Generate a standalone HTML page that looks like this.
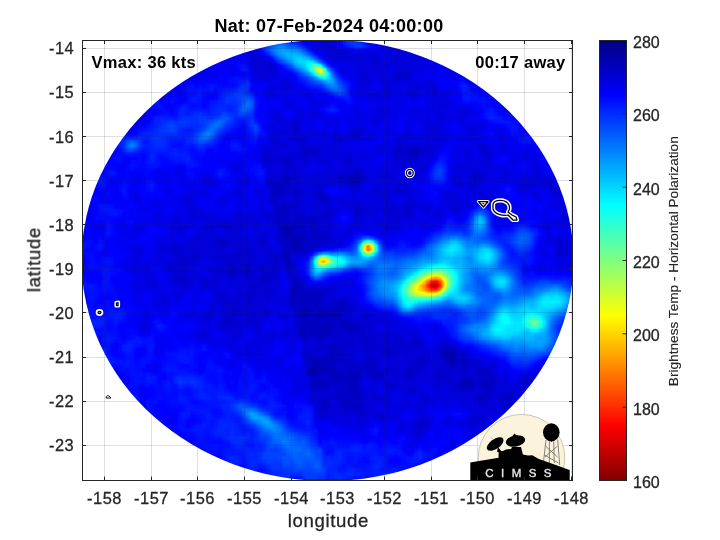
<!DOCTYPE html><html><head><meta charset="utf-8"><style>html,body{margin:0;padding:0;background:#fff;width:720px;height:540px;overflow:hidden}svg{display:block;will-change:transform}</style></head><body>
<svg width="720" height="540" viewBox="0 0 720 540">
<defs>
<filter id="jet" x="0" y="0" width="720" height="540" filterUnits="userSpaceOnUse" color-interpolation-filters="sRGB"><feGaussianBlur stdDeviation="1.2"/><feComponentTransfer><feFuncR type="table" tableValues="0 0 0 0 0.5 1 1 1 0.5"/><feFuncG type="table" tableValues="0 0 0.5 1 1 1 0.5 0 0"/><feFuncB type="table" tableValues="0.5 1 1 1 0.5 0 0 0 0"/><feFuncA type="identity"/></feComponentTransfer></filter>
<clipPath id="disk"><ellipse cx="327.5" cy="260.3" rx="246" ry="220.7"/></clipPath>
<clipPath id="ax"><rect x="82" y="40" width="490" height="440"/></clipPath>
<linearGradient id="cb" x1="0" y1="0" x2="0" y2="1"><stop offset="0.000" stop-color="#000080"/><stop offset="0.125" stop-color="#0000ff"/><stop offset="0.250" stop-color="#0080ff"/><stop offset="0.375" stop-color="#00ffff"/><stop offset="0.500" stop-color="#80ff80"/><stop offset="0.625" stop-color="#ffff00"/><stop offset="0.750" stop-color="#ff8000"/><stop offset="0.875" stop-color="#ff0000"/><stop offset="1.000" stop-color="#800000"/></linearGradient>
</defs>
<rect x="82" y="40" width="490" height="440" fill="#fff"/>
<g clip-path="url(#ax)"><g clip-path="url(#disk)"><g filter="url(#jet)" shape-rendering="crispEdges">
<rect x="0" y="0" width="720" height="540" fill="#1e1e1e"/>
<path fill="#0a0a0a" d="M450 356h4v4h-4z"/>
<path fill="#0b0b0b" d="M446 356h4v4h-4zM450 360h4v4h-4zM314 368h4v4h-4z"/>
<path fill="#0c0c0c" d="M354 176h4v4h-4zM286 228h4v4h-4zM286 232h4v4h-4zM282 256h4v4h-4zM450 352h4v4h-4zM314 364h4v4h-4zM310 368h4v4h-4z"/>
<path fill="#0d0d0d" d="M350 176h4v4h-4zM350 180h4v4h-4zM290 236h4v4h-4zM294 244h4v4h-4zM286 260h4v4h-4zM290 292h4v4h-4zM290 296h4v4h-4zM302 308h8v4h-8zM346 324h4v4h-4zM298 328h4v4h-4zM322 328h4v4h-4zM446 352h4v4h-4zM314 360h4v4h-4zM306 368h4v4h-4zM318 368h4v4h-4zM306 372h4v4h-4zM466 380h4v4h-4z"/>
<path fill="#0e0e0e" d="M354 180h4v4h-4zM282 228h4v4h-4zM286 236h4v4h-4zM290 240h12v4h-12zM298 244h4v4h-4zM282 252h4v4h-4zM286 264h4v4h-4zM290 288h4v4h-4zM294 292h4v4h-4zM310 292h4v4h-4zM294 296h4v4h-4zM302 304h4v4h-4zM302 312h4v4h-4zM318 312h8v4h-8zM334 312h4v4h-4zM322 324h8v4h-8zM298 332h4v4h-4zM322 332h4v4h-4zM442 352h4v4h-4zM318 360h4v4h-4zM446 360h4v4h-4zM318 364h4v4h-4zM322 368h8v4h-8zM310 372h8v4h-8zM330 372h4v4h-4zM346 380h4v4h-4zM462 380h4v4h-4zM470 380h4v4h-4z"/>
<path fill="#0f0f0f" d="M410 152h4v4h-4zM358 176h4v4h-4zM322 196h4v4h-4zM298 216h4v4h-4zM290 228h4v4h-4zM282 232h4v4h-4zM290 232h4v4h-4zM314 232h4v4h-4zM294 236h8v4h-8zM294 248h8v4h-8zM286 252h4v4h-4zM290 284h4v4h-4zM294 288h4v4h-4zM306 292h4v4h-4zM314 292h4v4h-4zM290 300h4v4h-4zM290 304h4v4h-4zM334 308h4v4h-4zM326 312h4v4h-4zM302 316h4v4h-4zM298 324h8v4h-8zM350 324h4v4h-4zM302 328h4v4h-4zM346 328h4v4h-4zM302 332h4v4h-4zM302 336h4v4h-4zM330 348h4v4h-4zM450 348h4v4h-4zM330 352h4v4h-4zM330 356h4v4h-4zM454 356h4v4h-4zM310 360h4v4h-4zM322 360h4v4h-4zM310 364h4v4h-4zM330 368h4v4h-4zM350 372h4v4h-4zM334 376h4v4h-4zM350 376h8v4h-8zM318 380h8v4h-8zM462 384h4v4h-4zM486 384h4v4h-4zM506 396h4v4h-4zM322 400h4v4h-4z"/>
<path fill="#101010" d="M410 148h8v4h-8zM286 176h4v4h-4zM274 188h8v4h-8zM274 192h4v4h-4zM282 212h4v4h-4zM274 216h4v4h-4zM274 220h4v4h-4zM298 220h4v4h-4zM286 224h4v4h-4zM278 228h4v4h-4zM218 240h8v4h-8zM286 240h4v4h-4zM290 244h4v4h-4zM282 248h4v4h-4zM286 256h4v4h-4zM230 272h4v4h-4zM290 280h4v4h-4zM294 284h8v4h-8zM298 288h4v4h-4zM318 292h4v4h-4zM306 296h8v4h-8zM342 300h4v4h-4zM306 304h4v4h-4zM338 304h4v4h-4zM318 308h8v4h-8zM330 308h4v4h-4zM338 308h4v4h-4zM298 312h4v4h-4zM306 312h4v4h-4zM330 312h4v4h-4zM338 312h4v4h-4zM298 316h4v4h-4zM318 316h4v4h-4zM334 316h8v4h-8zM310 320h8v4h-8zM306 324h8v4h-8zM318 324h4v4h-4zM342 324h4v4h-4zM318 328h4v4h-4zM326 328h4v4h-4zM350 328h4v4h-4zM314 332h8v4h-8zM318 336h4v4h-4zM334 348h4v4h-4zM334 352h4v4h-4zM454 352h4v4h-4zM326 356h4v4h-4zM330 360h4v4h-4zM454 360h4v4h-4zM322 364h4v4h-4zM334 372h4v4h-4zM354 372h4v4h-4zM378 372h4v4h-4zM314 376h4v4h-4zM330 376h4v4h-4zM338 376h12v4h-12zM314 380h4v4h-4zM342 380h4v4h-4zM350 380h8v4h-8zM486 380h4v4h-4zM310 384h4v4h-4zM322 384h4v4h-4zM346 384h12v4h-12zM466 384h4v4h-4zM482 384h4v4h-4zM354 388h4v4h-4zM346 396h4v4h-4zM478 396h4v4h-4zM506 408h4v4h-4zM506 412h4v4h-4z"/>
<path fill="#111111" d="M306 148h8v4h-8zM406 148h4v4h-4zM306 152h4v4h-4zM414 152h4v4h-4zM262 156h4v4h-4zM354 172h4v4h-4zM338 176h12v4h-12zM346 180h4v4h-4zM270 184h4v4h-4zM278 184h4v4h-4zM270 188h4v4h-4zM270 192h4v4h-4zM278 192h4v4h-4zM270 196h4v4h-4zM270 200h4v4h-4zM274 204h4v4h-4zM282 204h4v4h-4zM274 208h12v4h-12zM278 212h4v4h-4zM310 220h4v4h-4zM278 224h8v4h-8zM290 224h4v4h-4zM298 224h4v4h-4zM278 232h4v4h-4zM298 232h8v4h-8zM310 232h4v4h-4zM318 232h4v4h-4zM302 236h4v4h-4zM258 240h4v4h-4zM218 244h4v4h-4zM282 244h8v4h-8zM286 248h8v4h-8zM290 264h4v4h-4zM230 268h4v4h-4zM286 268h4v4h-4zM262 276h4v4h-4zM298 296h8v4h-8zM314 296h4v4h-4zM298 300h8v4h-8zM338 300h4v4h-4zM298 304h4v4h-4zM314 304h4v4h-4zM334 304h4v4h-4zM342 304h4v4h-4zM298 308h4v4h-4zM310 308h4v4h-4zM326 308h4v4h-4zM310 312h8v4h-8zM306 316h4v4h-4zM314 316h4v4h-4zM322 316h12v4h-12zM226 320h4v4h-4zM302 320h8v4h-8zM318 320h12v4h-12zM338 320h8v4h-8zM314 324h4v4h-4zM330 324h4v4h-4zM354 324h4v4h-4zM354 328h4v4h-4zM310 332h4v4h-4zM326 332h4v4h-4zM330 344h4v4h-4zM446 348h4v4h-4zM454 348h4v4h-4zM302 352h4v4h-4zM338 352h4v4h-4zM438 352h4v4h-4zM310 356h8v4h-8zM334 356h8v4h-8zM418 356h4v4h-4zM442 356h4v4h-4zM306 360h4v4h-4zM326 360h4v4h-4zM366 360h8v4h-8zM462 360h4v4h-4zM306 364h4v4h-4zM326 364h8v4h-8zM418 364h4v4h-4zM450 364h4v4h-4zM462 364h4v4h-4zM346 368h8v4h-8zM326 372h4v4h-4zM346 372h4v4h-4zM370 372h8v4h-8zM406 372h4v4h-4zM486 372h4v4h-4zM406 376h4v4h-4zM462 376h4v4h-4zM490 376h4v4h-4zM310 380h4v4h-4zM326 380h12v4h-12zM482 380h4v4h-4zM490 380h4v4h-4zM318 384h4v4h-4zM350 388h4v4h-4zM486 388h4v4h-4zM338 392h4v4h-4zM350 392h8v4h-8zM350 396h4v4h-4zM482 396h4v4h-4zM502 396h4v4h-4zM342 400h8v4h-8zM322 404h4v4h-4zM418 424h4v4h-4z"/>
<path fill="#121212" d="M354 132h4v4h-4zM314 148h4v4h-4zM398 148h4v4h-4zM418 148h4v4h-4zM262 152h4v4h-4zM302 152h4v4h-4zM398 152h4v4h-4zM406 152h4v4h-4zM410 156h8v4h-8zM286 160h4v4h-4zM350 172h4v4h-4zM358 172h4v4h-4zM474 172h4v4h-4zM282 176h4v4h-4zM474 176h4v4h-4zM358 180h4v4h-4zM474 180h4v4h-4zM274 184h4v4h-4zM282 184h4v4h-4zM350 184h4v4h-4zM282 188h4v4h-4zM294 188h4v4h-4zM294 192h4v4h-4zM318 192h4v4h-4zM274 196h4v4h-4zM318 196h4v4h-4zM286 204h4v4h-4zM354 208h4v4h-4zM274 212h4v4h-4zM326 212h4v4h-4zM278 216h8v4h-8zM302 216h4v4h-4zM310 216h4v4h-4zM278 220h4v4h-4zM290 220h8v4h-8zM314 220h4v4h-4zM222 224h4v4h-4zM278 236h8v4h-8zM314 236h16v4h-16zM282 240h4v4h-4zM302 240h4v4h-4zM310 240h8v4h-8zM302 244h4v4h-4zM310 244h8v4h-8zM302 248h4v4h-4zM270 252h4v4h-4zM270 256h8v4h-8zM290 260h4v4h-4zM226 268h4v4h-4zM266 272h4v4h-4zM178 276h4v4h-4zM266 276h4v4h-4zM290 276h4v4h-4zM294 280h4v4h-4zM302 288h4v4h-4zM314 288h8v4h-8zM250 292h4v4h-4zM298 292h8v4h-8zM318 296h4v4h-4zM294 300h4v4h-4zM314 300h4v4h-4zM310 304h4v4h-4zM294 308h4v4h-4zM314 308h4v4h-4zM342 308h4v4h-4zM294 312h4v4h-4zM310 316h4v4h-4zM222 320h4v4h-4zM298 320h4v4h-4zM330 320h4v4h-4zM346 320h4v4h-4zM358 324h4v4h-4zM306 328h12v4h-12zM330 328h8v4h-8zM358 328h4v4h-4zM306 332h4v4h-4zM334 332h4v4h-4zM314 336h4v4h-4zM322 336h4v4h-4zM362 336h4v4h-4zM414 340h4v4h-4zM326 344h4v4h-4zM334 344h4v4h-4zM390 348h4v4h-4zM442 348h4v4h-4zM326 352h4v4h-4zM390 352h4v4h-4zM302 356h8v4h-8zM318 356h8v4h-8zM342 356h4v4h-4zM422 356h4v4h-4zM334 360h4v4h-4zM458 360h4v4h-4zM334 364h4v4h-4zM350 364h20v4h-20zM466 364h4v4h-4zM334 368h4v4h-4zM354 368h8v4h-8zM410 368h8v4h-8zM478 368h4v4h-4zM318 372h4v4h-4zM338 372h8v4h-8zM358 372h4v4h-4zM482 372h4v4h-4zM310 376h4v4h-4zM318 376h4v4h-4zM358 376h4v4h-4zM374 376h8v4h-8zM466 376h4v4h-4zM486 376h4v4h-4zM314 384h4v4h-4zM326 384h4v4h-4zM390 384h4v4h-4zM458 384h4v4h-4zM470 384h4v4h-4zM490 384h4v4h-4zM310 388h4v4h-4zM346 388h4v4h-4zM410 388h4v4h-4zM458 388h4v4h-4zM334 392h4v4h-4zM346 392h4v4h-4zM358 392h4v4h-4zM482 392h4v4h-4zM506 392h4v4h-4zM322 396h4v4h-4zM334 396h12v4h-12zM358 396h4v4h-4zM474 396h4v4h-4zM510 396h4v4h-4zM478 400h4v4h-4zM346 404h12v4h-12zM510 404h8v4h-8zM318 408h8v4h-8zM502 408h4v4h-4zM510 408h4v4h-4z"/>
<path fill="#131313" d="M334 52h4v4h-4zM398 72h4v4h-4zM398 144h4v4h-4zM394 148h4v4h-4zM310 152h4v4h-4zM394 152h4v4h-4zM402 152h4v4h-4zM282 156h8v4h-8zM394 156h4v4h-4zM262 160h4v4h-4zM282 160h4v4h-4zM282 172h4v4h-4zM342 172h4v4h-4zM478 172h4v4h-4zM290 176h8v4h-8zM334 176h4v4h-4zM478 176h4v4h-4zM270 180h4v4h-4zM282 180h8v4h-8zM338 180h4v4h-4zM266 184h4v4h-4zM286 184h4v4h-4zM290 188h4v4h-4zM562 188h4v4h-4zM282 192h4v4h-4zM326 196h4v4h-4zM274 200h4v4h-4zM278 204h4v4h-4zM290 204h8v4h-8zM406 204h4v4h-4zM286 208h4v4h-4zM358 208h4v4h-4zM406 208h4v4h-4zM286 212h4v4h-4zM298 212h4v4h-4zM322 212h4v4h-4zM354 212h4v4h-4zM406 212h4v4h-4zM294 216h4v4h-4zM314 216h4v4h-4zM394 216h4v4h-4zM282 220h8v4h-8zM302 220h4v4h-4zM226 224h4v4h-4zM294 224h4v4h-4zM302 224h4v4h-4zM310 224h4v4h-4zM298 228h8v4h-8zM314 228h4v4h-4zM294 232h4v4h-4zM306 232h4v4h-4zM322 232h4v4h-4zM258 236h4v4h-4zM306 236h8v4h-8zM226 240h4v4h-4zM262 240h4v4h-4zM278 240h4v4h-4zM322 240h8v4h-8zM258 244h4v4h-4zM174 248h4v4h-4zM234 252h4v4h-4zM290 252h4v4h-4zM558 252h4v4h-4zM194 256h4v4h-4zM226 256h4v4h-4zM182 260h4v4h-4zM226 260h4v4h-4zM274 260h4v4h-4zM226 264h8v4h-8zM242 264h8v4h-8zM246 268h4v4h-4zM226 272h4v4h-4zM234 272h4v4h-4zM246 272h4v4h-4zM262 272h4v4h-4zM286 272h8v4h-8zM182 276h4v4h-4zM230 276h4v4h-4zM286 276h4v4h-4zM294 276h4v4h-4zM262 280h4v4h-4zM254 284h4v4h-4zM302 284h4v4h-4zM250 288h4v4h-4zM310 288h4v4h-4zM322 288h8v4h-8zM226 300h8v4h-8zM306 300h8v4h-8zM294 304h4v4h-4zM318 304h4v4h-4zM330 304h4v4h-4zM234 308h4v4h-4zM346 308h4v4h-4zM226 316h4v4h-4zM294 316h4v4h-4zM230 320h4v4h-4zM250 320h4v4h-4zM334 320h4v4h-4zM350 320h4v4h-4zM222 324h4v4h-4zM334 324h8v4h-8zM362 324h4v4h-4zM342 328h4v4h-4zM362 328h4v4h-4zM330 332h4v4h-4zM362 332h4v4h-4zM306 336h4v4h-4zM334 336h4v4h-4zM394 336h4v4h-4zM334 340h4v4h-4zM346 340h4v4h-4zM370 340h4v4h-4zM394 340h8v4h-8zM322 344h4v4h-4zM398 344h4v4h-4zM442 344h12v4h-12zM310 348h4v4h-4zM326 348h4v4h-4zM338 348h4v4h-4zM386 348h4v4h-4zM438 348h4v4h-4zM306 352h4v4h-4zM342 352h4v4h-4zM386 352h4v4h-4zM462 352h4v4h-4zM346 356h4v4h-4zM366 356h4v4h-4zM458 356h8v4h-8zM338 360h16v4h-16zM362 360h4v4h-4zM374 360h4v4h-4zM418 360h4v4h-4zM466 360h4v4h-4zM474 360h4v4h-4zM346 364h4v4h-4zM370 364h4v4h-4zM414 364h4v4h-4zM446 364h4v4h-4zM454 364h4v4h-4zM474 364h4v4h-4zM366 368h12v4h-12zM386 368h8v4h-8zM406 368h4v4h-4zM418 368h4v4h-4zM474 368h4v4h-4zM482 368h8v4h-8zM538 368h8v4h-8zM410 372h4v4h-4zM438 372h8v4h-8zM478 372h4v4h-4zM490 372h4v4h-4zM538 372h4v4h-4zM326 376h4v4h-4zM370 376h4v4h-4zM434 376h12v4h-12zM338 380h4v4h-4zM458 380h4v4h-4zM474 380h4v4h-4zM526 380h4v4h-4zM342 384h4v4h-4zM386 384h4v4h-4zM450 384h4v4h-4zM314 388h4v4h-4zM334 388h4v4h-4zM358 388h4v4h-4zM482 388h4v4h-4zM490 388h4v4h-4zM342 392h4v4h-4zM478 392h4v4h-4zM486 392h4v4h-4zM502 392h4v4h-4zM354 396h4v4h-4zM374 396h4v4h-4zM318 400h4v4h-4zM326 400h4v4h-4zM350 400h12v4h-12zM482 400h4v4h-4zM506 400h4v4h-4zM326 404h4v4h-4zM342 404h4v4h-4zM358 404h4v4h-4zM506 404h4v4h-4zM354 408h4v4h-4zM358 412h4v4h-4zM422 420h4v4h-4zM470 420h4v4h-4zM422 424h4v4h-4z"/>
<path fill="#141414" d="M250 56h4v4h-4zM394 56h4v4h-4zM250 60h8v4h-8zM394 60h4v4h-4zM270 64h4v4h-4zM362 72h4v4h-4zM394 72h4v4h-4zM402 72h8v4h-8zM394 76h4v4h-4zM410 92h4v4h-4zM294 120h4v4h-4zM294 124h4v4h-4zM294 128h4v4h-4zM358 132h4v4h-4zM334 136h8v4h-8zM334 140h4v4h-4zM406 144h4v4h-4zM414 144h4v4h-4zM302 148h4v4h-4zM318 148h4v4h-4zM402 148h4v4h-4zM422 148h4v4h-4zM482 148h4v4h-4zM314 152h4v4h-4zM486 152h4v4h-4zM266 156h4v4h-4zM278 156h4v4h-4zM302 156h4v4h-4zM346 156h4v4h-4zM398 156h4v4h-4zM406 156h4v4h-4zM290 160h4v4h-4zM346 160h4v4h-4zM286 164h8v4h-8zM354 168h4v4h-4zM286 172h4v4h-4zM346 172h4v4h-4zM470 172h4v4h-4zM362 176h4v4h-4zM470 176h4v4h-4zM266 180h4v4h-4zM274 180h8v4h-8zM342 180h4v4h-4zM290 184h4v4h-4zM474 184h4v4h-4zM286 188h4v4h-4zM374 188h4v4h-4zM394 188h8v4h-8zM558 188h4v4h-4zM298 192h4v4h-4zM314 192h4v4h-4zM322 192h4v4h-4zM294 200h4v4h-4zM322 200h4v4h-4zM354 204h8v4h-8zM290 208h8v4h-8zM326 208h4v4h-4zM362 208h4v4h-4zM394 208h4v4h-4zM290 212h8v4h-8zM286 216h8v4h-8zM306 216h4v4h-4zM318 216h12v4h-12zM566 216h4v4h-4zM210 224h4v4h-4zM314 224h4v4h-4zM294 228h4v4h-4zM310 228h4v4h-4zM326 232h4v4h-4zM218 236h4v4h-4zM214 240h4v4h-4zM230 240h8v4h-8zM306 240h4v4h-4zM318 240h4v4h-4zM558 240h4v4h-4zM170 244h8v4h-8zM222 244h4v4h-4zM558 244h4v4h-4zM170 248h4v4h-4zM246 248h4v4h-4zM558 248h4v4h-4zM174 252h4v4h-4zM194 252h4v4h-4zM238 252h12v4h-12zM274 252h4v4h-4zM294 252h4v4h-4zM190 256h4v4h-4zM218 256h8v4h-8zM230 256h12v4h-12zM278 256h4v4h-4zM178 260h4v4h-4zM242 260h8v4h-8zM270 260h4v4h-4zM258 264h4v4h-4zM214 268h12v4h-12zM234 268h4v4h-4zM242 268h4v4h-4zM266 268h4v4h-4zM290 268h4v4h-4zM178 272h8v4h-8zM214 272h4v4h-4zM250 272h4v4h-4zM270 272h8v4h-8zM174 276h4v4h-4zM178 280h8v4h-8zM202 280h8v4h-8zM258 280h4v4h-4zM266 280h4v4h-4zM298 280h4v4h-4zM250 284h4v4h-4zM254 288h4v4h-4zM266 288h4v4h-4zM306 288h4v4h-4zM330 288h4v4h-4zM246 292h4v4h-4zM322 292h4v4h-4zM246 296h8v4h-8zM222 300h4v4h-4zM318 300h4v4h-4zM334 300h4v4h-4zM222 304h12v4h-12zM246 304h8v4h-8zM346 304h4v4h-4zM230 308h4v4h-4zM234 312h4v4h-4zM254 312h4v4h-4zM342 312h4v4h-4zM230 316h4v4h-4zM250 316h4v4h-4zM342 316h4v4h-4zM362 316h4v4h-4zM234 320h4v4h-4zM254 320h4v4h-4zM294 320h4v4h-4zM354 320h4v4h-4zM362 320h12v4h-12zM226 324h4v4h-4zM234 324h4v4h-4zM366 324h4v4h-4zM338 328h4v4h-4zM346 332h8v4h-8zM358 332h4v4h-4zM310 336h4v4h-4zM366 336h8v4h-8zM382 336h8v4h-8zM398 336h4v4h-4zM302 340h4v4h-4zM338 340h8v4h-8zM362 340h8v4h-8zM382 340h8v4h-8zM410 340h4v4h-4zM418 340h4v4h-4zM338 344h12v4h-12zM370 344h8v4h-8zM394 344h4v4h-4zM402 344h4v4h-4zM414 344h8v4h-8zM302 348h4v4h-4zM314 348h4v4h-4zM342 348h4v4h-4zM382 348h4v4h-4zM394 348h4v4h-4zM402 348h8v4h-8zM310 352h4v4h-4zM346 352h8v4h-8zM394 352h4v4h-4zM406 352h4v4h-4zM418 352h4v4h-4zM458 352h4v4h-4zM350 356h4v4h-4zM370 356h4v4h-4zM414 356h4v4h-4zM426 356h4v4h-4zM354 360h4v4h-4zM414 360h4v4h-4zM426 360h4v4h-4zM470 360h4v4h-4zM338 364h4v4h-4zM374 364h4v4h-4zM390 364h4v4h-4zM406 364h4v4h-4zM434 364h8v4h-8zM458 364h4v4h-4zM338 368h8v4h-8zM362 368h4v4h-4zM378 368h4v4h-4zM394 368h4v4h-4zM438 368h4v4h-4zM462 368h4v4h-4zM490 368h4v4h-4zM322 372h4v4h-4zM366 372h4v4h-4zM382 372h4v4h-4zM434 372h4v4h-4zM462 372h4v4h-4zM474 372h4v4h-4zM402 376h4v4h-4zM410 376h4v4h-4zM470 376h16v4h-16zM526 376h4v4h-4zM538 376h4v4h-4zM390 380h4v4h-4zM434 380h4v4h-4zM446 380h8v4h-8zM522 380h4v4h-4zM530 380h4v4h-4zM330 384h8v4h-8zM434 384h4v4h-4zM454 384h4v4h-4zM318 388h8v4h-8zM338 388h8v4h-8zM406 388h4v4h-4zM414 388h4v4h-4zM454 388h4v4h-4zM462 388h4v4h-4zM310 392h4v4h-4zM510 392h4v4h-4zM310 396h4v4h-4zM318 396h4v4h-4zM486 396h4v4h-4zM498 396h4v4h-4zM338 400h4v4h-4zM418 400h8v4h-8zM474 400h4v4h-4zM486 400h4v4h-4zM510 400h4v4h-4zM318 404h4v4h-4zM326 408h4v4h-4zM346 408h8v4h-8zM358 408h4v4h-4zM318 412h8v4h-8zM354 412h4v4h-4zM362 412h4v4h-4zM502 412h4v4h-4zM418 420h4v4h-4zM478 420h8v4h-8zM414 424h4v4h-4zM418 428h4v4h-4z"/>
<path fill="#151515" d="M330 48h8v4h-8zM330 52h4v4h-4zM338 52h12v4h-12zM394 52h4v4h-4zM418 52h4v4h-4zM254 56h8v4h-8zM334 56h4v4h-4zM358 56h4v4h-4zM374 56h4v4h-4zM406 56h4v4h-4zM418 56h4v4h-4zM258 60h4v4h-4zM374 60h4v4h-4zM266 64h4v4h-4zM374 64h4v4h-4zM398 64h4v4h-4zM270 68h4v4h-4zM378 68h4v4h-4zM406 68h4v4h-4zM362 76h4v4h-4zM398 76h8v4h-8zM470 76h4v4h-4zM282 84h4v4h-4zM430 84h4v4h-4zM386 88h4v4h-4zM410 88h4v4h-4zM434 128h4v4h-4zM334 132h4v4h-4zM350 132h4v4h-4zM298 136h4v4h-4zM354 136h4v4h-4zM270 140h8v4h-8zM298 140h8v4h-8zM338 140h4v4h-4zM398 140h4v4h-4zM302 144h8v4h-8zM318 144h4v4h-4zM334 144h4v4h-4zM402 144h4v4h-4zM410 144h4v4h-4zM418 144h4v4h-4zM426 144h8v4h-8zM482 144h4v4h-4zM426 148h4v4h-4zM486 148h4v4h-4zM266 152h4v4h-4zM418 152h4v4h-4zM482 152h4v4h-4zM290 156h4v4h-4zM306 156h4v4h-4zM402 156h4v4h-4zM486 156h4v4h-4zM266 160h4v4h-4zM278 160h4v4h-4zM342 160h4v4h-4zM394 160h4v4h-4zM282 164h4v4h-4zM422 164h4v4h-4zM282 168h4v4h-4zM294 168h4v4h-4zM358 168h4v4h-4zM418 168h8v4h-8zM338 172h4v4h-4zM266 176h8v4h-8zM278 176h4v4h-4zM298 176h4v4h-4zM310 176h4v4h-4zM290 180h4v4h-4zM314 180h4v4h-4zM334 180h4v4h-4zM458 180h4v4h-4zM542 180h8v4h-8zM318 184h4v4h-4zM354 184h4v4h-4zM374 184h4v4h-4zM398 184h8v4h-8zM458 184h4v4h-4zM522 184h4v4h-4zM546 184h4v4h-4zM318 188h4v4h-4zM402 188h4v4h-4zM554 188h4v4h-4zM290 192h4v4h-4zM382 192h8v4h-8zM562 192h4v4h-4zM294 196h4v4h-4zM314 196h4v4h-4zM282 200h4v4h-4zM290 200h4v4h-4zM326 200h4v4h-4zM386 200h4v4h-4zM450 200h4v4h-4zM314 204h4v4h-4zM390 204h8v4h-8zM410 204h4v4h-4zM454 204h4v4h-4zM322 208h4v4h-4zM366 208h4v4h-4zM386 208h8v4h-8zM262 212h8v4h-8zM302 212h4v4h-4zM318 212h4v4h-4zM330 212h4v4h-4zM358 212h4v4h-4zM386 212h12v4h-12zM438 212h4v4h-4zM566 212h4v4h-4zM234 216h8v4h-8zM266 216h4v4h-4zM354 216h4v4h-4zM390 216h4v4h-4zM406 216h4v4h-4zM562 216h4v4h-4zM222 220h4v4h-4zM306 220h4v4h-4zM390 220h4v4h-4zM178 224h4v4h-4zM326 224h4v4h-4zM178 228h4v4h-4zM202 228h4v4h-4zM226 228h4v4h-4zM318 228h4v4h-4zM194 236h8v4h-8zM214 236h4v4h-4zM222 236h4v4h-4zM262 236h4v4h-4zM194 240h4v4h-4zM238 240h4v4h-4zM330 240h4v4h-4zM186 244h4v4h-4zM214 244h4v4h-4zM238 244h4v4h-4zM262 244h4v4h-4zM306 244h4v4h-4zM318 244h8v4h-8zM218 248h4v4h-4zM266 248h8v4h-8zM306 248h4v4h-4zM570 248h4v4h-4zM190 252h4v4h-4zM198 252h4v4h-4zM210 252h12v4h-12zM230 252h4v4h-4zM298 252h4v4h-4zM178 256h12v4h-12zM210 256h8v4h-8zM242 256h4v4h-4zM174 260h4v4h-4zM186 260h8v4h-8zM222 260h4v4h-4zM230 260h4v4h-4zM250 260h4v4h-4zM170 264h8v4h-8zM182 264h4v4h-4zM262 264h4v4h-4zM270 264h8v4h-8zM182 268h4v4h-4zM262 268h4v4h-4zM270 268h8v4h-8zM174 272h4v4h-4zM218 272h8v4h-8zM242 272h4v4h-4zM294 272h4v4h-4zM234 276h4v4h-4zM246 276h8v4h-8zM258 276h4v4h-4zM270 276h4v4h-4zM298 276h4v4h-4zM174 280h4v4h-4zM186 280h4v4h-4zM210 280h4v4h-4zM254 280h4v4h-4zM270 280h4v4h-4zM182 284h8v4h-8zM202 284h4v4h-4zM258 284h4v4h-4zM266 284h4v4h-4zM258 288h8v4h-8zM214 292h12v4h-12zM238 292h4v4h-4zM254 292h4v4h-4zM262 292h12v4h-12zM326 292h8v4h-8zM162 296h4v4h-4zM222 296h4v4h-4zM266 296h4v4h-4zM322 296h4v4h-4zM342 296h4v4h-4zM234 300h4v4h-4zM246 300h8v4h-8zM330 300h4v4h-4zM234 304h4v4h-4zM258 304h4v4h-4zM322 304h8v4h-8zM350 304h4v4h-4zM210 308h4v4h-4zM238 308h4v4h-4zM258 308h12v4h-12zM350 308h4v4h-4zM206 312h4v4h-4zM226 312h8v4h-8zM250 312h4v4h-4zM266 312h4v4h-4zM366 312h4v4h-4zM222 316h4v4h-4zM254 316h4v4h-4zM282 316h4v4h-4zM366 316h4v4h-4zM246 320h4v4h-4zM358 320h4v4h-4zM374 320h4v4h-4zM230 324h4v4h-4zM238 324h4v4h-4zM254 324h4v4h-4zM370 324h4v4h-4zM366 328h4v4h-4zM198 332h8v4h-8zM234 332h4v4h-4zM270 332h4v4h-4zM338 332h8v4h-8zM354 332h4v4h-4zM366 332h4v4h-4zM386 332h12v4h-12zM330 336h4v4h-4zM338 336h12v4h-12zM358 336h4v4h-4zM374 336h8v4h-8zM318 340h8v4h-8zM350 340h4v4h-4zM358 340h4v4h-4zM374 340h4v4h-4zM310 344h4v4h-4zM350 344h8v4h-8zM362 344h8v4h-8zM378 344h16v4h-16zM406 344h8v4h-8zM454 344h4v4h-4zM322 348h4v4h-4zM350 348h4v4h-4zM366 348h16v4h-16zM398 348h4v4h-4zM410 348h4v4h-4zM418 348h4v4h-4zM314 352h12v4h-12zM382 352h4v4h-4zM410 352h4v4h-4zM422 352h4v4h-4zM434 352h4v4h-4zM466 352h4v4h-4zM374 356h4v4h-4zM386 356h12v4h-12zM406 356h8v4h-8zM438 356h4v4h-4zM358 360h4v4h-4zM410 360h4v4h-4zM422 360h4v4h-4zM430 360h8v4h-8zM342 364h4v4h-4zM394 364h4v4h-4zM410 364h4v4h-4zM422 364h4v4h-4zM470 364h4v4h-4zM478 364h4v4h-4zM434 368h4v4h-4zM442 368h12v4h-12zM458 368h4v4h-4zM466 368h4v4h-4zM390 372h8v4h-8zM402 372h4v4h-4zM414 372h8v4h-8zM446 372h4v4h-4zM458 372h4v4h-4zM322 376h4v4h-4zM394 376h4v4h-4zM422 376h4v4h-4zM446 376h4v4h-4zM458 376h4v4h-4zM494 376h4v4h-4zM522 376h4v4h-4zM358 380h4v4h-4zM394 380h4v4h-4zM438 380h4v4h-4zM478 380h4v4h-4zM494 380h4v4h-4zM518 380h4v4h-4zM394 384h4v4h-4zM410 384h4v4h-4zM438 384h4v4h-4zM474 384h8v4h-8zM326 388h4v4h-4zM514 388h4v4h-4zM314 392h4v4h-4zM370 392h4v4h-4zM458 392h4v4h-4zM474 392h4v4h-4zM498 392h4v4h-4zM326 396h4v4h-4zM362 396h4v4h-4zM370 396h4v4h-4zM378 396h12v4h-12zM422 396h8v4h-8zM470 396h4v4h-4zM310 400h4v4h-4zM362 400h4v4h-4zM502 400h4v4h-4zM338 404h4v4h-4zM362 404h4v4h-4zM478 404h12v4h-12zM502 404h4v4h-4zM314 408h4v4h-4zM342 408h4v4h-4zM490 408h4v4h-4zM346 412h8v4h-8zM374 412h8v4h-8zM378 416h4v4h-4zM470 416h12v4h-12zM426 420h4v4h-4zM466 420h4v4h-4zM474 420h4v4h-4zM414 428h4v4h-4z"/>
<path fill="#161616" d="M322 40h8v4h-8zM326 44h4v4h-4zM390 44h4v4h-4zM394 48h4v4h-4zM358 52h4v4h-4zM398 52h4v4h-4zM406 52h4v4h-4zM422 52h4v4h-4zM354 56h4v4h-4zM370 56h4v4h-4zM390 56h4v4h-4zM410 56h8v4h-8zM266 60h4v4h-4zM358 60h4v4h-4zM378 60h4v4h-4zM390 60h4v4h-4zM250 64h12v4h-12zM370 64h4v4h-4zM378 64h4v4h-4zM402 64h4v4h-4zM362 68h4v4h-4zM398 68h8v4h-8zM258 72h8v4h-8zM366 72h4v4h-4zM378 72h4v4h-4zM262 76h4v4h-4zM366 76h4v4h-4zM390 76h4v4h-4zM406 76h4v4h-4zM282 80h4v4h-4zM430 80h4v4h-4zM278 84h4v4h-4zM426 84h4v4h-4zM406 92h4v4h-4zM414 92h4v4h-4zM430 124h8v4h-8zM274 128h4v4h-4zM290 128h4v4h-4zM298 128h4v4h-4zM354 128h8v4h-8zM430 128h4v4h-4zM294 132h8v4h-8zM430 132h8v4h-8zM270 136h4v4h-4zM294 136h4v4h-4zM302 136h4v4h-4zM346 136h8v4h-8zM358 136h4v4h-4zM278 140h4v4h-4zM430 140h4v4h-4zM274 144h8v4h-8zM310 144h8v4h-8zM330 144h4v4h-4zM394 144h4v4h-4zM422 144h4v4h-4zM262 148h4v4h-4zM286 152h4v4h-4zM298 152h4v4h-4zM334 152h4v4h-4zM346 152h4v4h-4zM426 152h8v4h-8zM270 156h8v4h-8zM326 156h4v4h-4zM342 156h4v4h-4zM418 156h4v4h-4zM274 160h4v4h-4zM302 160h4v4h-4zM318 160h4v4h-4zM398 160h20v4h-20zM426 160h4v4h-4zM294 164h4v4h-4zM354 164h4v4h-4zM402 164h4v4h-4zM486 164h4v4h-4zM286 168h8v4h-8zM406 168h4v4h-4zM454 168h4v4h-4zM474 168h4v4h-4zM290 172h8v4h-8zM362 172h4v4h-4zM406 172h4v4h-4zM202 176h4v4h-4zM314 176h4v4h-4zM330 176h4v4h-4zM378 176h4v4h-4zM530 176h4v4h-4zM206 180h4v4h-4zM310 180h4v4h-4zM318 180h8v4h-8zM362 180h4v4h-4zM454 180h4v4h-4zM470 180h4v4h-4zM478 180h4v4h-4zM526 180h8v4h-8zM294 184h4v4h-4zM314 184h4v4h-4zM394 184h4v4h-4zM470 184h4v4h-4zM526 184h4v4h-4zM550 184h4v4h-4zM298 188h4v4h-4zM314 188h4v4h-4zM386 188h4v4h-4zM406 188h4v4h-4zM550 188h4v4h-4zM286 192h4v4h-4zM310 192h4v4h-4zM374 192h8v4h-8zM554 192h8v4h-8zM278 196h4v4h-4zM290 196h4v4h-4zM298 196h4v4h-4zM382 196h8v4h-8zM478 196h4v4h-4zM186 200h4v4h-4zM286 200h4v4h-4zM298 200h4v4h-4zM314 200h8v4h-8zM454 200h4v4h-4zM298 204h4v4h-4zM322 204h8v4h-8zM346 204h4v4h-4zM386 204h4v4h-4zM402 204h4v4h-4zM422 204h4v4h-4zM450 204h4v4h-4zM314 208h8v4h-8zM330 208h4v4h-4zM370 208h4v4h-4zM382 208h4v4h-4zM402 208h4v4h-4zM410 208h4v4h-4zM422 208h4v4h-4zM454 208h4v4h-4zM190 212h4v4h-4zM234 212h8v4h-8zM310 212h8v4h-8zM362 212h8v4h-8zM402 212h4v4h-4zM410 212h4v4h-4zM562 212h4v4h-4zM250 216h4v4h-4zM238 220h4v4h-4zM250 220h4v4h-4zM326 220h4v4h-4zM354 220h4v4h-4zM386 220h4v4h-4zM394 220h4v4h-4zM202 224h8v4h-8zM238 224h4v4h-4zM306 224h4v4h-4zM206 228h8v4h-8zM230 228h12v4h-12zM306 228h4v4h-4zM322 228h8v4h-8zM346 228h4v4h-4zM198 232h4v4h-4zM230 232h8v4h-8zM330 232h4v4h-4zM346 232h4v4h-4zM210 236h4v4h-4zM226 236h4v4h-4zM330 236h4v4h-4zM558 236h4v4h-4zM170 240h4v4h-4zM186 240h8v4h-8zM198 240h4v4h-4zM210 240h4v4h-4zM246 240h4v4h-4zM254 240h4v4h-4zM334 240h4v4h-4zM554 240h4v4h-4zM562 240h4v4h-4zM158 244h4v4h-4zM182 244h4v4h-4zM190 244h8v4h-8zM226 244h12v4h-12zM246 244h4v4h-4zM254 244h4v4h-4zM562 244h4v4h-4zM570 244h4v4h-4zM166 248h4v4h-4zM186 248h12v4h-12zM214 248h4v4h-4zM238 248h8v4h-8zM310 248h4v4h-4zM562 248h4v4h-4zM178 252h4v4h-4zM222 252h8v4h-8zM250 252h4v4h-4zM266 252h4v4h-4zM302 252h4v4h-4zM562 252h4v4h-4zM174 256h4v4h-4zM198 256h4v4h-4zM246 256h8v4h-8zM290 256h4v4h-4zM558 256h4v4h-4zM170 260h4v4h-4zM194 260h4v4h-4zM238 260h4v4h-4zM262 260h8v4h-8zM278 260h4v4h-4zM166 264h4v4h-4zM178 264h4v4h-4zM186 264h4v4h-4zM222 264h4v4h-4zM234 264h8v4h-8zM250 264h8v4h-8zM266 264h4v4h-4zM570 264h4v4h-4zM170 268h8v4h-8zM210 268h4v4h-4zM238 268h4v4h-4zM250 268h4v4h-4zM258 268h4v4h-4zM186 272h4v4h-4zM254 272h4v4h-4zM186 276h4v4h-4zM194 276h8v4h-8zM210 276h8v4h-8zM226 276h4v4h-4zM254 276h4v4h-4zM274 276h4v4h-4zM146 280h4v4h-4zM214 280h4v4h-4zM246 280h8v4h-8zM178 284h4v4h-4zM206 284h8v4h-8zM262 284h4v4h-4zM270 284h4v4h-4zM238 288h4v4h-4zM270 288h4v4h-4zM334 288h4v4h-4zM234 292h4v4h-4zM242 292h4v4h-4zM258 292h4v4h-4zM226 296h4v4h-4zM242 296h4v4h-4zM262 296h4v4h-4zM270 296h4v4h-4zM278 300h8v4h-8zM322 300h8v4h-8zM346 300h4v4h-4zM210 304h4v4h-4zM242 304h4v4h-4zM262 304h4v4h-4zM222 308h8v4h-8zM250 308h8v4h-8zM210 312h4v4h-4zM238 312h4v4h-4zM262 312h4v4h-4zM282 312h4v4h-4zM346 312h4v4h-4zM362 312h4v4h-4zM202 316h4v4h-4zM234 316h4v4h-4zM246 316h4v4h-4zM346 316h8v4h-8zM374 316h4v4h-4zM218 324h4v4h-4zM250 324h4v4h-4zM234 328h4v4h-4zM286 328h4v4h-4zM386 328h4v4h-4zM230 332h4v4h-4zM370 332h16v4h-16zM410 332h4v4h-4zM198 336h4v4h-4zM326 336h4v4h-4zM350 336h4v4h-4zM390 336h4v4h-4zM410 336h8v4h-8zM306 340h4v4h-4zM330 340h4v4h-4zM354 340h4v4h-4zM378 340h4v4h-4zM390 340h4v4h-4zM402 340h4v4h-4zM442 340h4v4h-4zM314 344h8v4h-8zM358 344h4v4h-4zM438 344h4v4h-4zM306 348h4v4h-4zM318 348h4v4h-4zM346 348h4v4h-4zM354 348h12v4h-12zM366 352h4v4h-4zM378 352h4v4h-4zM398 352h8v4h-8zM426 352h4v4h-4zM362 356h4v4h-4zM378 356h4v4h-4zM398 356h4v4h-4zM466 356h4v4h-4zM390 360h4v4h-4zM406 360h4v4h-4zM442 360h4v4h-4zM386 364h4v4h-4zM442 364h4v4h-4zM490 364h4v4h-4zM382 368h4v4h-4zM454 368h4v4h-4zM470 368h4v4h-4zM362 372h4v4h-4zM386 372h4v4h-4zM422 372h4v4h-4zM450 372h4v4h-4zM466 372h8v4h-8zM382 376h4v4h-4zM398 376h4v4h-4zM498 376h4v4h-4zM530 376h4v4h-4zM386 380h4v4h-4zM406 380h4v4h-4zM442 380h4v4h-4zM454 380h4v4h-4zM338 384h4v4h-4zM358 384h4v4h-4zM398 384h4v4h-4zM406 384h4v4h-4zM414 384h4v4h-4zM446 384h4v4h-4zM494 384h4v4h-4zM514 384h8v4h-8zM530 384h4v4h-4zM330 388h4v4h-4zM370 388h4v4h-4zM386 388h4v4h-4zM402 388h4v4h-4zM418 388h4v4h-4zM438 388h4v4h-4zM450 388h4v4h-4zM466 388h8v4h-8zM478 388h4v4h-4zM494 388h4v4h-4zM502 388h4v4h-4zM510 388h4v4h-4zM326 392h8v4h-8zM374 392h4v4h-4zM386 392h4v4h-4zM410 392h4v4h-4zM462 392h4v4h-4zM490 392h4v4h-4zM526 392h4v4h-4zM314 396h4v4h-4zM330 396h4v4h-4zM466 396h4v4h-4zM314 400h4v4h-4zM386 400h4v4h-4zM426 400h4v4h-4zM490 400h4v4h-4zM514 400h4v4h-4zM490 404h4v4h-4zM334 408h8v4h-8zM362 408h8v4h-8zM494 408h8v4h-8zM326 412h12v4h-12zM366 412h4v4h-4zM358 416h8v4h-8zM382 416h4v4h-4zM422 416h4v4h-4zM426 424h4v4h-4zM470 424h4v4h-4zM482 424h4v4h-4zM414 432h8v4h-8z"/>
<path fill="#171717" d="M318 40h4v4h-4zM322 44h4v4h-4zM330 44h4v4h-4zM326 48h4v4h-4zM338 48h4v4h-4zM390 48h4v4h-4zM398 48h4v4h-4zM326 52h4v4h-4zM350 52h4v4h-4zM362 52h12v4h-12zM390 52h4v4h-4zM402 52h4v4h-4zM414 52h4v4h-4zM330 56h4v4h-4zM338 56h16v4h-16zM362 56h4v4h-4zM398 56h4v4h-4zM422 56h4v4h-4zM262 60h4v4h-4zM354 60h4v4h-4zM362 60h4v4h-4zM370 60h4v4h-4zM398 60h4v4h-4zM262 64h4v4h-4zM382 64h4v4h-4zM394 64h4v4h-4zM406 64h4v4h-4zM254 68h16v4h-16zM366 68h4v4h-4zM374 68h4v4h-4zM394 68h4v4h-4zM254 72h4v4h-4zM266 72h8v4h-8zM358 72h4v4h-4zM374 72h4v4h-4zM462 72h4v4h-4zM258 76h4v4h-4zM266 76h4v4h-4zM378 76h4v4h-4zM286 80h4v4h-4zM362 80h8v4h-8zM382 80h4v4h-4zM390 80h4v4h-4zM410 80h4v4h-4zM286 84h4v4h-4zM362 84h4v4h-4zM386 84h4v4h-4zM410 84h4v4h-4zM418 84h4v4h-4zM406 88h4v4h-4zM430 88h4v4h-4zM374 92h4v4h-4zM386 92h4v4h-4zM430 92h8v4h-8zM434 96h4v4h-4zM378 108h4v4h-4zM462 108h4v4h-4zM274 112h4v4h-4zM314 112h4v4h-4zM378 112h4v4h-4zM274 116h8v4h-8zM294 116h8v4h-8zM378 116h4v4h-4zM278 120h4v4h-4zM290 120h4v4h-4zM374 120h4v4h-4zM430 120h4v4h-4zM286 124h8v4h-8zM298 124h4v4h-4zM470 124h4v4h-4zM270 128h4v4h-4zM278 128h12v4h-12zM350 128h4v4h-4zM290 132h4v4h-4zM322 132h4v4h-4zM338 132h4v4h-4zM346 132h4v4h-4zM422 132h8v4h-8zM274 136h4v4h-4zM398 136h8v4h-8zM430 136h8v4h-8zM330 140h4v4h-4zM394 140h4v4h-4zM402 140h4v4h-4zM434 140h4v4h-4zM258 144h4v4h-4zM270 144h4v4h-4zM282 144h4v4h-4zM298 144h4v4h-4zM326 144h4v4h-4zM434 144h4v4h-4zM478 144h4v4h-4zM486 144h4v4h-4zM266 148h8v4h-8zM298 148h4v4h-4zM326 148h12v4h-12zM374 148h8v4h-8zM390 148h4v4h-4zM430 148h4v4h-4zM478 148h4v4h-4zM270 152h4v4h-4zM282 152h4v4h-4zM290 152h4v4h-4zM318 152h4v4h-4zM326 152h8v4h-8zM342 152h4v4h-4zM422 152h4v4h-4zM466 152h4v4h-4zM298 156h4v4h-4zM322 156h4v4h-4zM482 156h4v4h-4zM530 156h4v4h-4zM270 160h4v4h-4zM314 160h4v4h-4zM350 160h4v4h-4zM422 160h4v4h-4zM482 160h8v4h-8zM266 164h4v4h-4zM278 164h4v4h-4zM342 164h4v4h-4zM350 164h4v4h-4zM382 164h4v4h-4zM394 164h4v4h-4zM406 164h4v4h-4zM418 164h4v4h-4zM454 164h4v4h-4zM266 168h4v4h-4zM278 168h4v4h-4zM298 168h4v4h-4zM346 168h8v4h-8zM362 168h4v4h-4zM394 168h4v4h-4zM402 168h4v4h-4zM458 168h4v4h-4zM470 168h4v4h-4zM266 172h8v4h-8zM278 172h4v4h-4zM310 172h4v4h-4zM322 172h4v4h-4zM378 172h4v4h-4zM390 172h4v4h-4zM410 172h12v4h-12zM482 172h4v4h-4zM502 172h8v4h-8zM206 176h4v4h-4zM274 176h4v4h-4zM306 176h4v4h-4zM322 176h8v4h-8zM382 176h4v4h-4zM390 176h4v4h-4zM450 176h8v4h-8zM482 176h4v4h-4zM502 176h4v4h-4zM534 176h4v4h-4zM202 180h4v4h-4zM294 180h8v4h-8zM306 180h4v4h-4zM326 180h8v4h-8zM522 180h4v4h-4zM346 184h4v4h-4zM378 184h4v4h-4zM390 184h4v4h-4zM406 184h4v4h-4zM454 184h4v4h-4zM518 184h4v4h-4zM542 184h4v4h-4zM234 188h4v4h-4zM258 188h4v4h-4zM302 188h4v4h-4zM370 188h4v4h-4zM378 188h4v4h-4zM390 188h4v4h-4zM410 188h4v4h-4zM466 188h4v4h-4zM234 192h8v4h-8zM302 192h4v4h-4zM370 192h4v4h-4zM394 192h4v4h-4zM406 192h4v4h-4zM442 192h8v4h-8zM478 192h4v4h-4zM550 192h4v4h-4zM182 196h8v4h-8zM282 196h4v4h-4zM310 196h4v4h-4zM446 196h8v4h-8zM482 196h8v4h-8zM182 200h4v4h-4zM218 200h8v4h-8zM278 200h4v4h-4zM342 200h20v4h-20zM406 200h8v4h-8zM458 200h4v4h-4zM306 204h8v4h-8zM318 204h4v4h-4zM350 204h4v4h-4zM362 204h4v4h-4zM370 204h8v4h-8zM382 204h4v4h-4zM458 204h4v4h-4zM298 208h4v4h-4zM334 208h4v4h-4zM350 208h4v4h-4zM426 208h4v4h-4zM194 212h8v4h-8zM206 212h4v4h-4zM370 212h4v4h-4zM382 212h4v4h-4zM434 212h4v4h-4zM154 216h4v4h-4zM174 216h4v4h-4zM190 216h4v4h-4zM202 216h4v4h-4zM246 216h4v4h-4zM270 216h4v4h-4zM330 216h4v4h-4zM386 216h4v4h-4zM398 216h4v4h-4zM410 216h4v4h-4zM174 220h4v4h-4zM210 220h4v4h-4zM226 220h4v4h-4zM234 220h4v4h-4zM254 220h4v4h-4zM266 220h4v4h-4zM318 220h8v4h-8zM374 220h4v4h-4zM558 220h8v4h-8zM182 224h4v4h-4zM214 224h8v4h-8zM230 224h8v4h-8zM254 224h4v4h-4zM318 224h8v4h-8zM170 228h8v4h-8zM182 228h4v4h-4zM222 228h4v4h-4zM254 228h4v4h-4zM262 228h4v4h-4zM330 228h4v4h-4zM382 228h4v4h-4zM226 232h4v4h-4zM258 232h8v4h-8zM342 232h4v4h-4zM230 236h8v4h-8zM562 236h4v4h-4zM202 240h8v4h-8zM242 240h4v4h-4zM338 240h4v4h-4zM166 244h4v4h-4zM198 244h12v4h-12zM242 244h4v4h-4zM266 244h4v4h-4zM326 244h8v4h-8zM554 244h4v4h-4zM566 244h4v4h-4zM138 248h4v4h-4zM158 248h8v4h-8zM178 248h4v4h-4zM198 248h12v4h-12zM250 248h16v4h-16zM566 248h4v4h-4zM138 252h4v4h-4zM170 252h4v4h-4zM186 252h4v4h-4zM202 252h8v4h-8zM254 252h4v4h-4zM554 252h4v4h-4zM158 256h4v4h-4zM162 260h4v4h-4zM218 260h4v4h-4zM234 260h4v4h-4zM254 260h8v4h-8zM570 260h4v4h-4zM278 264h4v4h-4zM142 268h4v4h-4zM178 268h4v4h-4zM186 268h4v4h-4zM254 268h4v4h-4zM294 268h4v4h-4zM170 272h4v4h-4zM190 272h8v4h-8zM210 272h4v4h-4zM238 272h4v4h-4zM258 272h4v4h-4zM170 276h4v4h-4zM190 276h4v4h-4zM242 276h4v4h-4zM170 280h4v4h-4zM190 280h4v4h-4zM230 280h4v4h-4zM242 280h4v4h-4zM302 280h4v4h-4zM174 284h4v4h-4zM214 284h4v4h-4zM234 284h8v4h-8zM246 284h4v4h-4zM314 284h24v4h-24zM214 288h4v4h-4zM222 288h4v4h-4zM234 288h4v4h-4zM246 288h4v4h-4zM174 292h4v4h-4zM274 292h4v4h-4zM334 292h4v4h-4zM218 296h4v4h-4zM230 296h12v4h-12zM254 296h8v4h-8zM274 296h8v4h-8zM326 296h4v4h-4zM338 296h4v4h-4zM218 300h4v4h-4zM258 300h8v4h-8zM238 304h4v4h-4zM254 304h4v4h-4zM354 304h4v4h-4zM206 308h4v4h-4zM242 308h8v4h-8zM362 308h4v4h-4zM222 312h4v4h-4zM246 312h4v4h-4zM258 312h4v4h-4zM278 312h4v4h-4zM370 312h4v4h-4zM198 316h4v4h-4zM206 316h4v4h-4zM258 316h8v4h-8zM278 316h4v4h-4zM370 316h4v4h-4zM378 316h4v4h-4zM390 316h4v4h-4zM218 320h4v4h-4zM238 320h8v4h-8zM258 320h4v4h-4zM390 320h8v4h-8zM258 324h4v4h-4zM202 328h4v4h-4zM230 328h4v4h-4zM238 328h4v4h-4zM254 328h4v4h-4zM290 328h8v4h-8zM370 328h4v4h-4zM238 332h4v4h-4zM266 332h4v4h-4zM274 332h4v4h-4zM282 332h8v4h-8zM398 332h4v4h-4zM414 332h4v4h-4zM266 336h8v4h-8zM354 336h4v4h-4zM418 336h4v4h-4zM314 340h4v4h-4zM406 340h4v4h-4zM302 344h8v4h-8zM414 348h4v4h-4zM434 348h4v4h-4zM246 352h8v4h-8zM354 352h4v4h-4zM362 352h4v4h-4zM370 352h8v4h-8zM414 352h4v4h-4zM430 356h8v4h-8zM378 360h4v4h-4zM394 360h8v4h-8zM438 360h4v4h-4zM478 360h4v4h-4zM398 364h8v4h-8zM430 364h4v4h-4zM402 368h4v4h-4zM422 368h4v4h-4zM430 368h4v4h-4zM430 372h4v4h-4zM366 376h4v4h-4zM390 376h4v4h-4zM414 376h4v4h-4zM426 376h8v4h-8zM450 376h4v4h-4zM518 376h4v4h-4zM534 376h4v4h-4zM410 380h4v4h-4zM430 380h4v4h-4zM402 384h4v4h-4zM502 384h12v4h-12zM390 388h4v4h-4zM398 388h4v4h-4zM434 388h4v4h-4zM474 388h4v4h-4zM498 388h4v4h-4zM506 388h4v4h-4zM518 388h4v4h-4zM318 392h8v4h-8zM362 392h4v4h-4zM382 392h4v4h-4zM406 392h4v4h-4zM414 392h4v4h-4zM450 392h8v4h-8zM470 392h4v4h-4zM494 392h4v4h-4zM514 392h4v4h-4zM438 396h4v4h-4zM450 396h4v4h-4zM458 396h8v4h-8zM490 396h8v4h-8zM334 400h4v4h-4zM366 400h12v4h-12zM402 400h8v4h-8zM430 400h4v4h-4zM470 400h4v4h-4zM518 400h4v4h-4zM314 404h4v4h-4zM366 404h4v4h-4zM386 404h8v4h-8zM402 404h4v4h-4zM462 404h4v4h-4zM474 404h4v4h-4zM330 408h4v4h-4zM370 408h4v4h-4zM478 408h12v4h-12zM314 412h4v4h-4zM338 412h8v4h-8zM370 412h4v4h-4zM478 412h4v4h-4zM330 416h8v4h-8zM426 416h4v4h-4zM502 416h4v4h-4zM414 420h4v4h-4zM446 420h4v4h-4zM462 420h4v4h-4zM398 424h4v4h-4zM478 436h4v4h-4z"/>
<path fill="#181818" d="M330 40h4v4h-4zM394 44h4v4h-4zM246 48h12v4h-12zM402 48h8v4h-8zM246 52h8v4h-8zM354 52h4v4h-4zM374 52h4v4h-4zM410 52h4v4h-4zM262 56h4v4h-4zM366 56h4v4h-4zM378 56h4v4h-4zM402 56h4v4h-4zM334 60h4v4h-4zM350 60h4v4h-4zM382 60h8v4h-8zM410 60h4v4h-4zM362 64h8v4h-8zM386 64h4v4h-4zM410 64h8v4h-8zM422 64h4v4h-4zM274 68h4v4h-4zM342 68h4v4h-4zM382 68h4v4h-4zM410 68h12v4h-12zM390 72h4v4h-4zM410 72h4v4h-4zM254 76h4v4h-4zM270 76h4v4h-4zM358 76h4v4h-4zM374 76h4v4h-4zM382 76h4v4h-4zM410 76h4v4h-4zM466 76h4v4h-4zM358 80h4v4h-4zM386 80h4v4h-4zM394 80h4v4h-4zM426 80h4v4h-4zM474 80h4v4h-4zM270 84h4v4h-4zM290 84h4v4h-4zM358 84h4v4h-4zM366 84h4v4h-4zM382 84h4v4h-4zM390 84h4v4h-4zM414 84h4v4h-4zM422 84h4v4h-4zM434 84h4v4h-4zM270 88h4v4h-4zM382 88h4v4h-4zM390 88h4v4h-4zM414 88h4v4h-4zM434 88h4v4h-4zM366 92h8v4h-8zM306 96h4v4h-4zM366 96h4v4h-4zM374 96h8v4h-8zM410 96h4v4h-4zM442 96h4v4h-4zM286 100h4v4h-4zM434 100h4v4h-4zM442 100h8v4h-8zM286 104h4v4h-4zM438 104h12v4h-12zM314 108h4v4h-4zM374 108h4v4h-4zM382 108h4v4h-4zM430 108h4v4h-4zM438 108h4v4h-4zM458 108h4v4h-4zM466 108h4v4h-4zM270 112h4v4h-4zM278 112h4v4h-4zM298 112h4v4h-4zM310 112h4v4h-4zM382 112h4v4h-4zM438 112h8v4h-8zM458 112h16v4h-16zM306 116h4v4h-4zM322 116h4v4h-4zM374 116h4v4h-4zM418 116h4v4h-4zM438 116h8v4h-8zM450 116h4v4h-4zM458 116h4v4h-4zM274 120h4v4h-4zM286 120h4v4h-4zM298 120h4v4h-4zM370 120h4v4h-4zM434 120h8v4h-8zM426 124h4v4h-4zM466 124h4v4h-4zM474 124h8v4h-8zM322 128h4v4h-4zM362 128h4v4h-4zM422 128h8v4h-8zM438 128h4v4h-4zM466 128h8v4h-8zM498 128h4v4h-4zM274 132h8v4h-8zM286 132h4v4h-4zM302 132h4v4h-4zM362 132h4v4h-4zM402 132h8v4h-8zM438 132h4v4h-4zM466 132h12v4h-12zM286 136h8v4h-8zM342 136h4v4h-4zM370 136h4v4h-4zM406 136h4v4h-4zM426 136h4v4h-4zM438 136h8v4h-8zM470 136h4v4h-4zM282 140h4v4h-4zM294 140h4v4h-4zM306 140h4v4h-4zM406 140h4v4h-4zM414 140h4v4h-4zM438 140h4v4h-4zM286 144h4v4h-4zM322 144h4v4h-4zM378 144h8v4h-8zM274 148h4v4h-4zM286 148h4v4h-4zM294 148h4v4h-4zM322 148h4v4h-4zM466 148h4v4h-4zM498 148h4v4h-4zM278 152h4v4h-4zM294 152h4v4h-4zM338 152h4v4h-4zM362 152h4v4h-4zM374 152h4v4h-4zM390 152h4v4h-4zM490 152h4v4h-4zM294 156h4v4h-4zM314 156h8v4h-8zM334 156h8v4h-8zM350 156h4v4h-4zM362 156h4v4h-4zM390 156h4v4h-4zM426 156h8v4h-8zM466 156h4v4h-4zM294 160h4v4h-4zM306 160h4v4h-4zM322 160h8v4h-8zM338 160h4v4h-4zM354 160h4v4h-4zM390 160h4v4h-4zM418 160h4v4h-4zM462 160h8v4h-8zM474 160h8v4h-8zM530 160h8v4h-8zM262 164h4v4h-4zM298 164h8v4h-8zM326 164h8v4h-8zM346 164h4v4h-4zM398 164h4v4h-4zM426 164h4v4h-4zM458 164h20v4h-20zM482 164h4v4h-4zM534 164h4v4h-4zM270 168h4v4h-4zM322 168h12v4h-12zM342 168h4v4h-4zM366 168h4v4h-4zM378 168h4v4h-4zM390 168h4v4h-4zM398 168h4v4h-4zM410 168h8v4h-8zM462 168h4v4h-4zM478 168h4v4h-4zM298 172h4v4h-4zM306 172h4v4h-4zM314 172h8v4h-8zM326 172h12v4h-12zM382 172h8v4h-8zM394 172h4v4h-4zM450 172h8v4h-8zM466 172h4v4h-4zM534 172h4v4h-4zM318 176h4v4h-4zM386 176h4v4h-4zM418 176h4v4h-4zM458 176h4v4h-4zM466 176h4v4h-4zM494 176h8v4h-8zM506 176h4v4h-4zM522 176h8v4h-8zM538 176h4v4h-4zM210 180h4v4h-4zM242 180h4v4h-4zM302 180h4v4h-4zM390 180h12v4h-12zM462 180h4v4h-4zM538 180h4v4h-4zM550 180h4v4h-4zM238 184h4v4h-4zM298 184h16v4h-16zM322 184h4v4h-4zM358 184h4v4h-4zM466 184h4v4h-4zM538 184h4v4h-4zM558 184h4v4h-4zM238 188h4v4h-4zM306 188h8v4h-8zM350 188h4v4h-4zM358 188h4v4h-4zM382 188h4v4h-4zM458 188h4v4h-4zM470 188h8v4h-8zM526 188h4v4h-4zM202 192h4v4h-4zM258 192h4v4h-4zM306 192h4v4h-4zM350 192h4v4h-4zM390 192h4v4h-4zM398 192h8v4h-8zM410 192h4v4h-4zM450 192h4v4h-4zM466 192h4v4h-4zM482 192h8v4h-8zM534 192h4v4h-4zM134 196h4v4h-4zM222 196h4v4h-4zM286 196h4v4h-4zM338 196h4v4h-4zM350 196h4v4h-4zM366 196h4v4h-4zM374 196h8v4h-8zM406 196h8v4h-8zM534 196h4v4h-4zM558 196h8v4h-8zM262 200h4v4h-4zM302 200h4v4h-4zM310 200h4v4h-4zM330 200h4v4h-4zM338 200h4v4h-4zM362 200h12v4h-12zM382 200h4v4h-4zM390 200h4v4h-4zM414 200h8v4h-8zM446 200h4v4h-4zM462 200h8v4h-8zM486 200h8v4h-8zM186 204h4v4h-4zM302 204h4v4h-4zM342 204h4v4h-4zM366 204h4v4h-4zM398 204h4v4h-4zM414 204h8v4h-8zM426 204h4v4h-4zM446 204h4v4h-4zM466 204h4v4h-4zM562 204h8v4h-8zM190 208h12v4h-12zM302 208h4v4h-4zM310 208h4v4h-4zM374 208h4v4h-4zM398 208h4v4h-4zM430 208h4v4h-4zM438 208h4v4h-4zM450 208h4v4h-4zM458 208h4v4h-4zM562 208h8v4h-8zM186 212h4v4h-4zM202 212h4v4h-4zM250 212h4v4h-4zM270 212h4v4h-4zM306 212h4v4h-4zM170 216h4v4h-4zM198 216h4v4h-4zM206 216h8v4h-8zM230 216h4v4h-4zM242 216h4v4h-4zM262 216h4v4h-4zM358 216h4v4h-4zM374 216h4v4h-4zM438 216h4v4h-4zM570 216h4v4h-4zM170 220h4v4h-4zM178 220h4v4h-4zM190 220h4v4h-4zM214 220h8v4h-8zM230 220h4v4h-4zM242 220h8v4h-8zM270 220h4v4h-4zM330 220h4v4h-4zM358 220h4v4h-4zM382 220h4v4h-4zM554 220h4v4h-4zM566 220h4v4h-4zM170 224h8v4h-8zM186 224h4v4h-4zM242 224h4v4h-4zM250 224h4v4h-4zM330 224h4v4h-4zM382 224h12v4h-12zM198 228h4v4h-4zM258 228h4v4h-4zM270 228h4v4h-4zM334 228h4v4h-4zM350 228h4v4h-4zM390 228h8v4h-8zM170 232h4v4h-4zM178 232h4v4h-4zM194 232h4v4h-4zM202 232h12v4h-12zM238 232h4v4h-4zM266 232h8v4h-8zM334 232h8v4h-8zM190 236h4v4h-4zM202 236h8v4h-8zM238 236h4v4h-4zM338 236h8v4h-8zM546 236h8v4h-8zM158 240h4v4h-4zM174 240h4v4h-4zM182 240h4v4h-4zM250 240h4v4h-4zM266 240h4v4h-4zM566 240h4v4h-4zM162 244h4v4h-4zM178 244h4v4h-4zM210 244h4v4h-4zM250 244h4v4h-4zM334 244h4v4h-4zM182 248h4v4h-4zM210 248h4v4h-4zM222 248h4v4h-4zM234 248h4v4h-4zM314 248h4v4h-4zM554 248h4v4h-4zM134 252h4v4h-4zM158 252h4v4h-4zM182 252h4v4h-4zM258 252h4v4h-4zM278 252h4v4h-4zM306 252h4v4h-4zM566 252h8v4h-8zM134 256h4v4h-4zM254 256h16v4h-16zM294 256h4v4h-4zM134 260h4v4h-4zM158 260h4v4h-4zM166 260h4v4h-4zM210 260h4v4h-4zM282 260h4v4h-4zM294 260h4v4h-4zM558 260h4v4h-4zM190 264h4v4h-4zM218 264h4v4h-4zM294 264h4v4h-4zM166 268h4v4h-4zM206 268h4v4h-4zM298 272h4v4h-4zM146 276h4v4h-4zM202 276h8v4h-8zM218 276h4v4h-4zM142 280h4v4h-4zM150 280h8v4h-8zM198 280h4v4h-4zM234 280h4v4h-4zM274 280h4v4h-4zM342 280h8v4h-8zM142 284h4v4h-4zM154 284h4v4h-4zM190 284h4v4h-4zM230 284h4v4h-4zM242 284h4v4h-4zM274 284h4v4h-4zM306 284h4v4h-4zM338 284h4v4h-4zM182 288h8v4h-8zM210 288h4v4h-4zM218 288h4v4h-4zM274 288h4v4h-4zM162 292h4v4h-4zM226 292h8v4h-8zM346 292h4v4h-4zM158 296h4v4h-4zM166 296h4v4h-4zM174 296h4v4h-4zM214 296h4v4h-4zM282 296h8v4h-8zM330 296h8v4h-8zM346 296h4v4h-4zM162 300h4v4h-4zM210 300h8v4h-8zM238 300h8v4h-8zM254 300h4v4h-4zM266 300h4v4h-4zM274 300h4v4h-4zM286 300h4v4h-4zM350 300h8v4h-8zM214 304h8v4h-8zM266 304h4v4h-4zM218 308h4v4h-4zM270 308h4v4h-4zM290 308h4v4h-4zM358 308h4v4h-4zM366 308h4v4h-4zM350 312h4v4h-4zM266 316h4v4h-4zM286 316h4v4h-4zM354 316h8v4h-8zM382 316h8v4h-8zM198 320h8v4h-8zM378 320h4v4h-4zM386 320h4v4h-4zM286 324h4v4h-4zM386 324h8v4h-8zM142 328h4v4h-4zM218 328h12v4h-12zM258 328h4v4h-4zM282 328h4v4h-4zM374 328h4v4h-4zM390 328h4v4h-4zM410 328h4v4h-4zM434 328h4v4h-4zM194 332h4v4h-4zM258 332h4v4h-4zM278 332h4v4h-4zM290 332h8v4h-8zM402 332h8v4h-8zM202 336h4v4h-4zM230 336h8v4h-8zM258 336h8v4h-8zM402 336h4v4h-4zM442 336h4v4h-4zM210 340h4v4h-4zM250 340h8v4h-8zM262 340h8v4h-8zM310 340h4v4h-4zM326 340h4v4h-4zM446 340h4v4h-4zM254 344h4v4h-4zM422 344h4v4h-4zM250 348h8v4h-8zM422 348h12v4h-12zM458 348h4v4h-4zM254 352h4v4h-4zM358 352h4v4h-4zM430 352h4v4h-4zM382 356h4v4h-4zM402 356h4v4h-4zM278 360h4v4h-4zM386 360h4v4h-4zM402 360h4v4h-4zM490 360h4v4h-4zM378 364h4v4h-4zM426 364h4v4h-4zM486 364h4v4h-4zM494 364h4v4h-4zM538 364h12v4h-12zM398 368h4v4h-4zM398 372h4v4h-4zM426 372h4v4h-4zM454 372h4v4h-4zM494 372h4v4h-4zM534 372h4v4h-4zM362 376h4v4h-4zM418 376h4v4h-4zM454 376h4v4h-4zM502 376h4v4h-4zM370 380h16v4h-16zM398 380h8v4h-8zM414 380h4v4h-4zM422 380h4v4h-4zM498 380h8v4h-8zM534 380h4v4h-4zM306 384h4v4h-4zM370 384h4v4h-4zM382 384h4v4h-4zM418 384h4v4h-4zM430 384h4v4h-4zM498 384h4v4h-4zM362 388h4v4h-4zM446 388h4v4h-4zM378 392h4v4h-4zM390 392h4v4h-4zM418 392h12v4h-12zM438 392h4v4h-4zM446 392h4v4h-4zM466 392h4v4h-4zM522 392h4v4h-4zM366 396h4v4h-4zM418 396h4v4h-4zM430 396h4v4h-4zM442 396h4v4h-4zM454 396h4v4h-4zM514 396h4v4h-4zM330 400h4v4h-4zM382 400h4v4h-4zM390 400h4v4h-4zM398 400h4v4h-4zM414 400h4v4h-4zM450 400h4v4h-4zM462 400h8v4h-8zM494 400h8v4h-8zM330 404h8v4h-8zM414 404h8v4h-8zM494 404h4v4h-4zM378 408h4v4h-4zM418 408h4v4h-4zM474 408h4v4h-4zM382 412h4v4h-4zM418 412h8v4h-8zM474 412h4v4h-4zM486 412h8v4h-8zM498 412h4v4h-4zM322 416h8v4h-8zM338 416h12v4h-12zM374 416h4v4h-4zM386 416h12v4h-12zM418 416h4v4h-4zM466 416h4v4h-4zM482 416h4v4h-4zM334 420h4v4h-4zM342 420h4v4h-4zM358 420h8v4h-8zM398 420h4v4h-4zM442 420h4v4h-4zM402 424h4v4h-4zM466 424h4v4h-4zM486 424h4v4h-4zM402 428h4v4h-4zM422 428h4v4h-4zM410 432h4v4h-4z"/>
<path fill="#191919" d="M254 44h4v4h-4zM314 44h8v4h-8zM322 48h4v4h-4zM342 48h8v4h-8zM254 52h8v4h-8zM378 52h4v4h-4zM270 60h4v4h-4zM338 60h12v4h-12zM366 60h4v4h-4zM406 60h4v4h-4zM414 60h4v4h-4zM422 60h4v4h-4zM274 64h4v4h-4zM342 64h4v4h-4zM358 64h4v4h-4zM390 64h4v4h-4zM418 64h4v4h-4zM426 64h4v4h-4zM250 68h4v4h-4zM358 68h4v4h-4zM370 68h4v4h-4zM430 68h4v4h-4zM250 72h4v4h-4zM274 72h4v4h-4zM370 72h4v4h-4zM382 72h4v4h-4zM414 72h4v4h-4zM286 76h4v4h-4zM354 76h4v4h-4zM370 76h4v4h-4zM386 76h4v4h-4zM278 80h4v4h-4zM406 80h4v4h-4zM414 80h12v4h-12zM434 80h4v4h-4zM470 80h4v4h-4zM274 84h4v4h-4zM406 84h4v4h-4zM266 88h4v4h-4zM366 88h4v4h-4zM394 88h4v4h-4zM418 88h4v4h-4zM426 88h4v4h-4zM158 92h4v4h-4zM266 92h8v4h-8zM306 92h4v4h-4zM378 92h4v4h-4zM418 92h4v4h-4zM426 92h4v4h-4zM442 92h4v4h-4zM490 92h4v4h-4zM362 96h4v4h-4zM370 96h4v4h-4zM386 96h4v4h-4zM402 96h4v4h-4zM414 96h4v4h-4zM430 96h4v4h-4zM494 96h4v4h-4zM290 100h4v4h-4zM430 100h4v4h-4zM438 100h4v4h-4zM290 104h4v4h-4zM314 104h4v4h-4zM378 104h4v4h-4zM386 104h4v4h-4zM298 108h4v4h-4zM354 108h4v4h-4zM386 108h8v4h-8zM410 108h8v4h-8zM434 108h4v4h-4zM442 108h4v4h-4zM302 112h8v4h-8zM410 112h4v4h-4zM446 112h12v4h-12zM514 112h4v4h-4zM314 116h8v4h-8zM326 116h4v4h-4zM358 116h4v4h-4zM382 116h4v4h-4zM422 116h4v4h-4zM446 116h4v4h-4zM454 116h4v4h-4zM462 116h4v4h-4zM282 120h4v4h-4zM350 120h4v4h-4zM378 120h4v4h-4zM426 120h4v4h-4zM462 120h4v4h-4zM266 124h12v4h-12zM282 124h4v4h-4zM334 124h4v4h-4zM350 124h4v4h-4zM358 124h4v4h-4zM422 124h4v4h-4zM438 124h4v4h-4zM462 124h4v4h-4zM482 124h4v4h-4zM310 128h4v4h-4zM334 128h4v4h-4zM390 128h4v4h-4zM474 128h8v4h-8zM270 132h4v4h-4zM282 132h4v4h-4zM306 132h16v4h-16zM370 132h4v4h-4zM386 132h4v4h-4zM398 132h4v4h-4zM410 132h4v4h-4zM442 132h4v4h-4zM278 136h4v4h-4zM306 136h4v4h-4zM362 136h4v4h-4zM410 136h4v4h-4zM422 136h4v4h-4zM466 136h4v4h-4zM474 136h4v4h-4zM286 140h8v4h-8zM318 140h8v4h-8zM342 140h12v4h-12zM410 140h4v4h-4zM418 140h4v4h-4zM426 140h4v4h-4zM470 140h12v4h-12zM502 140h4v4h-4zM294 144h4v4h-4zM338 144h4v4h-4zM390 144h4v4h-4zM438 144h4v4h-4zM490 144h4v4h-4zM498 144h8v4h-8zM290 148h4v4h-4zM346 148h4v4h-4zM382 148h4v4h-4zM434 148h4v4h-4zM462 148h4v4h-4zM490 148h4v4h-4zM502 148h4v4h-4zM274 152h4v4h-4zM322 152h4v4h-4zM350 152h4v4h-4zM358 152h4v4h-4zM366 152h4v4h-4zM454 152h4v4h-4zM478 152h4v4h-4zM526 152h8v4h-8zM310 156h4v4h-4zM330 156h4v4h-4zM366 156h4v4h-4zM422 156h4v4h-4zM454 156h4v4h-4zM526 156h4v4h-4zM534 156h4v4h-4zM298 160h4v4h-4zM382 160h8v4h-8zM454 160h8v4h-8zM470 160h4v4h-4zM230 164h12v4h-12zM270 164h8v4h-8zM338 164h4v4h-4zM358 164h4v4h-4zM378 164h4v4h-4zM386 164h4v4h-4zM410 164h8v4h-8zM478 164h4v4h-4zM490 164h4v4h-4zM530 164h4v4h-4zM178 168h4v4h-4zM302 168h4v4h-4zM334 168h8v4h-8zM382 168h8v4h-8zM466 168h4v4h-4zM482 168h8v4h-8zM498 168h8v4h-8zM534 168h8v4h-8zM274 172h4v4h-4zM422 172h4v4h-4zM458 172h8v4h-8zM486 172h4v4h-4zM518 172h4v4h-4zM538 172h4v4h-4zM302 176h4v4h-4zM366 176h4v4h-4zM374 176h4v4h-4zM394 176h4v4h-4zM406 176h4v4h-4zM414 176h4v4h-4zM422 176h4v4h-4zM462 176h4v4h-4zM486 176h4v4h-4zM518 176h4v4h-4zM542 176h12v4h-12zM238 180h4v4h-4zM374 180h16v4h-16zM402 180h4v4h-4zM450 180h4v4h-4zM466 180h4v4h-4zM494 180h4v4h-4zM518 180h4v4h-4zM534 180h4v4h-4zM206 184h4v4h-4zM242 184h4v4h-4zM326 184h4v4h-4zM338 184h4v4h-4zM370 184h4v4h-4zM386 184h4v4h-4zM462 184h4v4h-4zM478 184h4v4h-4zM530 184h4v4h-4zM554 184h4v4h-4zM190 188h8v4h-8zM202 188h4v4h-4zM254 188h4v4h-4zM354 188h4v4h-4zM414 188h4v4h-4zM442 188h4v4h-4zM454 188h4v4h-4zM486 188h4v4h-4zM530 188h12v4h-12zM190 192h12v4h-12zM454 192h4v4h-4zM190 196h4v4h-4zM238 196h4v4h-4zM262 196h4v4h-4zM302 196h4v4h-4zM330 196h8v4h-8zM370 196h4v4h-4zM390 196h4v4h-4zM442 196h4v4h-4zM454 196h4v4h-4zM466 196h4v4h-4zM490 196h4v4h-4zM554 196h4v4h-4zM190 200h4v4h-4zM238 200h4v4h-4zM306 200h4v4h-4zM334 200h4v4h-4zM374 200h4v4h-4zM394 200h4v4h-4zM402 200h4v4h-4zM554 200h16v4h-16zM182 204h4v4h-4zM190 204h4v4h-4zM330 204h8v4h-8zM378 204h4v4h-4zM462 204h4v4h-4zM490 204h4v4h-4zM502 204h4v4h-4zM558 204h4v4h-4zM186 208h4v4h-4zM234 208h4v4h-4zM254 208h12v4h-12zM306 208h4v4h-4zM378 208h4v4h-4zM418 208h4v4h-4zM434 208h4v4h-4zM442 208h4v4h-4zM178 212h4v4h-4zM210 212h4v4h-4zM218 212h4v4h-4zM254 212h8v4h-8zM334 212h4v4h-4zM350 212h4v4h-4zM398 212h4v4h-4zM430 212h4v4h-4zM442 212h4v4h-4zM458 212h4v4h-4zM570 212h4v4h-4zM178 216h4v4h-4zM186 216h4v4h-4zM194 216h4v4h-4zM218 216h8v4h-8zM254 216h4v4h-4zM402 216h4v4h-4zM434 216h4v4h-4zM558 216h4v4h-4zM154 220h4v4h-4zM186 220h4v4h-4zM202 220h4v4h-4zM350 220h4v4h-4zM378 220h4v4h-4zM398 220h4v4h-4zM542 220h8v4h-8zM190 224h4v4h-4zM266 224h4v4h-4zM354 224h8v4h-8zM394 224h4v4h-4zM542 224h8v4h-8zM134 228h8v4h-8zM242 228h4v4h-4zM250 228h4v4h-4zM266 228h4v4h-4zM274 228h4v4h-4zM378 228h4v4h-4zM386 228h4v4h-4zM174 232h4v4h-4zM214 232h4v4h-4zM222 232h4v4h-4zM158 236h4v4h-4zM170 236h4v4h-4zM242 236h16v4h-16zM266 236h4v4h-4zM334 236h4v4h-4zM346 236h4v4h-4zM554 236h4v4h-4zM342 240h4v4h-4zM546 240h8v4h-8zM270 244h4v4h-4zM134 248h4v4h-4zM226 248h8v4h-8zM274 248h4v4h-4zM154 252h4v4h-4zM162 252h4v4h-4zM262 252h4v4h-4zM542 252h4v4h-4zM138 256h4v4h-4zM154 256h4v4h-4zM162 256h4v4h-4zM170 256h4v4h-4zM202 256h8v4h-8zM554 256h4v4h-4zM562 256h4v4h-4zM154 260h4v4h-4zM198 260h4v4h-4zM214 260h4v4h-4zM130 264h8v4h-8zM142 264h8v4h-8zM162 264h4v4h-4zM206 264h4v4h-4zM282 264h4v4h-4zM538 264h4v4h-4zM558 264h12v4h-12zM130 268h4v4h-4zM190 268h4v4h-4zM278 268h4v4h-4zM142 272h8v4h-8zM198 272h4v4h-4zM278 272h4v4h-4zM222 276h4v4h-4zM238 276h4v4h-4zM302 276h4v4h-4zM218 280h4v4h-4zM238 280h4v4h-4zM338 280h4v4h-4zM134 284h8v4h-8zM146 284h8v4h-8zM198 284h4v4h-4zM218 284h4v4h-4zM226 284h4v4h-4zM310 284h4v4h-4zM342 284h8v4h-8zM174 288h8v4h-8zM198 288h8v4h-8zM226 288h4v4h-4zM242 288h4v4h-4zM178 292h4v4h-4zM210 292h4v4h-4zM350 292h4v4h-4zM178 296h4v4h-4zM154 300h4v4h-4zM166 300h4v4h-4zM174 300h4v4h-4zM162 304h4v4h-4zM270 304h4v4h-4zM278 304h4v4h-4zM286 304h4v4h-4zM358 304h4v4h-4zM214 308h4v4h-4zM354 308h4v4h-4zM190 312h4v4h-4zM202 312h4v4h-4zM242 312h4v4h-4zM286 312h4v4h-4zM374 312h4v4h-4zM146 316h4v4h-4zM190 316h8v4h-8zM210 316h4v4h-4zM218 316h4v4h-4zM142 320h4v4h-4zM206 320h4v4h-4zM138 324h8v4h-8zM202 324h8v4h-8zM242 324h8v4h-8zM290 324h8v4h-8zM394 324h4v4h-4zM146 328h4v4h-4zM206 328h4v4h-4zM270 328h4v4h-4zM378 328h8v4h-8zM394 328h16v4h-16zM414 328h4v4h-4zM226 332h4v4h-4zM254 332h4v4h-4zM262 332h4v4h-4zM226 336h4v4h-4zM286 336h16v4h-16zM406 336h4v4h-4zM214 340h4v4h-4zM258 340h4v4h-4zM422 340h4v4h-4zM438 340h4v4h-4zM226 344h12v4h-12zM246 344h8v4h-8zM258 344h4v4h-4zM266 344h8v4h-8zM290 344h4v4h-4zM426 344h4v4h-4zM246 348h4v4h-4zM290 348h4v4h-4zM462 348h8v4h-8zM234 352h12v4h-12zM258 356h12v4h-12zM354 356h8v4h-8zM470 356h12v4h-12zM494 360h4v4h-4zM274 364h4v4h-4zM482 364h4v4h-4zM534 368h4v4h-4zM498 372h8v4h-8zM294 376h4v4h-4zM294 380h4v4h-4zM418 380h4v4h-4zM426 380h4v4h-4zM298 384h8v4h-8zM366 384h4v4h-4zM422 384h4v4h-4zM442 384h4v4h-4zM522 384h8v4h-8zM298 388h4v4h-4zM366 388h4v4h-4zM374 388h4v4h-4zM394 388h4v4h-4zM422 388h4v4h-4zM442 388h4v4h-4zM526 388h4v4h-4zM366 392h4v4h-4zM402 392h4v4h-4zM434 392h4v4h-4zM442 392h4v4h-4zM518 392h4v4h-4zM410 396h4v4h-4zM434 396h4v4h-4zM446 396h4v4h-4zM522 396h4v4h-4zM378 400h4v4h-4zM394 400h4v4h-4zM410 400h4v4h-4zM434 400h16v4h-16zM454 400h8v4h-8zM370 404h8v4h-8zM382 404h4v4h-4zM398 404h4v4h-4zM406 404h8v4h-8zM430 404h4v4h-4zM466 404h4v4h-4zM498 404h4v4h-4zM374 408h4v4h-4zM386 408h8v4h-8zM398 408h4v4h-4zM414 408h4v4h-4zM470 408h4v4h-4zM386 412h12v4h-12zM414 412h4v4h-4zM470 412h4v4h-4zM482 412h4v4h-4zM494 412h4v4h-4zM314 416h8v4h-8zM350 416h8v4h-8zM414 416h4v4h-4zM446 416h4v4h-4zM366 420h4v4h-4zM382 420h4v4h-4zM450 420h4v4h-4zM458 420h4v4h-4zM346 424h16v4h-16zM458 424h8v4h-8zM478 424h4v4h-4zM490 424h8v4h-8zM398 428h4v4h-4zM410 428h4v4h-4zM470 428h4v4h-4zM482 428h4v4h-4zM474 432h8v4h-8zM414 436h4v4h-4z"/>
<path fill="#1a1a1a" d="M310 40h8v4h-8zM334 40h4v4h-4zM370 40h4v4h-4zM382 40h4v4h-4zM310 44h4v4h-4zM334 44h4v4h-4zM386 44h4v4h-4zM398 44h4v4h-4zM410 48h4v4h-4zM322 52h4v4h-4zM386 52h4v4h-4zM326 56h4v4h-4zM386 56h4v4h-4zM426 56h12v4h-12zM402 60h4v4h-4zM418 60h4v4h-4zM426 60h4v4h-4zM346 64h12v4h-12zM430 64h4v4h-4zM450 64h4v4h-4zM346 68h4v4h-4zM354 68h4v4h-4zM422 68h4v4h-4zM434 68h4v4h-4zM198 72h4v4h-4zM342 72h4v4h-4zM454 72h4v4h-4zM186 76h4v4h-4zM194 76h4v4h-4zM250 76h4v4h-4zM282 76h4v4h-4zM350 76h4v4h-4zM266 80h8v4h-8zM290 80h4v4h-4zM354 80h4v4h-4zM370 80h4v4h-4zM398 80h8v4h-8zM266 84h4v4h-4zM394 84h4v4h-4zM282 88h12v4h-12zM370 88h8v4h-8zM398 88h4v4h-4zM422 88h4v4h-4zM486 88h4v4h-4zM162 92h4v4h-4zM302 92h4v4h-4zM362 92h4v4h-4zM382 92h4v4h-4zM390 92h4v4h-4zM398 92h8v4h-8zM438 92h4v4h-4zM446 92h4v4h-4zM266 96h4v4h-4zM278 96h12v4h-12zM310 96h4v4h-4zM358 96h4v4h-4zM382 96h4v4h-4zM390 96h4v4h-4zM398 96h4v4h-4zM426 96h4v4h-4zM438 96h4v4h-4zM446 96h4v4h-4zM282 100h4v4h-4zM310 100h8v4h-8zM326 100h4v4h-4zM378 100h4v4h-4zM398 100h8v4h-8zM426 100h4v4h-4zM450 100h4v4h-4zM502 100h4v4h-4zM310 104h4v4h-4zM354 104h4v4h-4zM382 104h4v4h-4zM390 104h4v4h-4zM398 104h8v4h-8zM430 104h8v4h-8zM450 104h4v4h-4zM502 104h8v4h-8zM270 108h4v4h-4zM294 108h4v4h-4zM302 108h4v4h-4zM310 108h4v4h-4zM406 108h4v4h-4zM418 108h4v4h-4zM426 108h4v4h-4zM454 108h4v4h-4zM510 108h4v4h-4zM318 112h4v4h-4zM354 112h8v4h-8zM374 112h4v4h-4zM386 112h12v4h-12zM418 112h20v4h-20zM134 116h8v4h-8zM270 116h4v4h-4zM290 116h4v4h-4zM302 116h4v4h-4zM310 116h4v4h-4zM330 116h8v4h-8zM346 116h8v4h-8zM362 116h4v4h-4zM394 116h4v4h-4zM410 116h8v4h-8zM426 116h4v4h-4zM434 116h4v4h-4zM134 120h4v4h-4zM306 120h4v4h-4zM334 120h4v4h-4zM346 120h4v4h-4zM358 120h4v4h-4zM406 120h4v4h-4zM422 120h4v4h-4zM442 120h4v4h-4zM278 124h4v4h-4zM354 124h4v4h-4zM390 124h4v4h-4zM406 124h4v4h-4zM130 128h4v4h-4zM302 128h8v4h-8zM366 128h4v4h-4zM386 128h4v4h-4zM406 128h4v4h-4zM326 132h4v4h-4zM342 132h4v4h-4zM366 132h4v4h-4zM390 132h4v4h-4zM446 132h4v4h-4zM498 132h4v4h-4zM282 136h4v4h-4zM318 136h8v4h-8zM330 136h4v4h-4zM366 136h4v4h-4zM414 136h8v4h-8zM446 136h4v4h-4zM458 136h4v4h-4zM498 136h4v4h-4zM326 140h4v4h-4zM390 140h4v4h-4zM422 140h4v4h-4zM442 140h4v4h-4zM462 140h8v4h-8zM482 140h4v4h-4zM498 140h4v4h-4zM262 144h8v4h-8zM290 144h4v4h-4zM342 144h8v4h-8zM374 144h4v4h-4zM458 144h8v4h-8zM474 144h4v4h-4zM278 148h8v4h-8zM338 148h8v4h-8zM350 148h4v4h-4zM358 148h8v4h-8zM386 148h4v4h-4zM470 148h4v4h-4zM370 152h4v4h-4zM378 152h4v4h-4zM434 152h4v4h-4zM462 152h4v4h-4zM470 152h4v4h-4zM354 156h8v4h-8zM478 156h4v4h-4zM490 156h4v4h-4zM514 156h4v4h-4zM238 160h4v4h-4zM310 160h4v4h-4zM330 160h4v4h-4zM358 160h12v4h-12zM490 160h4v4h-4zM510 160h8v4h-8zM306 164h4v4h-4zM318 164h8v4h-8zM334 164h4v4h-4zM366 164h4v4h-4zM390 164h4v4h-4zM450 164h4v4h-4zM494 164h4v4h-4zM234 168h4v4h-4zM274 168h4v4h-4zM318 168h4v4h-4zM370 168h8v4h-8zM450 168h4v4h-4zM490 168h8v4h-8zM506 168h4v4h-4zM530 168h4v4h-4zM162 172h4v4h-4zM302 172h4v4h-4zM366 172h4v4h-4zM374 172h4v4h-4zM402 172h4v4h-4zM490 172h12v4h-12zM510 172h4v4h-4zM530 172h4v4h-4zM198 176h4v4h-4zM246 176h4v4h-4zM410 176h4v4h-4zM490 176h4v4h-4zM246 180h4v4h-4zM366 180h4v4h-4zM418 180h4v4h-4zM482 180h4v4h-4zM498 180h8v4h-8zM190 184h8v4h-8zM202 184h4v4h-4zM210 184h8v4h-8zM330 184h8v4h-8zM342 184h4v4h-4zM382 184h4v4h-4zM486 184h12v4h-12zM514 184h4v4h-4zM534 184h4v4h-4zM198 188h4v4h-4zM262 188h4v4h-4zM322 188h4v4h-4zM362 188h4v4h-4zM418 188h4v4h-4zM446 188h4v4h-4zM462 188h4v4h-4zM478 188h4v4h-4zM490 188h8v4h-8zM518 188h8v4h-8zM182 192h8v4h-8zM206 192h4v4h-4zM254 192h4v4h-4zM262 192h4v4h-4zM354 192h8v4h-8zM366 192h4v4h-4zM414 192h4v4h-4zM458 192h4v4h-4zM474 192h4v4h-4zM490 192h4v4h-4zM530 192h4v4h-4zM538 192h4v4h-4zM218 196h4v4h-4zM258 196h4v4h-4zM342 196h8v4h-8zM354 196h4v4h-4zM362 196h4v4h-4zM402 196h4v4h-4zM414 196h4v4h-4zM458 196h8v4h-8zM474 196h4v4h-4zM538 196h4v4h-4zM550 196h4v4h-4zM154 200h4v4h-4zM178 200h4v4h-4zM242 200h4v4h-4zM378 200h4v4h-4zM398 200h4v4h-4zM422 200h4v4h-4zM442 200h4v4h-4zM470 200h4v4h-4zM506 200h4v4h-4zM178 204h4v4h-4zM238 204h4v4h-4zM262 204h4v4h-4zM338 204h4v4h-4zM430 204h4v4h-4zM506 204h4v4h-4zM554 204h4v4h-4zM142 208h4v4h-4zM178 208h4v4h-4zM238 208h4v4h-4zM338 208h4v4h-4zM346 208h4v4h-4zM446 208h4v4h-4zM502 208h4v4h-4zM546 208h4v4h-4zM558 208h4v4h-4zM154 212h8v4h-8zM182 212h4v4h-4zM222 212h4v4h-4zM230 212h4v4h-4zM242 212h8v4h-8zM374 212h4v4h-4zM542 212h4v4h-4zM158 216h4v4h-4zM214 216h4v4h-4zM350 216h4v4h-4zM362 216h4v4h-4zM370 216h4v4h-4zM378 216h8v4h-8zM414 216h4v4h-4zM426 216h8v4h-8zM458 216h4v4h-4zM182 220h4v4h-4zM206 220h4v4h-4zM258 220h4v4h-4zM370 220h4v4h-4zM406 220h24v4h-24zM550 220h4v4h-4zM138 224h4v4h-4zM258 224h4v4h-4zM270 224h4v4h-4zM350 224h4v4h-4zM378 224h4v4h-4zM422 224h8v4h-8zM166 228h4v4h-4zM214 228h4v4h-4zM338 228h8v4h-8zM358 228h8v4h-8zM546 228h4v4h-4zM166 232h4v4h-4zM182 232h4v4h-4zM250 232h8v4h-8zM274 232h4v4h-4zM382 232h4v4h-4zM558 232h8v4h-8zM186 236h4v4h-4zM270 236h8v4h-8zM162 240h8v4h-8zM178 240h4v4h-4zM542 244h4v4h-4zM154 248h4v4h-4zM278 248h4v4h-4zM166 252h4v4h-4zM298 256h4v4h-4zM570 256h4v4h-4zM146 260h8v4h-8zM206 260h4v4h-4zM554 260h4v4h-4zM562 260h8v4h-8zM138 264h4v4h-4zM150 264h4v4h-4zM194 264h4v4h-4zM202 264h4v4h-4zM210 264h8v4h-8zM134 268h8v4h-8zM146 268h4v4h-4zM134 272h8v4h-8zM150 272h4v4h-4zM206 272h4v4h-4zM142 276h4v4h-4zM150 276h4v4h-4zM278 276h4v4h-4zM342 276h8v4h-8zM134 280h4v4h-4zM194 280h4v4h-4zM226 280h4v4h-4zM278 280h4v4h-4zM306 280h4v4h-4zM334 280h4v4h-4zM350 280h4v4h-4zM130 284h4v4h-4zM170 284h4v4h-4zM222 284h4v4h-4zM278 284h4v4h-4zM134 288h8v4h-8zM154 288h8v4h-8zM230 288h4v4h-4zM278 288h4v4h-4zM286 288h4v4h-4zM346 288h4v4h-4zM158 292h4v4h-4zM170 292h4v4h-4zM278 292h4v4h-4zM286 292h4v4h-4zM342 292h4v4h-4zM354 292h4v4h-4zM170 296h4v4h-4zM194 296h4v4h-4zM210 296h4v4h-4zM350 296h8v4h-8zM150 300h4v4h-4zM158 300h4v4h-4zM206 300h4v4h-4zM270 300h4v4h-4zM158 304h4v4h-4zM166 304h4v4h-4zM194 304h4v4h-4zM206 304h4v4h-4zM274 304h4v4h-4zM282 304h4v4h-4zM158 308h8v4h-8zM286 308h4v4h-4zM146 312h4v4h-4zM186 312h4v4h-4zM218 312h4v4h-4zM270 312h4v4h-4zM290 312h4v4h-4zM358 312h4v4h-4zM142 316h4v4h-4zM182 316h8v4h-8zM238 316h8v4h-8zM394 316h4v4h-4zM138 320h4v4h-4zM286 320h4v4h-4zM382 320h4v4h-4zM398 320h4v4h-4zM146 324h4v4h-4zM214 324h4v4h-4zM374 324h12v4h-12zM398 324h4v4h-4zM434 324h4v4h-4zM206 332h4v4h-4zM418 332h4v4h-4zM194 336h4v4h-4zM206 336h8v4h-8zM222 336h4v4h-4zM254 336h4v4h-4zM274 336h12v4h-12zM218 340h8v4h-8zM230 340h8v4h-8zM270 340h4v4h-4zM290 340h4v4h-4zM430 344h8v4h-8zM230 348h8v4h-8zM242 348h4v4h-4zM266 348h4v4h-4zM258 352h12v4h-12zM470 352h4v4h-4zM234 356h4v4h-4zM246 356h12v4h-12zM278 356h4v4h-4zM258 360h8v4h-8zM274 360h4v4h-4zM486 360h4v4h-4zM546 360h4v4h-4zM278 364h4v4h-4zM286 368h8v4h-8zM302 368h4v4h-4zM426 368h4v4h-4zM494 368h4v4h-4zM302 372h4v4h-4zM506 372h4v4h-4zM530 372h4v4h-4zM386 376h4v4h-4zM298 380h4v4h-4zM306 380h4v4h-4zM366 380h4v4h-4zM506 380h4v4h-4zM514 380h4v4h-4zM362 384h4v4h-4zM374 384h4v4h-4zM426 384h4v4h-4zM294 388h4v4h-4zM382 388h4v4h-4zM426 388h8v4h-8zM522 388h4v4h-4zM294 392h4v4h-4zM430 392h4v4h-4zM390 396h4v4h-4zM398 396h12v4h-12zM414 396h4v4h-4zM518 396h4v4h-4zM378 404h4v4h-4zM394 404h4v4h-4zM422 404h8v4h-8zM434 404h4v4h-4zM442 404h4v4h-4zM458 404h4v4h-4zM470 404h4v4h-4zM382 408h4v4h-4zM394 408h4v4h-4zM402 408h4v4h-4zM422 408h4v4h-4zM398 412h4v4h-4zM426 412h4v4h-4zM366 416h4v4h-4zM398 416h4v4h-4zM430 416h4v4h-4zM442 416h4v4h-4zM330 420h4v4h-4zM338 420h4v4h-4zM346 420h4v4h-4zM354 420h4v4h-4zM378 420h4v4h-4zM402 420h4v4h-4zM410 420h4v4h-4zM430 420h4v4h-4zM454 420h4v4h-4zM486 420h4v4h-4zM494 420h8v4h-8zM342 424h4v4h-4zM362 424h8v4h-8zM410 424h4v4h-4zM454 424h4v4h-4zM474 424h4v4h-4zM358 428h4v4h-4zM406 428h4v4h-4zM466 428h4v4h-4zM486 428h4v4h-4zM406 432h4v4h-4zM422 432h4v4h-4zM470 432h4v4h-4zM482 432h4v4h-4zM418 436h4v4h-4zM474 436h4v4h-4zM406 444h4v4h-4zM454 448h4v4h-4z"/>
<path fill="#1b1b1b" d="M306 40h4v4h-4zM374 40h4v4h-4zM382 44h4v4h-4zM314 48h8v4h-8zM378 48h12v4h-12zM226 56h8v4h-8zM382 56h4v4h-4zM226 60h4v4h-4zM330 60h4v4h-4zM430 60h4v4h-4zM226 64h4v4h-4zM338 64h4v4h-4zM434 64h4v4h-4zM278 68h4v4h-4zM386 68h8v4h-8zM426 68h4v4h-4zM450 68h4v4h-4zM194 72h4v4h-4zM206 72h4v4h-4zM346 72h4v4h-4zM354 72h4v4h-4zM386 72h4v4h-4zM418 72h4v4h-4zM430 72h4v4h-4zM446 72h8v4h-8zM458 72h4v4h-4zM190 76h4v4h-4zM274 76h4v4h-4zM290 76h4v4h-4zM414 76h8v4h-8zM454 76h4v4h-4zM462 76h4v4h-4zM262 80h4v4h-4zM274 80h4v4h-4zM378 80h4v4h-4zM178 84h4v4h-4zM294 84h4v4h-4zM354 84h4v4h-4zM398 84h8v4h-8zM274 88h4v4h-4zM298 88h8v4h-8zM354 88h12v4h-12zM378 88h4v4h-4zM402 88h4v4h-4zM274 92h4v4h-4zM354 92h8v4h-8zM394 92h4v4h-4zM422 92h4v4h-4zM290 96h4v4h-4zM394 96h4v4h-4zM406 96h4v4h-4zM498 96h4v4h-4zM306 100h4v4h-4zM318 100h8v4h-8zM374 100h4v4h-4zM386 100h4v4h-4zM394 100h4v4h-4zM282 104h4v4h-4zM294 104h4v4h-4zM374 104h4v4h-4zM394 104h4v4h-4zM274 108h8v4h-8zM306 108h4v4h-4zM366 108h8v4h-8zM394 108h12v4h-12zM422 108h4v4h-4zM446 108h8v4h-8zM470 108h4v4h-4zM138 112h4v4h-4zM294 112h4v4h-4zM362 112h4v4h-4zM406 112h4v4h-4zM414 112h4v4h-4zM474 112h4v4h-4zM510 112h4v4h-4zM282 116h4v4h-4zM354 116h4v4h-4zM370 116h4v4h-4zM386 116h8v4h-8zM430 116h4v4h-4zM518 116h4v4h-4zM310 120h4v4h-4zM326 120h8v4h-8zM362 120h8v4h-8zM382 120h4v4h-4zM410 120h12v4h-12zM446 120h8v4h-8zM458 120h4v4h-4zM466 120h16v4h-16zM130 124h4v4h-4zM330 124h4v4h-4zM362 124h4v4h-4zM370 124h8v4h-8zM442 124h4v4h-4zM314 128h8v4h-8zM326 128h4v4h-4zM346 128h4v4h-4zM370 128h4v4h-4zM442 128h8v4h-8zM462 128h4v4h-4zM482 128h4v4h-4zM494 128h4v4h-4zM330 132h4v4h-4zM374 132h4v4h-4zM418 132h4v4h-4zM450 132h4v4h-4zM462 132h4v4h-4zM478 132h4v4h-4zM266 136h4v4h-4zM310 136h4v4h-4zM326 136h4v4h-4zM386 136h4v4h-4zM394 136h4v4h-4zM454 136h4v4h-4zM462 136h4v4h-4zM478 136h4v4h-4zM502 136h4v4h-4zM266 140h4v4h-4zM310 140h4v4h-4zM358 140h16v4h-16zM386 140h4v4h-4zM454 140h8v4h-8zM350 144h4v4h-4zM358 144h8v4h-8zM386 144h4v4h-4zM454 144h4v4h-4zM466 144h8v4h-8zM354 148h4v4h-4zM458 148h4v4h-4zM474 148h4v4h-4zM510 148h8v4h-8zM526 148h8v4h-8zM542 148h4v4h-4zM254 152h4v4h-4zM354 152h4v4h-4zM458 152h4v4h-4zM510 152h8v4h-8zM522 152h4v4h-4zM534 152h4v4h-4zM370 156h4v4h-4zM386 156h4v4h-4zM458 156h8v4h-8zM470 156h8v4h-8zM510 156h4v4h-4zM518 156h8v4h-8zM234 160h4v4h-4zM334 160h4v4h-4zM430 160h4v4h-4zM450 160h4v4h-4zM550 160h4v4h-4zM314 164h4v4h-4zM362 164h4v4h-4zM374 164h4v4h-4zM498 164h4v4h-4zM506 164h12v4h-12zM538 164h4v4h-4zM550 164h4v4h-4zM162 168h4v4h-4zM230 168h4v4h-4zM238 168h4v4h-4zM306 168h4v4h-4zM314 168h4v4h-4zM510 168h4v4h-4zM554 168h4v4h-4zM178 172h4v4h-4zM202 172h4v4h-4zM370 172h4v4h-4zM398 172h4v4h-4zM522 172h4v4h-4zM550 172h8v4h-8zM210 176h4v4h-4zM242 176h4v4h-4zM370 176h4v4h-4zM402 176h4v4h-4zM510 176h4v4h-4zM214 180h4v4h-4zM370 180h4v4h-4zM406 180h4v4h-4zM422 180h4v4h-4zM486 180h8v4h-8zM514 180h4v4h-4zM234 184h4v4h-4zM246 184h4v4h-4zM362 184h4v4h-4zM410 184h4v4h-4zM90 188h8v4h-8zM130 188h4v4h-4zM166 188h4v4h-4zM206 188h4v4h-4zM242 188h4v4h-4zM450 188h4v4h-4zM482 188h4v4h-4zM498 188h4v4h-4zM546 188h4v4h-4zM130 192h8v4h-8zM226 192h8v4h-8zM326 192h4v4h-4zM346 192h4v4h-4zM362 192h4v4h-4zM418 192h4v4h-4zM462 192h4v4h-4zM470 192h4v4h-4zM494 192h8v4h-8zM138 196h4v4h-4zM194 196h4v4h-4zM226 196h4v4h-4zM234 196h4v4h-4zM242 196h4v4h-4zM306 196h4v4h-4zM358 196h4v4h-4zM394 196h4v4h-4zM418 196h4v4h-4zM494 196h4v4h-4zM138 200h4v4h-4zM158 200h4v4h-4zM194 200h4v4h-4zM214 200h4v4h-4zM234 200h4v4h-4zM258 200h4v4h-4zM266 200h4v4h-4zM426 200h4v4h-4zM474 200h4v4h-4zM482 200h4v4h-4zM494 200h4v4h-4zM502 200h4v4h-4zM550 200h4v4h-4zM138 204h4v4h-4zM154 204h8v4h-8zM194 204h4v4h-4zM234 204h4v4h-4zM250 204h4v4h-4zM270 204h4v4h-4zM442 204h4v4h-4zM470 204h4v4h-4zM494 204h4v4h-4zM510 204h8v4h-8zM546 204h8v4h-8zM146 208h4v4h-4zM158 208h4v4h-4zM182 208h4v4h-4zM250 208h4v4h-4zM266 208h8v4h-8zM342 208h4v4h-4zM462 208h4v4h-4zM506 208h4v4h-4zM174 212h4v4h-4zM214 212h4v4h-4zM378 212h4v4h-4zM414 212h16v4h-16zM454 212h4v4h-4zM502 212h4v4h-4zM150 216h4v4h-4zM162 216h8v4h-8zM182 216h4v4h-4zM226 216h4v4h-4zM258 216h4v4h-4zM366 216h4v4h-4zM418 216h4v4h-4zM542 216h4v4h-4zM142 220h4v4h-4zM158 220h4v4h-4zM166 220h4v4h-4zM198 220h4v4h-4zM262 220h4v4h-4zM362 220h4v4h-4zM402 220h4v4h-4zM430 220h8v4h-8zM570 220h4v4h-4zM98 224h4v4h-4zM166 224h4v4h-4zM198 224h4v4h-4zM246 224h4v4h-4zM262 224h4v4h-4zM274 224h4v4h-4zM334 224h4v4h-4zM346 224h4v4h-4zM398 224h4v4h-4zM430 224h4v4h-4zM554 224h8v4h-8zM98 228h4v4h-4zM142 228h4v4h-4zM194 228h4v4h-4zM218 228h4v4h-4zM246 228h4v4h-4zM354 228h4v4h-4zM366 228h12v4h-12zM398 228h4v4h-4zM422 228h4v4h-4zM542 228h4v4h-4zM566 228h8v4h-8zM122 232h16v4h-16zM218 232h4v4h-4zM242 232h8v4h-8zM350 232h4v4h-4zM378 232h4v4h-4zM390 232h8v4h-8zM546 232h4v4h-4zM566 232h8v4h-8zM154 236h4v4h-4zM162 236h8v4h-8zM174 236h4v4h-4zM182 236h4v4h-4zM566 236h4v4h-4zM154 240h4v4h-4zM270 240h4v4h-4zM542 240h4v4h-4zM126 244h8v4h-8zM138 244h8v4h-8zM154 244h4v4h-4zM274 244h8v4h-8zM338 244h4v4h-4zM538 244h4v4h-4zM142 248h4v4h-4zM318 248h4v4h-4zM538 248h8v4h-8zM130 252h4v4h-4zM142 252h4v4h-4zM538 252h4v4h-4zM546 252h4v4h-4zM130 256h4v4h-4zM150 256h4v4h-4zM166 256h4v4h-4zM546 256h4v4h-4zM122 260h4v4h-4zM130 260h4v4h-4zM138 260h8v4h-8zM202 260h4v4h-4zM122 264h8v4h-8zM154 264h4v4h-4zM198 264h4v4h-4zM542 264h4v4h-4zM162 268h4v4h-4zM194 268h4v4h-4zM562 268h12v4h-12zM130 272h4v4h-4zM154 272h4v4h-4zM166 272h4v4h-4zM202 272h4v4h-4zM134 276h8v4h-8zM154 276h4v4h-4zM166 276h4v4h-4zM350 276h4v4h-4zM130 280h4v4h-4zM138 280h4v4h-4zM166 280h4v4h-4zM330 280h4v4h-4zM158 284h4v4h-4zM194 284h4v4h-4zM350 284h4v4h-4zM142 288h4v4h-4zM150 288h4v4h-4zM162 288h4v4h-4zM190 288h8v4h-8zM206 288h4v4h-4zM338 288h8v4h-8zM138 292h4v4h-4zM166 292h4v4h-4zM182 292h4v4h-4zM190 292h12v4h-12zM358 292h4v4h-4zM130 296h12v4h-12zM154 296h4v4h-4zM190 296h4v4h-4zM198 296h4v4h-4zM138 300h4v4h-4zM170 300h4v4h-4zM178 300h4v4h-4zM194 300h4v4h-4zM150 304h8v4h-8zM362 304h4v4h-4zM146 308h4v4h-4zM190 308h8v4h-8zM274 308h8v4h-8zM370 308h4v4h-4zM182 312h4v4h-4zM194 312h4v4h-4zM214 312h4v4h-4zM274 312h4v4h-4zM354 312h4v4h-4zM378 312h8v4h-8zM178 316h4v4h-4zM214 316h4v4h-4zM274 316h4v4h-4zM290 316h4v4h-4zM146 320h4v4h-4zM194 320h4v4h-4zM210 320h8v4h-8zM262 320h4v4h-4zM270 320h8v4h-8zM282 320h4v4h-4zM406 320h4v4h-4zM210 324h4v4h-4zM270 324h4v4h-4zM402 324h4v4h-4zM138 328h4v4h-4zM194 328h8v4h-8zM214 328h4v4h-4zM242 328h4v4h-4zM250 328h4v4h-4zM262 328h4v4h-4zM274 328h4v4h-4zM438 328h4v4h-4zM222 332h4v4h-4zM242 332h4v4h-4zM442 332h4v4h-4zM214 336h8v4h-8zM238 336h4v4h-4zM250 336h4v4h-4zM438 336h4v4h-4zM198 340h4v4h-4zM206 340h4v4h-4zM226 340h4v4h-4zM246 340h4v4h-4zM282 340h8v4h-8zM294 340h4v4h-4zM434 340h4v4h-4zM210 344h4v4h-4zM242 344h4v4h-4zM262 344h4v4h-4zM286 344h4v4h-4zM238 348h4v4h-4zM258 348h4v4h-4zM286 348h4v4h-4zM290 352h4v4h-4zM238 356h4v4h-4zM282 356h4v4h-4zM290 356h4v4h-4zM482 356h4v4h-4zM226 360h8v4h-8zM266 360h4v4h-4zM382 360h4v4h-4zM482 360h4v4h-4zM226 364h4v4h-4zM254 364h8v4h-8zM266 364h8v4h-8zM302 364h4v4h-4zM382 364h4v4h-4zM258 368h4v4h-4zM282 368h4v4h-4zM506 368h4v4h-4zM114 372h4v4h-4zM286 372h16v4h-16zM526 372h4v4h-4zM114 376h4v4h-4zM290 376h4v4h-4zM298 376h4v4h-4zM306 376h4v4h-4zM506 376h4v4h-4zM290 380h4v4h-4zM302 380h4v4h-4zM362 380h4v4h-4zM378 384h4v4h-4zM302 388h8v4h-8zM378 388h4v4h-4zM290 392h4v4h-4zM302 392h4v4h-4zM398 392h4v4h-4zM438 404h4v4h-4zM446 404h12v4h-12zM410 408h4v4h-4zM442 408h4v4h-4zM466 408h4v4h-4zM450 416h4v4h-4zM486 416h4v4h-4zM314 420h4v4h-4zM322 420h4v4h-4zM350 420h4v4h-4zM394 420h4v4h-4zM490 420h4v4h-4zM394 424h4v4h-4zM406 424h4v4h-4zM430 424h4v4h-4zM446 424h4v4h-4zM354 428h4v4h-4zM362 428h4v4h-4zM426 428h4v4h-4zM434 428h8v4h-8zM474 428h8v4h-8zM362 432h4v4h-4zM382 432h4v4h-4zM466 432h4v4h-4zM366 436h4v4h-4zM410 436h4v4h-4zM410 440h8v4h-8zM410 444h4v4h-4zM450 444h8v4h-8zM406 448h4v4h-4zM450 448h4v4h-4zM458 448h4v4h-4z"/>
<path fill="#1c1c1c" d="M378 40h4v4h-4zM350 48h4v4h-4zM230 52h4v4h-4zM382 52h4v4h-4zM266 56h4v4h-4zM230 60h4v4h-4zM434 60h4v4h-4zM446 64h4v4h-4zM226 68h8v4h-8zM338 68h4v4h-4zM350 68h4v4h-4zM446 68h4v4h-4zM454 68h8v4h-8zM202 72h4v4h-4zM442 72h4v4h-4zM182 76h4v4h-4zM198 76h4v4h-4zM210 76h4v4h-4zM422 76h12v4h-12zM258 80h4v4h-4zM374 80h4v4h-4zM174 84h4v4h-4zM370 84h4v4h-4zM378 84h4v4h-4zM450 84h4v4h-4zM174 88h8v4h-8zM278 88h4v4h-4zM294 88h4v4h-4zM446 88h4v4h-4zM166 92h4v4h-4zM262 92h4v4h-4zM278 92h8v4h-8zM310 92h4v4h-4zM486 92h4v4h-4zM158 96h8v4h-8zM270 96h8v4h-8zM302 96h4v4h-4zM314 96h4v4h-4zM322 96h8v4h-8zM354 96h4v4h-4zM418 96h8v4h-8zM490 96h4v4h-4zM278 100h4v4h-4zM294 100h4v4h-4zM366 100h8v4h-8zM382 100h4v4h-4zM390 100h4v4h-4zM410 100h8v4h-8zM454 100h4v4h-4zM494 100h8v4h-8zM270 104h4v4h-4zM306 104h4v4h-4zM318 104h4v4h-4zM342 104h4v4h-4zM414 104h4v4h-4zM426 104h4v4h-4zM454 104h12v4h-12zM290 108h4v4h-4zM358 108h8v4h-8zM502 108h8v4h-8zM266 112h4v4h-4zM322 112h4v4h-4zM346 112h8v4h-8zM370 112h4v4h-4zM398 112h4v4h-4zM142 116h4v4h-4zM286 116h4v4h-4zM338 116h8v4h-8zM366 116h4v4h-4zM406 116h4v4h-4zM466 116h4v4h-4zM130 120h4v4h-4zM138 120h4v4h-4zM266 120h8v4h-8zM302 120h4v4h-4zM322 120h4v4h-4zM338 120h4v4h-4zM354 120h4v4h-4zM386 120h12v4h-12zM454 120h4v4h-4zM306 124h8v4h-8zM326 124h4v4h-4zM346 124h4v4h-4zM366 124h4v4h-4zM386 124h4v4h-4zM486 124h4v4h-4zM266 128h4v4h-4zM330 128h4v4h-4zM338 128h4v4h-4zM374 128h8v4h-8zM402 128h4v4h-4zM410 128h4v4h-4zM450 128h4v4h-4zM502 128h4v4h-4zM382 132h4v4h-4zM414 132h4v4h-4zM454 132h8v4h-8zM314 136h4v4h-4zM374 136h4v4h-4zM390 136h4v4h-4zM450 136h4v4h-4zM482 136h4v4h-4zM258 140h4v4h-4zM314 140h4v4h-4zM354 140h4v4h-4zM382 140h4v4h-4zM446 140h4v4h-4zM486 140h4v4h-4zM506 140h4v4h-4zM494 144h4v4h-4zM506 144h4v4h-4zM366 148h8v4h-8zM438 148h4v4h-4zM454 148h4v4h-4zM494 148h4v4h-4zM506 148h4v4h-4zM250 152h4v4h-4zM258 152h4v4h-4zM386 152h4v4h-4zM450 152h4v4h-4zM474 152h4v4h-4zM494 152h16v4h-16zM518 152h4v4h-4zM538 152h4v4h-4zM234 156h8v4h-8zM250 156h4v4h-4zM374 156h4v4h-4zM450 156h4v4h-4zM230 160h4v4h-4zM378 160h4v4h-4zM506 160h4v4h-4zM242 164h4v4h-4zM310 164h4v4h-4zM370 164h4v4h-4zM502 164h4v4h-4zM546 164h4v4h-4zM174 168h4v4h-4zM310 168h4v4h-4zM426 168h4v4h-4zM514 168h4v4h-4zM158 172h4v4h-4zM206 172h4v4h-4zM234 172h12v4h-12zM514 172h4v4h-4zM134 176h8v4h-8zM178 176h4v4h-4zM238 176h4v4h-4zM398 176h4v4h-4zM514 176h4v4h-4zM554 176h8v4h-8zM178 180h8v4h-8zM198 180h4v4h-4zM234 180h4v4h-4zM410 180h8v4h-8zM506 180h4v4h-4zM554 180h8v4h-8zM182 184h4v4h-4zM198 184h4v4h-4zM254 184h4v4h-4zM366 184h4v4h-4zM418 184h4v4h-4zM450 184h4v4h-4zM482 184h4v4h-4zM498 184h4v4h-4zM162 188h4v4h-4zM170 188h4v4h-4zM182 188h4v4h-4zM230 188h4v4h-4zM346 188h4v4h-4zM366 188h4v4h-4zM422 188h4v4h-4zM438 188h4v4h-4zM514 188h4v4h-4zM542 188h4v4h-4zM166 192h8v4h-8zM222 192h4v4h-4zM242 192h4v4h-4zM338 192h4v4h-4zM130 196h4v4h-4zM154 196h4v4h-4zM170 196h12v4h-12zM198 196h12v4h-12zM250 196h8v4h-8zM266 196h4v4h-4zM398 196h4v4h-4zM470 196h4v4h-4zM530 196h4v4h-4zM542 196h8v4h-8zM134 200h4v4h-4zM170 200h8v4h-8zM250 200h4v4h-4zM430 200h4v4h-4zM438 200h4v4h-4zM478 200h4v4h-4zM510 200h4v4h-4zM534 200h8v4h-8zM142 204h4v4h-4zM162 204h4v4h-4zM174 204h4v4h-4zM214 204h12v4h-12zM242 204h8v4h-8zM254 204h8v4h-8zM266 204h4v4h-4zM438 204h4v4h-4zM86 208h8v4h-8zM138 208h4v4h-4zM174 208h4v4h-4zM202 208h4v4h-4zM210 208h4v4h-4zM230 208h4v4h-4zM414 208h4v4h-4zM514 208h4v4h-4zM542 208h4v4h-4zM554 208h4v4h-4zM82 212h8v4h-8zM142 212h4v4h-4zM450 212h4v4h-4zM506 212h4v4h-4zM530 212h4v4h-4zM546 212h4v4h-4zM558 212h4v4h-4zM82 216h8v4h-8zM334 216h4v4h-4zM422 216h4v4h-4zM442 216h4v4h-4zM538 216h4v4h-4zM554 216h4v4h-4zM118 220h4v4h-4zM138 220h4v4h-4zM150 220h4v4h-4zM162 220h4v4h-4zM194 220h4v4h-4zM334 220h4v4h-4zM366 220h4v4h-4zM438 220h4v4h-4zM118 224h4v4h-4zM134 224h4v4h-4zM142 224h4v4h-4zM162 224h4v4h-4zM194 224h4v4h-4zM362 224h4v4h-4zM370 224h8v4h-8zM410 224h4v4h-4zM418 224h4v4h-4zM550 224h4v4h-4zM562 224h8v4h-8zM118 228h16v4h-16zM186 228h8v4h-8zM426 228h4v4h-4zM558 228h8v4h-8zM82 232h4v4h-4zM118 232h4v4h-4zM138 232h4v4h-4zM162 232h4v4h-4zM190 232h4v4h-4zM370 232h8v4h-8zM386 232h4v4h-4zM398 232h4v4h-4zM130 236h4v4h-4zM178 236h4v4h-4zM542 236h4v4h-4zM118 240h4v4h-4zM274 240h4v4h-4zM346 240h4v4h-4zM570 240h4v4h-4zM122 244h4v4h-4zM134 244h4v4h-4zM126 248h8v4h-8zM150 252h4v4h-4zM126 256h4v4h-4zM142 256h4v4h-4zM302 256h4v4h-4zM542 256h4v4h-4zM566 256h4v4h-4zM538 260h4v4h-4zM158 264h4v4h-4zM534 264h4v4h-4zM554 264h4v4h-4zM150 268h4v4h-4zM202 268h4v4h-4zM282 268h4v4h-4zM538 268h4v4h-4zM558 268h4v4h-4zM302 272h4v4h-4zM222 280h4v4h-4zM326 280h4v4h-4zM162 284h8v4h-8zM282 284h8v4h-8zM130 288h4v4h-4zM146 288h4v4h-4zM170 288h4v4h-4zM282 288h4v4h-4zM350 288h4v4h-4zM134 292h4v4h-4zM150 292h8v4h-8zM186 292h4v4h-4zM282 292h4v4h-4zM338 292h4v4h-4zM82 296h4v4h-4zM150 296h4v4h-4zM190 300h4v4h-4zM358 300h4v4h-4zM138 304h4v4h-4zM146 304h4v4h-4zM190 304h4v4h-4zM142 308h4v4h-4zM166 308h4v4h-4zM282 308h4v4h-4zM142 312h4v4h-4zM198 312h4v4h-4zM386 312h4v4h-4zM150 316h4v4h-4zM270 316h4v4h-4zM134 320h4v4h-4zM178 320h4v4h-4zM266 320h4v4h-4zM290 320h4v4h-4zM410 320h4v4h-4zM198 324h4v4h-4zM282 324h4v4h-4zM406 324h8v4h-8zM430 324h4v4h-4zM210 328h4v4h-4zM278 328h4v4h-4zM418 328h4v4h-4zM430 328h4v4h-4zM190 332h4v4h-4zM218 332h4v4h-4zM430 332h12v4h-12zM182 336h4v4h-4zM422 336h4v4h-4zM158 340h4v4h-4zM182 340h4v4h-4zM278 340h4v4h-4zM426 340h8v4h-8zM450 340h4v4h-4zM214 344h4v4h-4zM222 344h4v4h-4zM238 344h4v4h-4zM158 348h4v4h-4zM262 348h4v4h-4zM270 348h4v4h-4zM294 348h4v4h-4zM470 348h4v4h-4zM158 352h4v4h-4zM282 352h8v4h-8zM242 356h4v4h-4zM286 356h4v4h-4zM486 356h4v4h-4zM234 360h4v4h-4zM250 360h8v4h-8zM302 360h4v4h-4zM150 364h8v4h-8zM230 364h4v4h-4zM262 364h4v4h-4zM298 364h4v4h-4zM498 364h4v4h-4zM294 368h8v4h-8zM502 368h4v4h-4zM278 372h8v4h-8zM518 372h8v4h-8zM302 376h4v4h-4zM510 380h4v4h-4zM290 384h8v4h-8zM290 388h4v4h-4zM298 392h4v4h-4zM306 392h4v4h-4zM394 392h4v4h-4zM302 396h8v4h-8zM394 396h4v4h-4zM406 408h4v4h-4zM426 408h4v4h-4zM438 408h4v4h-4zM462 408h4v4h-4zM402 412h4v4h-4zM410 412h4v4h-4zM430 412h4v4h-4zM466 412h4v4h-4zM370 416h4v4h-4zM410 416h4v4h-4zM462 416h4v4h-4zM490 416h12v4h-12zM318 420h4v4h-4zM386 420h4v4h-4zM406 420h4v4h-4zM314 424h4v4h-4zM382 424h4v4h-4zM450 424h4v4h-4zM318 428h4v4h-4zM350 428h4v4h-4zM394 428h4v4h-4zM462 428h4v4h-4zM362 436h4v4h-4zM382 436h4v4h-4zM422 436h4v4h-4zM450 436h4v4h-4zM406 440h4v4h-4zM450 440h8v4h-8zM446 444h4v4h-4z"/>
<path fill="#1d1d1d" d="M366 40h4v4h-4zM338 44h4v4h-4zM378 44h4v4h-4zM318 52h4v4h-4zM222 64h4v4h-4zM230 64h4v4h-4zM198 68h12v4h-12zM214 68h4v4h-4zM234 68h4v4h-4zM438 68h4v4h-4zM186 72h8v4h-8zM210 72h8v4h-8zM230 72h8v4h-8zM278 72h4v4h-4zM350 72h4v4h-4zM422 72h8v4h-8zM278 76h4v4h-4zM346 76h4v4h-4zM446 76h8v4h-8zM458 76h4v4h-4zM182 80h8v4h-8zM194 80h4v4h-4zM250 80h8v4h-8zM450 80h8v4h-8zM170 84h4v4h-4zM438 84h4v4h-4zM446 84h4v4h-4zM474 84h8v4h-8zM166 88h8v4h-8zM250 88h4v4h-4zM262 88h4v4h-4zM438 88h8v4h-8zM450 88h4v4h-4zM178 92h4v4h-4zM286 92h8v4h-8zM298 92h4v4h-4zM314 92h8v4h-8zM450 92h8v4h-8zM166 96h4v4h-4zM178 96h8v4h-8zM262 96h4v4h-4zM294 96h4v4h-4zM318 96h4v4h-4zM266 100h4v4h-4zM330 100h4v4h-4zM338 100h4v4h-4zM354 100h8v4h-8zM266 104h4v4h-4zM298 104h8v4h-8zM338 104h4v4h-4zM358 104h4v4h-4zM366 104h8v4h-8zM410 104h4v4h-4zM418 104h8v4h-8zM498 104h4v4h-4zM266 108h4v4h-4zM282 108h8v4h-8zM318 108h4v4h-4zM350 108h4v4h-4zM474 108h4v4h-4zM142 112h4v4h-4zM342 112h4v4h-4zM366 112h4v4h-4zM402 112h4v4h-4zM266 116h4v4h-4zM398 116h4v4h-4zM470 116h4v4h-4zM142 120h4v4h-4zM314 120h4v4h-4zM342 120h4v4h-4zM482 120h4v4h-4zM522 120h4v4h-4zM126 124h4v4h-4zM134 124h4v4h-4zM302 124h4v4h-4zM314 124h4v4h-4zM322 124h4v4h-4zM378 124h8v4h-8zM394 124h4v4h-4zM402 124h4v4h-4zM410 124h4v4h-4zM418 124h4v4h-4zM446 124h4v4h-4zM458 124h4v4h-4zM490 124h12v4h-12zM126 128h4v4h-4zM382 128h4v4h-4zM394 128h4v4h-4zM418 128h4v4h-4zM130 132h4v4h-4zM378 132h4v4h-4zM394 132h4v4h-4zM502 132h4v4h-4zM382 136h4v4h-4zM374 140h8v4h-8zM450 140h4v4h-4zM490 140h8v4h-8zM510 140h4v4h-4zM222 144h4v4h-4zM354 144h4v4h-4zM366 144h4v4h-4zM442 144h4v4h-4zM450 144h4v4h-4zM510 144h8v4h-8zM254 148h4v4h-4zM450 148h4v4h-4zM518 148h4v4h-4zM210 152h4v4h-4zM382 152h4v4h-4zM542 152h4v4h-4zM254 156h8v4h-8zM382 156h4v4h-4zM434 156h4v4h-4zM506 156h4v4h-4zM538 156h4v4h-4zM242 160h4v4h-4zM370 160h4v4h-4zM494 160h4v4h-4zM526 160h4v4h-4zM546 160h4v4h-4zM118 164h8v4h-8zM178 164h4v4h-4zM226 164h4v4h-4zM526 164h4v4h-4zM542 164h4v4h-4zM182 168h4v4h-4zM242 168h4v4h-4zM518 168h4v4h-4zM526 168h4v4h-4zM542 168h4v4h-4zM550 168h4v4h-4zM166 172h4v4h-4zM198 172h4v4h-4zM246 172h4v4h-4zM526 172h4v4h-4zM542 172h8v4h-8zM130 176h4v4h-4zM154 176h8v4h-8zM182 176h4v4h-4zM234 176h4v4h-4zM110 180h4v4h-4zM138 180h4v4h-4zM510 180h4v4h-4zM110 184h4v4h-4zM130 184h4v4h-4zM162 184h8v4h-8zM178 184h4v4h-4zM186 184h4v4h-4zM218 184h4v4h-4zM258 184h8v4h-8zM414 184h4v4h-4zM186 188h4v4h-4zM210 188h4v4h-4zM246 188h8v4h-8zM266 188h4v4h-4zM210 192h4v4h-4zM266 192h4v4h-4zM334 192h4v4h-4zM342 192h4v4h-4zM422 192h8v4h-8zM526 192h4v4h-4zM542 192h8v4h-8zM150 196h4v4h-4zM166 196h4v4h-4zM214 196h4v4h-4zM230 196h4v4h-4zM426 196h8v4h-8zM438 196h4v4h-4zM506 196h4v4h-4zM150 200h4v4h-4zM162 200h8v4h-8zM226 200h4v4h-4zM246 200h4v4h-4zM514 200h8v4h-8zM546 200h4v4h-4zM146 204h8v4h-8zM198 204h4v4h-4zM210 204h4v4h-4zM434 204h4v4h-4zM486 204h4v4h-4zM498 204h4v4h-4zM518 204h4v4h-4zM82 208h4v4h-4zM150 208h8v4h-8zM206 208h4v4h-4zM214 208h12v4h-12zM242 208h8v4h-8zM466 208h4v4h-4zM498 208h4v4h-4zM510 208h4v4h-4zM530 208h4v4h-4zM550 208h4v4h-4zM90 212h4v4h-4zM130 212h4v4h-4zM146 212h8v4h-8zM162 212h4v4h-4zM170 212h4v4h-4zM338 212h4v4h-4zM446 212h4v4h-4zM462 212h4v4h-4zM514 212h4v4h-4zM534 212h8v4h-8zM90 216h4v4h-4zM142 216h8v4h-8zM454 216h4v4h-4zM462 216h4v4h-4zM498 216h20v4h-20zM546 216h4v4h-4zM122 220h4v4h-4zM146 220h4v4h-4zM506 220h8v4h-8zM94 224h4v4h-4zM158 224h4v4h-4zM338 224h4v4h-4zM406 224h4v4h-4zM434 224h4v4h-4zM94 228h4v4h-4zM162 228h4v4h-4zM402 228h8v4h-8zM158 232h4v4h-4zM186 232h4v4h-4zM402 232h8v4h-8zM550 232h4v4h-4zM118 236h12v4h-12zM134 236h4v4h-4zM386 236h8v4h-8zM122 240h4v4h-4zM130 240h8v4h-8zM150 240h4v4h-4zM386 240h8v4h-8zM118 244h4v4h-4zM146 244h8v4h-8zM122 248h4v4h-4zM150 248h4v4h-4zM126 252h4v4h-4zM550 252h4v4h-4zM146 256h4v4h-4zM550 256h4v4h-4zM82 260h4v4h-4zM118 260h4v4h-4zM126 260h4v4h-4zM298 260h4v4h-4zM542 260h4v4h-4zM550 260h4v4h-4zM82 264h4v4h-4zM550 264h4v4h-4zM82 268h4v4h-4zM126 268h4v4h-4zM154 268h4v4h-4zM198 268h4v4h-4zM298 268h4v4h-4zM542 268h4v4h-4zM162 272h4v4h-4zM282 272h4v4h-4zM354 272h4v4h-4zM158 276h8v4h-8zM338 276h4v4h-4zM158 280h8v4h-8zM286 280h4v4h-4zM166 288h4v4h-4zM354 288h4v4h-4zM130 292h4v4h-4zM142 292h4v4h-4zM182 296h4v4h-4zM206 296h4v4h-4zM358 296h4v4h-4zM130 300h8v4h-8zM186 300h4v4h-4zM198 300h8v4h-8zM142 304h4v4h-4zM174 304h8v4h-8zM198 304h4v4h-4zM366 304h4v4h-4zM154 308h4v4h-4zM158 312h8v4h-8zM178 312h4v4h-4zM390 312h4v4h-4zM134 316h8v4h-8zM130 320h4v4h-4zM182 320h4v4h-4zM278 320h4v4h-4zM402 320h4v4h-4zM134 324h4v4h-4zM194 324h4v4h-4zM262 324h4v4h-4zM274 324h4v4h-4zM190 328h4v4h-4zM246 328h4v4h-4zM266 328h4v4h-4zM422 328h8v4h-8zM142 332h4v4h-4zM210 332h8v4h-8zM246 332h8v4h-8zM426 332h4v4h-4zM162 336h8v4h-8zM186 336h4v4h-4zM246 336h4v4h-4zM426 336h12v4h-12zM446 336h4v4h-4zM202 340h4v4h-4zM238 340h8v4h-8zM298 340h4v4h-4zM114 344h4v4h-4zM158 344h4v4h-4zM218 344h4v4h-4zM294 344h4v4h-4zM458 344h4v4h-4zM154 348h4v4h-4zM210 348h12v4h-12zM226 348h4v4h-4zM282 348h4v4h-4zM138 352h4v4h-4zM218 352h4v4h-4zM278 352h4v4h-4zM218 356h4v4h-4zM270 356h8v4h-8zM218 360h8v4h-8zM270 360h4v4h-4zM282 360h4v4h-4zM498 360h4v4h-4zM542 360h4v4h-4zM234 364h4v4h-4zM282 364h4v4h-4zM290 364h4v4h-4zM502 364h4v4h-4zM534 364h4v4h-4zM150 368h8v4h-8zM198 368h4v4h-4zM254 368h4v4h-4zM270 368h12v4h-12zM110 372h4v4h-4zM274 372h4v4h-4zM118 376h4v4h-4zM286 376h4v4h-4zM510 376h8v4h-8zM278 380h4v4h-4zM286 380h4v4h-4zM278 384h4v4h-4zM286 384h4v4h-4zM286 388h4v4h-4zM142 392h4v4h-4zM290 396h12v4h-12zM306 400h4v4h-4zM430 408h8v4h-8zM446 408h4v4h-4zM170 412h4v4h-4zM442 412h8v4h-8zM402 416h4v4h-4zM162 420h12v4h-12zM326 420h4v4h-4zM370 420h8v4h-8zM390 420h4v4h-4zM438 420h4v4h-4zM318 424h8v4h-8zM334 424h8v4h-8zM378 424h4v4h-4zM434 424h4v4h-4zM442 424h4v4h-4zM322 428h4v4h-4zM342 428h8v4h-8zM382 428h4v4h-4zM430 428h4v4h-4zM446 428h4v4h-4zM318 432h4v4h-4zM386 432h4v4h-4zM438 432h4v4h-4zM446 432h8v4h-8zM462 432h4v4h-4zM386 436h4v4h-4zM406 436h4v4h-4zM418 440h4v4h-4zM422 444h8v4h-8zM458 444h4v4h-4zM410 448h4v4h-4zM446 448h4v4h-4z"/>
<path fill="#1f1f1f" d="M338 40h4v4h-4zM306 44h4v4h-4zM242 48h4v4h-4zM362 48h4v4h-4zM238 52h4v4h-4zM262 52h4v4h-4zM222 56h4v4h-4zM242 56h8v4h-8zM210 60h4v4h-4zM246 60h4v4h-4zM326 60h4v4h-4zM206 64h12v4h-12zM278 64h4v4h-4zM442 64h4v4h-4zM210 68h4v4h-4zM222 72h8v4h-8zM238 72h8v4h-8zM290 72h4v4h-4zM438 72h4v4h-4zM202 76h8v4h-8zM442 76h4v4h-4zM178 80h4v4h-4zM222 80h4v4h-4zM446 80h4v4h-4zM466 80h4v4h-4zM350 84h4v4h-4zM374 84h4v4h-4zM442 84h4v4h-4zM470 84h4v4h-4zM482 84h4v4h-4zM258 88h4v4h-4zM306 88h4v4h-4zM478 88h4v4h-4zM174 92h4v4h-4zM182 92h4v4h-4zM254 92h4v4h-4zM458 92h4v4h-4zM482 92h4v4h-4zM162 100h8v4h-8zM274 100h4v4h-4zM342 100h4v4h-4zM458 100h4v4h-4zM166 104h8v4h-8zM262 104h4v4h-4zM274 104h4v4h-4zM470 104h8v4h-8zM494 104h4v4h-4zM170 108h4v4h-4zM258 108h8v4h-8zM478 108h4v4h-4zM146 112h4v4h-4zM326 112h4v4h-4zM338 112h4v4h-4zM262 116h4v4h-4zM262 120h4v4h-4zM398 120h4v4h-4zM486 120h4v4h-4zM518 120h4v4h-4zM318 124h4v4h-4zM454 124h4v4h-4zM522 124h4v4h-4zM134 128h4v4h-4zM238 128h4v4h-4zM342 128h4v4h-4zM238 132h4v4h-4zM238 136h4v4h-4zM490 136h8v4h-8zM510 136h4v4h-4zM534 136h4v4h-4zM226 140h4v4h-4zM262 140h4v4h-4zM514 140h4v4h-4zM218 144h4v4h-4zM446 144h4v4h-4zM250 148h4v4h-4zM534 148h4v4h-4zM106 152h4v4h-4zM226 152h4v4h-4zM246 152h4v4h-4zM206 156h4v4h-4zM214 156h4v4h-4zM222 156h8v4h-8zM494 156h4v4h-4zM546 156h4v4h-4zM122 160h8v4h-8zM202 160h8v4h-8zM214 160h4v4h-4zM250 160h12v4h-12zM522 160h4v4h-4zM542 160h4v4h-4zM110 164h4v4h-4zM174 164h4v4h-4zM210 164h8v4h-8zM98 168h4v4h-4zM166 168h4v4h-4zM206 168h8v4h-8zM226 168h4v4h-4zM522 168h4v4h-4zM118 172h8v4h-8zM130 172h8v4h-8zM170 172h4v4h-4zM210 172h4v4h-4zM426 172h4v4h-4zM118 176h4v4h-4zM142 176h4v4h-4zM150 176h4v4h-4zM174 176h4v4h-4zM106 180h4v4h-4zM114 180h4v4h-4zM142 180h4v4h-4zM170 180h4v4h-4zM194 180h4v4h-4zM250 180h8v4h-8zM426 180h4v4h-4zM94 184h4v4h-4zM106 184h4v4h-4zM138 184h4v4h-4zM158 184h4v4h-4zM426 184h4v4h-4zM442 184h8v4h-8zM502 184h4v4h-4zM98 188h4v4h-4zM110 188h8v4h-8zM174 188h4v4h-4zM222 188h4v4h-4zM326 188h4v4h-4zM426 188h4v4h-4zM146 192h4v4h-4zM218 192h4v4h-4zM246 192h4v4h-4zM330 192h4v4h-4zM502 192h4v4h-4zM102 196h4v4h-4zM110 196h4v4h-4zM118 196h4v4h-4zM142 196h4v4h-4zM158 196h8v4h-8zM210 196h4v4h-4zM514 196h4v4h-4zM102 200h8v4h-8zM130 200h4v4h-4zM202 200h4v4h-4zM210 200h4v4h-4zM530 200h4v4h-4zM114 204h4v4h-4zM134 204h4v4h-4zM226 204h8v4h-8zM530 204h4v4h-4zM542 204h4v4h-4zM130 208h4v4h-4zM490 208h8v4h-8zM94 212h4v4h-4zM138 212h4v4h-4zM346 212h4v4h-4zM526 212h4v4h-4zM550 212h8v4h-8zM118 216h4v4h-4zM130 216h4v4h-4zM138 216h4v4h-4zM494 216h4v4h-4zM86 220h4v4h-4zM98 220h4v4h-4zM114 220h4v4h-4zM338 220h4v4h-4zM514 220h4v4h-4zM82 224h8v4h-8zM114 224h4v4h-4zM126 224h8v4h-8zM150 224h4v4h-4zM438 224h4v4h-4zM86 228h4v4h-4zM102 228h4v4h-4zM146 228h4v4h-4zM498 228h4v4h-4zM114 232h4v4h-4zM142 232h4v4h-4zM410 232h4v4h-4zM90 236h4v4h-4zM114 236h4v4h-4zM382 236h4v4h-4zM394 236h4v4h-4zM406 236h4v4h-4zM414 236h4v4h-4zM106 240h4v4h-4zM138 240h4v4h-4zM418 240h4v4h-4zM106 244h8v4h-8zM550 244h4v4h-4zM106 248h4v4h-4zM118 248h4v4h-4zM550 248h4v4h-4zM98 252h8v4h-8zM118 252h8v4h-8zM146 252h4v4h-4zM118 256h4v4h-4zM302 260h4v4h-4zM534 260h4v4h-4zM114 264h4v4h-4zM298 264h4v4h-4zM122 268h4v4h-4zM82 272h4v4h-4zM90 272h4v4h-4zM346 272h4v4h-4zM558 272h4v4h-4zM566 272h8v4h-8zM90 276h4v4h-4zM114 276h4v4h-4zM334 276h4v4h-4zM114 280h4v4h-4zM122 280h4v4h-4zM310 280h4v4h-4zM118 284h4v4h-4zM126 284h4v4h-4zM118 288h4v4h-4zM82 292h4v4h-4zM206 292h4v4h-4zM146 296h4v4h-4zM118 300h8v4h-8zM146 300h4v4h-4zM134 304h4v4h-4zM182 304h4v4h-4zM138 308h4v4h-4zM178 308h8v4h-8zM202 308h4v4h-4zM130 312h12v4h-12zM154 312h4v4h-4zM166 312h4v4h-4zM166 316h4v4h-4zM174 316h4v4h-4zM126 320h4v4h-4zM186 320h8v4h-8zM130 324h4v4h-4zM170 324h4v4h-4zM178 324h4v4h-4zM190 324h4v4h-4zM422 324h4v4h-4zM174 328h4v4h-4zM182 328h8v4h-8zM442 328h4v4h-4zM138 332h4v4h-4zM146 332h4v4h-4zM158 332h16v4h-16zM170 336h4v4h-4zM170 340h4v4h-4zM194 340h4v4h-4zM170 344h4v4h-4zM278 344h4v4h-4zM274 348h8v4h-8zM114 352h4v4h-4zM134 352h4v4h-4zM142 352h4v4h-4zM202 352h16v4h-16zM478 352h4v4h-4zM158 356h4v4h-4zM198 356h8v4h-8zM294 356h8v4h-8zM494 356h4v4h-4zM214 360h4v4h-4zM286 360h4v4h-4zM146 364h4v4h-4zM238 364h4v4h-4zM250 364h4v4h-4zM234 368h8v4h-8zM510 368h4v4h-4zM530 368h4v4h-4zM118 372h4v4h-4zM234 372h4v4h-4zM258 372h4v4h-4zM266 372h4v4h-4zM514 372h4v4h-4zM162 376h4v4h-4zM226 376h4v4h-4zM234 376h4v4h-4zM282 376h4v4h-4zM282 380h4v4h-4zM274 384h4v4h-4zM282 384h4v4h-4zM138 388h4v4h-4zM282 388h4v4h-4zM146 392h4v4h-4zM282 396h4v4h-4zM282 400h4v4h-4zM290 400h4v4h-4zM302 400h4v4h-4zM162 408h4v4h-4zM170 408h8v4h-8zM450 408h8v4h-8zM166 412h4v4h-4zM290 412h4v4h-4zM450 412h4v4h-4zM154 416h8v4h-8zM174 416h4v4h-4zM290 416h4v4h-4zM438 416h4v4h-4zM154 420h4v4h-4zM174 420h4v4h-4zM186 420h4v4h-4zM434 420h4v4h-4zM170 424h4v4h-4zM186 424h4v4h-4zM386 424h8v4h-8zM326 428h4v4h-4zM338 428h4v4h-4zM366 428h4v4h-4zM378 428h4v4h-4zM386 428h4v4h-4zM454 428h4v4h-4zM322 432h8v4h-8zM334 432h8v4h-8zM354 432h4v4h-4zM378 432h4v4h-4zM442 432h4v4h-4zM178 436h4v4h-4zM430 436h4v4h-4zM462 436h8v4h-8zM394 440h4v4h-4zM422 440h4v4h-4zM438 440h4v4h-4zM458 440h4v4h-4zM466 440h4v4h-4zM186 444h8v4h-8zM402 444h4v4h-4zM430 444h4v4h-4zM438 444h4v4h-4zM462 444h4v4h-4zM402 448h4v4h-4zM442 448h4v4h-4zM442 452h8v4h-8zM214 456h8v4h-8zM438 456h4v4h-4zM390 460h8v4h-8z"/>
<path fill="#202020" d="M374 44h4v4h-4zM310 48h4v4h-4zM354 48h8v4h-8zM234 52h4v4h-4zM218 56h4v4h-4zM214 60h4v4h-4zM238 60h4v4h-4zM218 64h4v4h-4zM234 64h4v4h-4zM282 68h4v4h-4zM338 72h4v4h-4zM222 76h4v4h-4zM294 76h4v4h-4zM342 76h4v4h-4zM438 76h4v4h-4zM190 80h4v4h-4zM202 80h4v4h-4zM210 80h4v4h-4zM218 80h4v4h-4zM442 80h4v4h-4zM194 84h4v4h-4zM254 84h8v4h-8zM474 88h4v4h-4zM214 92h4v4h-4zM258 92h4v4h-4zM478 92h4v4h-4zM206 96h8v4h-8zM458 96h4v4h-4zM182 100h4v4h-4zM258 100h4v4h-4zM202 104h4v4h-4zM258 104h4v4h-4zM326 104h4v4h-4zM346 104h4v4h-4zM146 108h4v4h-4zM150 112h4v4h-4zM254 112h4v4h-4zM286 112h4v4h-4zM334 112h4v4h-4zM502 112h4v4h-4zM258 116h4v4h-4zM402 116h4v4h-4zM510 116h4v4h-4zM146 120h4v4h-4zM142 124h4v4h-4zM342 124h4v4h-4zM398 124h4v4h-4zM450 124h4v4h-4zM502 124h4v4h-4zM122 128h4v4h-4zM242 128h4v4h-4zM486 128h8v4h-8zM506 128h4v4h-4zM518 128h4v4h-4zM126 132h4v4h-4zM134 132h4v4h-4zM230 132h4v4h-4zM242 132h4v4h-4zM506 132h4v4h-4zM522 132h4v4h-4zM530 132h4v4h-4zM230 136h4v4h-4zM242 136h4v4h-4zM258 136h4v4h-4zM378 136h4v4h-4zM514 136h4v4h-4zM242 140h4v4h-4zM538 140h4v4h-4zM226 144h4v4h-4zM242 144h16v4h-16zM522 144h4v4h-4zM206 148h8v4h-8zM218 148h4v4h-4zM226 148h4v4h-4zM538 148h4v4h-4zM110 152h4v4h-4zM222 152h4v4h-4zM230 152h8v4h-8zM438 152h4v4h-4zM446 152h4v4h-4zM106 156h4v4h-4zM126 156h4v4h-4zM142 156h4v4h-4zM202 156h4v4h-4zM210 156h4v4h-4zM106 160h8v4h-8zM210 160h4v4h-4zM246 160h4v4h-4zM446 160h4v4h-4zM498 160h8v4h-8zM162 164h4v4h-4zM182 164h4v4h-4zM202 164h4v4h-4zM218 164h8v4h-8zM430 164h4v4h-4zM446 164h4v4h-4zM518 164h4v4h-4zM138 168h4v4h-4zM170 168h4v4h-4zM194 168h12v4h-12zM126 172h4v4h-4zM194 172h4v4h-4zM230 172h4v4h-4zM250 172h4v4h-4zM114 176h4v4h-4zM122 176h4v4h-4zM170 176h4v4h-4zM194 176h4v4h-4zM214 176h4v4h-4zM226 176h8v4h-8zM426 176h4v4h-4zM446 176h4v4h-4zM118 180h4v4h-4zM174 180h4v4h-4zM222 180h12v4h-12zM446 180h4v4h-4zM114 184h4v4h-4zM142 184h4v4h-4zM174 184h4v4h-4zM222 184h4v4h-4zM230 184h4v4h-4zM106 188h4v4h-4zM138 188h4v4h-4zM158 188h4v4h-4zM218 188h4v4h-4zM334 188h4v4h-4zM434 188h4v4h-4zM102 192h4v4h-4zM110 192h4v4h-4zM118 192h4v4h-4zM142 192h4v4h-4zM150 192h8v4h-8zM430 192h4v4h-4zM514 192h4v4h-4zM86 196h4v4h-4zM98 196h4v4h-4zM106 196h4v4h-4zM434 196h4v4h-4zM522 196h8v4h-8zM86 200h8v4h-8zM110 200h4v4h-4zM126 200h4v4h-4zM522 200h4v4h-4zM126 204h4v4h-4zM202 204h8v4h-8zM474 204h4v4h-4zM522 204h4v4h-4zM166 208h4v4h-4zM526 208h4v4h-4zM538 208h4v4h-4zM122 212h4v4h-4zM342 212h4v4h-4zM522 212h4v4h-4zM338 216h4v4h-4zM522 216h16v4h-16zM94 220h4v4h-4zM442 220h4v4h-4zM458 220h4v4h-4zM518 220h4v4h-4zM102 224h4v4h-4zM502 224h8v4h-8zM530 224h8v4h-8zM90 228h4v4h-4zM158 228h4v4h-4zM86 232h4v4h-4zM146 232h8v4h-8zM354 232h4v4h-4zM414 232h4v4h-4zM426 232h4v4h-4zM102 236h4v4h-4zM110 236h4v4h-4zM138 236h4v4h-4zM146 236h4v4h-4zM398 236h8v4h-8zM410 236h4v4h-4zM538 236h4v4h-4zM94 240h4v4h-4zM394 240h4v4h-4zM410 240h4v4h-4zM114 244h4v4h-4zM386 244h8v4h-8zM86 248h8v4h-8zM102 248h4v4h-4zM110 248h4v4h-4zM322 248h4v4h-4zM534 248h4v4h-4zM110 252h8v4h-8zM534 252h4v4h-4zM82 256h4v4h-4zM94 256h4v4h-4zM114 256h4v4h-4zM306 256h4v4h-4zM114 260h4v4h-4zM302 264h4v4h-4zM302 268h4v4h-4zM522 268h8v4h-8zM546 268h8v4h-8zM94 272h8v4h-8zM122 272h4v4h-4zM342 272h4v4h-4zM538 272h12v4h-12zM554 272h4v4h-4zM86 276h4v4h-4zM110 276h4v4h-4zM118 276h12v4h-12zM330 276h4v4h-4zM90 280h4v4h-4zM118 280h4v4h-4zM114 284h4v4h-4zM122 284h4v4h-4zM358 284h4v4h-4zM126 288h4v4h-4zM118 292h12v4h-12zM98 296h8v4h-8zM118 296h12v4h-12zM98 300h4v4h-4zM114 300h4v4h-4zM126 300h4v4h-4zM118 304h8v4h-8zM202 304h4v4h-4zM170 308h8v4h-8zM126 316h4v4h-4zM154 316h8v4h-8zM150 320h4v4h-4zM162 320h12v4h-12zM118 324h12v4h-12zM182 324h8v4h-8zM278 324h4v4h-4zM418 324h4v4h-4zM118 328h8v4h-8zM134 328h4v4h-4zM166 328h4v4h-4zM178 328h4v4h-4zM122 332h8v4h-8zM154 332h4v4h-4zM446 332h4v4h-4zM122 336h4v4h-4zM98 340h4v4h-4zM178 340h4v4h-4zM154 344h4v4h-4zM182 344h8v4h-8zM206 344h4v4h-4zM298 344h4v4h-4zM462 344h8v4h-8zM110 348h4v4h-4zM162 348h8v4h-8zM474 348h4v4h-4zM198 352h4v4h-4zM274 352h4v4h-4zM482 352h4v4h-4zM162 356h4v4h-4zM214 356h4v4h-4zM222 356h4v4h-4zM154 360h8v4h-8zM238 360h8v4h-8zM502 360h4v4h-4zM538 360h4v4h-4zM158 364h4v4h-4zM202 364h4v4h-4zM222 364h4v4h-4zM110 368h4v4h-4zM146 368h4v4h-4zM202 368h4v4h-4zM226 368h8v4h-8zM122 372h4v4h-4zM254 372h4v4h-4zM126 376h4v4h-4zM158 376h4v4h-4zM222 376h4v4h-4zM230 376h4v4h-4zM254 376h4v4h-4zM266 376h4v4h-4zM126 380h4v4h-4zM226 380h4v4h-4zM234 380h4v4h-4zM270 380h4v4h-4zM138 384h4v4h-4zM226 384h12v4h-12zM262 384h4v4h-4zM146 388h4v4h-4zM126 392h4v4h-4zM138 392h4v4h-4zM150 392h4v4h-4zM282 392h4v4h-4zM142 400h4v4h-4zM138 404h8v4h-8zM158 404h8v4h-8zM286 404h8v4h-8zM142 408h4v4h-4zM158 408h4v4h-4zM166 408h4v4h-4zM286 408h8v4h-8zM162 412h4v4h-4zM434 412h8v4h-8zM462 412h4v4h-4zM150 416h4v4h-4zM190 416h4v4h-4zM434 416h4v4h-4zM158 424h4v4h-4zM326 424h4v4h-4zM170 428h4v4h-4zM170 432h4v4h-4zM178 432h8v4h-8zM330 432h4v4h-4zM454 432h8v4h-8zM182 436h4v4h-4zM322 436h4v4h-4zM334 436h8v4h-8zM350 436h12v4h-12zM374 436h4v4h-4zM442 436h8v4h-8zM182 440h4v4h-4zM190 440h4v4h-4zM362 440h4v4h-4zM390 440h4v4h-4zM446 440h4v4h-4zM462 440h4v4h-4zM418 444h4v4h-4zM434 444h4v4h-4zM198 448h4v4h-4zM438 448h4v4h-4zM202 452h8v4h-8zM406 452h4v4h-4zM390 456h8v4h-8zM434 456h4v4h-4zM442 456h4v4h-4zM226 464h4v4h-4zM402 472h4v4h-4z"/>
<path fill="#212121" d="M298 40h4v4h-4zM238 48h4v4h-4zM218 60h4v4h-4zM242 60h4v4h-4zM202 64h4v4h-4zM246 64h4v4h-4zM246 72h4v4h-4zM218 76h4v4h-4zM226 76h4v4h-4zM206 80h4v4h-4zM214 80h4v4h-4zM226 80h4v4h-4zM202 84h4v4h-4zM222 84h4v4h-4zM302 84h4v4h-4zM182 88h4v4h-4zM314 88h4v4h-4zM470 88h4v4h-4zM206 92h8v4h-8zM202 96h4v4h-4zM214 96h4v4h-4zM258 96h4v4h-4zM350 96h4v4h-4zM486 96h4v4h-4zM158 100h4v4h-4zM174 100h4v4h-4zM202 100h4v4h-4zM470 100h4v4h-4zM486 100h4v4h-4zM146 104h4v4h-4zM162 104h4v4h-4zM174 104h4v4h-4zM478 104h4v4h-4zM486 104h4v4h-4zM150 108h8v4h-8zM166 108h4v4h-4zM338 108h4v4h-4zM154 112h4v4h-4zM170 112h4v4h-4zM330 112h4v4h-4zM498 112h4v4h-4zM138 124h4v4h-4zM242 124h4v4h-4zM518 124h4v4h-4zM262 128h4v4h-4zM226 132h4v4h-4zM234 132h4v4h-4zM486 132h4v4h-4zM518 132h4v4h-4zM222 136h4v4h-4zM234 136h4v4h-4zM238 140h4v4h-4zM246 140h4v4h-4zM534 140h4v4h-4zM534 144h8v4h-8zM110 148h8v4h-8zM190 148h4v4h-4zM246 148h4v4h-4zM114 152h4v4h-4zM142 152h4v4h-4zM214 152h8v4h-8zM238 152h8v4h-8zM110 156h4v4h-4zM122 156h4v4h-4zM130 156h8v4h-8zM158 156h4v4h-4zM194 156h8v4h-8zM498 156h8v4h-8zM542 156h4v4h-4zM102 160h4v4h-4zM114 160h8v4h-8zM162 160h8v4h-8zM198 160h4v4h-4zM102 164h8v4h-8zM126 164h4v4h-4zM138 164h4v4h-4zM166 164h8v4h-8zM246 164h8v4h-8zM522 164h4v4h-4zM114 168h4v4h-4zM126 168h4v4h-4zM134 168h4v4h-4zM142 168h4v4h-4zM154 168h4v4h-4zM190 168h4v4h-4zM214 168h4v4h-4zM246 168h4v4h-4zM98 172h8v4h-8zM142 172h8v4h-8zM446 172h4v4h-4zM106 176h8v4h-8zM126 176h4v4h-4zM146 176h4v4h-4zM186 176h4v4h-4zM222 176h4v4h-4zM254 176h4v4h-4zM126 180h4v4h-4zM154 180h4v4h-4zM258 180h8v4h-8zM118 184h4v4h-4zM430 184h12v4h-12zM102 188h4v4h-4zM126 188h4v4h-4zM142 188h4v4h-4zM330 188h4v4h-4zM430 188h4v4h-4zM502 188h4v4h-4zM510 188h4v4h-4zM506 192h8v4h-8zM90 196h4v4h-4zM94 200h8v4h-8zM526 200h4v4h-4zM94 204h4v4h-4zM130 204h4v4h-4zM526 204h4v4h-4zM538 204h4v4h-4zM122 208h8v4h-8zM522 208h4v4h-4zM126 212h4v4h-4zM466 212h4v4h-4zM494 212h4v4h-4zM110 216h8v4h-8zM126 216h4v4h-4zM346 216h4v4h-4zM446 216h8v4h-8zM102 220h4v4h-4zM110 220h4v4h-4zM342 220h4v4h-4zM534 220h4v4h-4zM510 224h4v4h-4zM150 228h8v4h-8zM414 228h4v4h-4zM434 228h4v4h-4zM494 228h4v4h-4zM538 228h4v4h-4zM90 232h4v4h-4zM102 232h4v4h-4zM358 232h8v4h-8zM86 236h4v4h-4zM98 236h4v4h-4zM142 236h4v4h-4zM378 236h4v4h-4zM418 236h4v4h-4zM102 240h4v4h-4zM382 240h4v4h-4zM406 240h4v4h-4zM90 244h4v4h-4zM534 244h4v4h-4zM114 248h4v4h-4zM94 252h4v4h-4zM310 252h4v4h-4zM98 256h4v4h-4zM534 256h4v4h-4zM86 260h4v4h-4zM94 260h8v4h-8zM530 264h4v4h-4zM86 268h4v4h-4zM94 268h4v4h-4zM530 268h4v4h-4zM86 272h4v4h-4zM118 272h4v4h-4zM358 272h4v4h-4zM534 272h4v4h-4zM550 272h4v4h-4zM82 276h4v4h-4zM86 280h4v4h-4zM94 280h8v4h-8zM110 280h4v4h-4zM318 280h4v4h-4zM98 284h4v4h-4zM114 288h4v4h-4zM122 288h4v4h-4zM106 292h8v4h-8zM106 296h8v4h-8zM94 300h4v4h-4zM102 300h4v4h-4zM110 300h4v4h-4zM362 300h4v4h-4zM82 304h4v4h-4zM94 304h4v4h-4zM110 304h8v4h-8zM126 304h8v4h-8zM82 308h4v4h-4zM94 308h4v4h-4zM126 308h12v4h-12zM378 308h4v4h-4zM126 312h4v4h-4zM174 312h4v4h-4zM170 316h4v4h-4zM122 320h4v4h-4zM414 320h4v4h-4zM434 320h4v4h-4zM106 324h4v4h-4zM166 324h4v4h-4zM154 328h4v4h-4zM118 332h4v4h-4zM98 336h4v4h-4zM126 336h4v4h-4zM94 340h4v4h-4zM174 340h4v4h-4zM190 340h4v4h-4zM110 344h4v4h-4zM142 344h4v4h-4zM174 344h8v4h-8zM194 344h8v4h-8zM470 344h4v4h-4zM134 348h4v4h-4zM170 348h8v4h-8zM206 348h4v4h-4zM110 352h4v4h-4zM118 352h4v4h-4zM162 352h4v4h-4zM222 352h4v4h-4zM486 352h4v4h-4zM134 356h8v4h-8zM154 356h4v4h-4zM194 356h4v4h-4zM206 356h8v4h-8zM194 360h4v4h-4zM202 360h4v4h-4zM294 360h4v4h-4zM182 364h8v4h-8zM218 364h4v4h-4zM142 368h4v4h-4zM158 368h4v4h-4zM194 368h4v4h-4zM514 368h4v4h-4zM154 372h12v4h-12zM198 372h4v4h-4zM222 372h12v4h-12zM238 372h4v4h-4zM262 372h4v4h-4zM210 376h4v4h-4zM258 376h4v4h-4zM158 380h4v4h-4zM214 380h4v4h-4zM258 384h4v4h-4zM266 384h4v4h-4zM150 388h4v4h-4zM186 388h4v4h-4zM230 388h8v4h-8zM258 388h8v4h-8zM278 388h4v4h-4zM154 392h4v4h-4zM278 392h4v4h-4zM138 396h4v4h-4zM146 396h8v4h-8zM278 396h4v4h-4zM138 400h4v4h-4zM158 400h8v4h-8zM190 400h4v4h-4zM294 400h8v4h-8zM154 404h4v4h-4zM166 404h4v4h-4zM154 408h4v4h-4zM178 408h4v4h-4zM154 412h8v4h-8zM286 412h4v4h-4zM194 416h4v4h-4zM194 420h4v4h-4zM162 424h8v4h-8zM174 428h4v4h-4zM330 428h8v4h-8zM174 432h4v4h-4zM430 432h4v4h-4zM174 436h4v4h-4zM190 436h4v4h-4zM326 436h4v4h-4zM342 436h8v4h-8zM398 436h4v4h-4zM458 436h4v4h-4zM186 440h4v4h-4zM214 440h4v4h-4zM318 440h4v4h-4zM374 440h4v4h-4zM382 440h4v4h-4zM402 440h4v4h-4zM442 440h4v4h-4zM378 444h4v4h-4zM202 448h4v4h-4zM422 448h8v4h-8zM218 452h4v4h-4zM410 452h4v4h-4zM434 452h4v4h-4zM398 456h4v4h-4zM222 460h4v4h-4zM398 460h4v4h-4zM430 460h4v4h-4z"/>
<path fill="#222222" d="M258 44h4v4h-4zM342 44h4v4h-4zM370 44h4v4h-4zM314 52h4v4h-4zM330 64h4v4h-4zM238 68h4v4h-4zM230 76h4v4h-4zM242 76h4v4h-4zM230 80h4v4h-4zM298 80h4v4h-4zM458 80h4v4h-4zM186 84h4v4h-4zM198 84h4v4h-4zM218 84h4v4h-4zM226 84h8v4h-8zM214 88h4v4h-4zM310 88h4v4h-4zM458 88h4v4h-4zM186 92h4v4h-4zM202 92h4v4h-4zM170 96h8v4h-8zM186 96h4v4h-4zM334 96h4v4h-4zM478 96h4v4h-4zM206 100h4v4h-4zM350 100h4v4h-4zM474 100h4v4h-4zM190 104h8v4h-8zM206 104h4v4h-4zM482 104h4v4h-4zM490 104h4v4h-4zM158 108h4v4h-4zM174 108h4v4h-4zM254 108h4v4h-4zM322 108h4v4h-4zM482 108h4v4h-4zM494 108h4v4h-4zM158 112h4v4h-4zM150 116h4v4h-4zM254 116h4v4h-4zM482 116h4v4h-4zM506 116h4v4h-4zM258 120h4v4h-4zM490 120h4v4h-4zM514 120h4v4h-4zM238 124h4v4h-4zM234 128h4v4h-4zM490 132h4v4h-4zM526 132h4v4h-4zM246 136h4v4h-4zM262 136h4v4h-4zM218 140h4v4h-4zM518 140h4v4h-4zM530 140h4v4h-4zM118 148h4v4h-4zM214 148h4v4h-4zM118 152h4v4h-4zM138 152h4v4h-4zM190 152h8v4h-8zM202 152h4v4h-4zM442 152h4v4h-4zM138 156h4v4h-4zM162 156h4v4h-4zM446 156h4v4h-4zM130 160h16v4h-16zM142 164h4v4h-4zM198 164h4v4h-4zM254 164h4v4h-4zM102 168h4v4h-4zM130 168h4v4h-4zM146 168h8v4h-8zM186 168h4v4h-4zM250 168h8v4h-8zM446 168h4v4h-4zM190 172h4v4h-4zM226 172h4v4h-4zM254 172h4v4h-4zM190 176h4v4h-4zM258 176h8v4h-8zM94 180h4v4h-4zM122 180h4v4h-4zM126 184h4v4h-4zM154 184h4v4h-4zM226 184h4v4h-4zM506 184h4v4h-4zM118 188h4v4h-4zM146 188h4v4h-4zM154 188h4v4h-4zM106 192h4v4h-4zM126 192h4v4h-4zM158 192h4v4h-4zM434 192h4v4h-4zM94 196h4v4h-4zM122 196h8v4h-8zM482 204h4v4h-4zM470 208h4v4h-4zM98 212h8v4h-8zM94 216h16v4h-16zM126 220h8v4h-8zM454 220h4v4h-4zM462 220h4v4h-4zM522 220h12v4h-12zM110 224h4v4h-4zM110 228h4v4h-4zM110 232h4v4h-4zM106 236h4v4h-4zM422 236h4v4h-4zM82 240h4v4h-4zM90 240h4v4h-4zM350 240h4v4h-4zM94 244h4v4h-4zM102 244h4v4h-4zM394 244h4v4h-4zM410 244h8v4h-8zM82 248h4v4h-4zM94 248h4v4h-4zM82 252h12v4h-12zM86 256h4v4h-4zM102 256h4v4h-4zM110 256h4v4h-4zM86 264h4v4h-4zM98 264h8v4h-8zM110 264h4v4h-4zM522 264h8v4h-8zM90 268h4v4h-4zM98 268h4v4h-4zM110 268h12v4h-12zM110 272h8v4h-8zM522 272h8v4h-8zM358 280h4v4h-4zM110 284h4v4h-4zM98 288h4v4h-4zM362 288h4v4h-4zM98 292h8v4h-8zM114 292h4v4h-4zM362 292h4v4h-4zM114 296h4v4h-4zM362 296h4v4h-4zM86 300h4v4h-4zM90 304h4v4h-4zM98 304h8v4h-8zM370 304h4v4h-4zM98 308h8v4h-8zM170 312h4v4h-4zM86 316h4v4h-4zM402 316h8v4h-8zM106 320h4v4h-4zM422 320h12v4h-12zM110 324h4v4h-4zM98 328h4v4h-4zM110 328h8v4h-8zM126 328h8v4h-8zM114 332h4v4h-4zM130 332h8v4h-8zM150 332h4v4h-4zM118 336h4v4h-4zM142 336h4v4h-4zM114 340h12v4h-12zM118 344h4v4h-4zM118 348h4v4h-4zM194 348h8v4h-8zM194 352h4v4h-4zM114 356h12v4h-12zM166 356h4v4h-4zM226 356h4v4h-4zM498 356h4v4h-4zM546 356h4v4h-4zM134 360h4v4h-4zM150 360h4v4h-4zM162 360h4v4h-4zM210 360h4v4h-4zM114 364h4v4h-4zM142 364h4v4h-4zM178 364h4v4h-4zM194 364h4v4h-4zM214 364h4v4h-4zM246 364h4v4h-4zM118 368h4v4h-4zM126 368h4v4h-4zM138 368h4v4h-4zM190 368h4v4h-4zM222 368h4v4h-4zM242 368h4v4h-4zM518 368h4v4h-4zM526 368h4v4h-4zM126 372h4v4h-4zM150 372h4v4h-4zM206 372h8v4h-8zM242 372h4v4h-4zM166 376h4v4h-4zM206 376h4v4h-4zM214 376h4v4h-4zM238 376h8v4h-8zM222 380h4v4h-4zM230 380h4v4h-4zM242 380h8v4h-8zM266 380h4v4h-4zM122 384h8v4h-8zM134 384h4v4h-4zM142 384h4v4h-4zM150 384h12v4h-12zM214 384h4v4h-4zM270 384h4v4h-4zM126 388h12v4h-12zM154 388h8v4h-8zM182 388h4v4h-4zM226 388h4v4h-4zM266 388h4v4h-4zM130 392h4v4h-4zM158 392h8v4h-8zM170 392h8v4h-8zM182 392h8v4h-8zM234 392h4v4h-4zM154 396h4v4h-4zM162 396h12v4h-12zM274 396h4v4h-4zM166 400h4v4h-4zM194 400h4v4h-4zM262 400h4v4h-4zM150 404h4v4h-4zM170 404h4v4h-4zM178 404h4v4h-4zM310 404h4v4h-4zM150 408h4v4h-4zM214 408h4v4h-4zM282 408h4v4h-4zM294 408h8v4h-8zM146 412h8v4h-8zM190 412h4v4h-4zM214 412h8v4h-8zM294 412h4v4h-4zM454 412h8v4h-8zM198 416h4v4h-4zM286 416h4v4h-4zM294 416h4v4h-4zM198 420h4v4h-4zM174 424h4v4h-4zM190 424h4v4h-4zM374 424h4v4h-4zM162 428h8v4h-8zM178 428h4v4h-4zM370 428h4v4h-4zM186 432h8v4h-8zM206 432h4v4h-4zM370 432h4v4h-4zM186 436h4v4h-4zM194 436h4v4h-4zM206 436h4v4h-4zM330 436h4v4h-4zM402 436h4v4h-4zM194 440h4v4h-4zM210 440h4v4h-4zM218 440h4v4h-4zM342 440h12v4h-12zM358 440h4v4h-4zM366 440h4v4h-4zM386 440h4v4h-4zM398 440h4v4h-4zM194 444h4v4h-4zM394 444h4v4h-4zM194 448h4v4h-4zM218 448h4v4h-4zM414 448h4v4h-4zM210 452h8v4h-8zM362 456h4v4h-4zM426 456h8v4h-8zM362 460h8v4h-8zM402 460h4v4h-4zM418 464h4v4h-4zM238 468h8v4h-8zM258 468h4v4h-4zM402 468h4v4h-4zM398 472h4v4h-4z"/>
<path fill="#232323" d="M238 64h4v4h-4zM286 68h4v4h-4zM334 68h4v4h-4zM238 76h4v4h-4zM234 80h4v4h-4zM206 84h4v4h-4zM214 84h4v4h-4zM234 84h4v4h-4zM202 88h4v4h-4zM318 88h4v4h-4zM190 92h4v4h-4zM326 92h4v4h-4zM474 92h4v4h-4zM254 96h4v4h-4zM482 96h4v4h-4zM154 100h4v4h-4zM170 100h4v4h-4zM186 100h4v4h-4zM462 100h4v4h-4zM478 100h4v4h-4zM150 104h4v4h-4zM198 104h4v4h-4zM334 104h4v4h-4zM162 108h4v4h-4zM162 112h8v4h-8zM174 112h4v4h-4zM482 112h4v4h-4zM502 116h4v4h-4zM146 124h4v4h-4zM506 124h4v4h-4zM122 132h4v4h-4zM246 132h4v4h-4zM262 132h4v4h-4zM510 132h8v4h-8zM518 136h4v4h-4zM530 136h4v4h-4zM250 140h4v4h-4zM174 144h8v4h-8zM214 144h4v4h-4zM238 144h4v4h-4zM194 148h4v4h-4zM230 148h4v4h-4zM242 148h4v4h-4zM134 152h4v4h-4zM198 152h4v4h-4zM114 156h8v4h-8zM158 160h4v4h-4zM170 160h4v4h-4zM194 160h4v4h-4zM434 160h4v4h-4zM134 164h4v4h-4zM146 164h8v4h-8zM158 164h4v4h-4zM258 164h4v4h-4zM106 168h8v4h-8zM106 172h4v4h-4zM114 172h4v4h-4zM186 172h4v4h-4zM214 172h4v4h-4zM102 176h4v4h-4zM218 176h4v4h-4zM146 180h4v4h-4zM430 180h4v4h-4zM146 184h4v4h-4zM110 204h4v4h-4zM118 208h4v4h-4zM106 212h4v4h-4zM118 212h4v4h-4zM342 216h4v4h-4zM106 220h4v4h-4zM490 220h4v4h-4zM438 228h4v4h-4zM502 228h8v4h-8zM538 232h4v4h-4zM398 240h8v4h-8zM86 244h4v4h-4zM346 244h4v4h-4zM406 244h4v4h-4zM98 248h4v4h-4zM530 252h4v4h-4zM90 256h4v4h-4zM106 256h4v4h-4zM90 260h4v4h-4zM102 260h4v4h-4zM110 260h4v4h-4zM94 264h4v4h-4zM106 264h4v4h-4zM530 272h4v4h-4zM102 276h4v4h-4zM358 276h4v4h-4zM554 276h4v4h-4zM570 276h4v4h-4zM82 280h4v4h-4zM314 280h4v4h-4zM94 284h4v4h-4zM362 284h4v4h-4zM94 288h4v4h-4zM102 288h12v4h-12zM86 292h4v4h-4zM94 292h4v4h-4zM86 296h4v4h-4zM94 296h4v4h-4zM90 300h4v4h-4zM106 300h4v4h-4zM86 304h4v4h-4zM106 304h4v4h-4zM122 308h4v4h-4zM86 312h4v4h-4zM94 312h4v4h-4zM102 312h4v4h-4zM394 312h4v4h-4zM122 316h4v4h-4zM410 316h4v4h-4zM110 320h4v4h-4zM118 320h4v4h-4zM158 320h4v4h-4zM418 320h4v4h-4zM94 328h4v4h-4zM102 328h8v4h-8zM162 328h4v4h-4zM98 332h4v4h-4zM94 336h4v4h-4zM130 336h4v4h-4zM146 336h8v4h-8zM450 336h4v4h-4zM102 340h4v4h-4zM98 344h8v4h-8zM138 344h4v4h-4zM190 344h4v4h-4zM178 348h4v4h-4zM186 348h4v4h-4zM478 348h4v4h-4zM122 352h4v4h-4zM146 352h4v4h-4zM226 352h4v4h-4zM142 356h12v4h-12zM170 356h4v4h-4zM138 360h4v4h-4zM146 360h4v4h-4zM170 360h8v4h-8zM206 360h4v4h-4zM110 364h4v4h-4zM118 364h4v4h-4zM134 364h8v4h-8zM162 364h4v4h-4zM242 364h4v4h-4zM530 364h4v4h-4zM122 368h4v4h-4zM134 368h4v4h-4zM186 368h4v4h-4zM206 368h4v4h-4zM246 368h8v4h-8zM522 368h4v4h-4zM142 372h4v4h-4zM166 372h8v4h-8zM194 372h4v4h-4zM202 372h4v4h-4zM214 372h4v4h-4zM246 372h4v4h-4zM130 376h4v4h-4zM142 376h4v4h-4zM246 376h4v4h-4zM130 380h4v4h-4zM154 380h4v4h-4zM162 380h4v4h-4zM210 380h4v4h-4zM238 380h4v4h-4zM258 380h4v4h-4zM146 384h4v4h-4zM238 384h12v4h-12zM122 388h4v4h-4zM162 388h4v4h-4zM170 388h8v4h-8zM254 388h4v4h-4zM270 388h8v4h-8zM134 392h4v4h-4zM166 392h4v4h-4zM238 392h4v4h-4zM254 392h4v4h-4zM274 392h4v4h-4zM158 396h4v4h-4zM174 396h4v4h-4zM190 396h4v4h-4zM250 396h8v4h-8zM150 400h8v4h-8zM170 400h8v4h-8zM198 400h4v4h-4zM278 400h4v4h-4zM174 404h4v4h-4zM182 404h4v4h-4zM194 404h8v4h-8zM282 404h4v4h-4zM294 404h8v4h-8zM306 404h4v4h-4zM146 408h4v4h-4zM182 408h4v4h-4zM210 408h4v4h-4zM278 408h4v4h-4zM194 412h4v4h-4zM210 412h4v4h-4zM274 412h8v4h-8zM186 416h4v4h-4zM202 416h4v4h-4zM178 420h8v4h-8zM290 420h8v4h-8zM182 424h4v4h-4zM186 428h4v4h-4zM374 432h4v4h-4zM202 436h4v4h-4zM202 440h8v4h-8zM338 440h4v4h-4zM354 440h4v4h-4zM370 440h4v4h-4zM198 444h8v4h-8zM218 444h12v4h-12zM342 444h4v4h-4zM382 444h4v4h-4zM398 444h4v4h-4zM326 448h8v4h-8zM378 448h4v4h-4zM430 448h8v4h-8zM326 452h4v4h-4zM402 452h4v4h-4zM426 452h8v4h-8zM366 456h4v4h-4zM386 456h4v4h-4zM402 456h4v4h-4zM358 460h4v4h-4zM386 460h4v4h-4zM422 460h8v4h-8zM434 460h4v4h-4zM238 464h8v4h-8zM390 464h12v4h-12zM406 464h12v4h-12zM262 468h4v4h-4zM398 468h4v4h-4zM410 468h8v4h-8zM354 476h4v4h-4zM366 476h4v4h-4z"/>
<path fill="#242424" d="M270 56h4v4h-4zM274 60h4v4h-4zM242 64h4v4h-4zM246 68h4v4h-4zM234 76h4v4h-4zM246 76h4v4h-4zM346 80h4v4h-4zM462 80h4v4h-4zM190 84h4v4h-4zM458 84h4v4h-4zM466 84h4v4h-4zM186 88h12v4h-12zM206 88h4v4h-4zM218 88h4v4h-4zM194 92h4v4h-4zM218 92h4v4h-4zM462 92h4v4h-4zM470 92h4v4h-4zM338 96h4v4h-4zM470 96h8v4h-8zM150 100h4v4h-4zM198 100h4v4h-4zM466 100h4v4h-4zM482 100h4v4h-4zM154 104h8v4h-8zM178 104h4v4h-4zM254 104h4v4h-4zM330 104h4v4h-4zM202 108h4v4h-4zM486 108h4v4h-4zM494 112h4v4h-4zM150 120h4v4h-4zM238 120h8v4h-8zM510 120h4v4h-4zM514 124h4v4h-4zM138 128h8v4h-8zM230 128h4v4h-4zM246 128h4v4h-4zM510 128h8v4h-8zM258 132h4v4h-4zM250 136h4v4h-4zM522 136h4v4h-4zM174 140h8v4h-8zM230 140h8v4h-8zM254 140h4v4h-4zM522 140h8v4h-8zM114 144h4v4h-4zM170 144h4v4h-4zM190 144h4v4h-4zM186 148h4v4h-4zM234 148h8v4h-8zM122 152h4v4h-4zM146 152h4v4h-4zM158 152h4v4h-4zM146 156h4v4h-4zM166 156h4v4h-4zM190 156h4v4h-4zM438 156h8v4h-8zM130 164h4v4h-4zM154 164h4v4h-4zM186 164h4v4h-4zM194 164h4v4h-4zM222 168h4v4h-4zM262 168h4v4h-4zM222 172h4v4h-4zM262 172h4v4h-4zM94 176h8v4h-8zM102 180h4v4h-4zM150 180h4v4h-4zM98 184h8v4h-8zM122 184h4v4h-4zM150 188h4v4h-4zM122 192h4v4h-4zM98 204h12v4h-12zM478 204h4v4h-4zM98 208h4v4h-4zM114 208h4v4h-4zM490 212h4v4h-4zM466 216h4v4h-4zM490 216h4v4h-4zM450 220h4v4h-4zM106 224h4v4h-4zM442 224h4v4h-4zM526 224h4v4h-4zM510 228h4v4h-4zM430 232h4v4h-4zM494 232h8v4h-8zM86 240h4v4h-4zM98 240h4v4h-4zM422 240h4v4h-4zM534 240h4v4h-4zM418 244h4v4h-4zM326 248h8v4h-8zM510 252h4v4h-4zM530 256h4v4h-4zM522 260h4v4h-4zM530 260h4v4h-4zM90 264h4v4h-4zM102 268h8v4h-8zM102 272h8v4h-8zM106 276h4v4h-4zM326 276h4v4h-4zM102 280h8v4h-8zM102 284h8v4h-8zM82 288h8v4h-8zM90 292h4v4h-4zM366 300h4v4h-4zM86 308h8v4h-8zM106 308h4v4h-4zM114 308h8v4h-8zM382 308h4v4h-4zM90 312h4v4h-4zM98 312h4v4h-4zM106 312h4v4h-4zM90 316h4v4h-4zM106 316h4v4h-4zM422 316h8v4h-8zM86 320h4v4h-4zM154 320h4v4h-4zM438 320h4v4h-4zM114 324h4v4h-4zM154 324h4v4h-4zM162 324h4v4h-4zM442 324h4v4h-4zM158 328h4v4h-4zM446 328h4v4h-4zM90 332h4v4h-4zM102 332h4v4h-4zM110 332h4v4h-4zM102 336h4v4h-4zM114 336h4v4h-4zM138 336h4v4h-4zM110 340h4v4h-4zM142 340h12v4h-12zM458 340h4v4h-4zM106 344h4v4h-4zM134 344h4v4h-4zM146 344h4v4h-4zM202 344h4v4h-4zM106 348h4v4h-4zM146 348h4v4h-4zM182 348h4v4h-4zM106 352h4v4h-4zM150 352h4v4h-4zM166 352h12v4h-12zM186 352h4v4h-4zM126 356h8v4h-8zM174 356h4v4h-4zM190 356h4v4h-4zM502 356h4v4h-4zM542 356h4v4h-4zM550 356h4v4h-4zM122 360h4v4h-4zM130 360h4v4h-4zM142 360h4v4h-4zM166 360h4v4h-4zM178 360h4v4h-4zM190 360h4v4h-4zM506 360h4v4h-4zM106 364h4v4h-4zM122 364h4v4h-4zM130 364h4v4h-4zM174 364h4v4h-4zM190 364h4v4h-4zM206 364h8v4h-8zM130 368h4v4h-4zM162 368h4v4h-4zM178 368h8v4h-8zM210 368h8v4h-8zM130 372h12v4h-12zM146 372h4v4h-4zM218 372h4v4h-4zM250 372h4v4h-4zM134 376h8v4h-8zM154 376h4v4h-4zM170 376h4v4h-4zM218 376h4v4h-4zM250 376h4v4h-4zM262 376h4v4h-4zM134 380h12v4h-12zM170 380h4v4h-4zM206 380h4v4h-4zM218 380h4v4h-4zM250 380h8v4h-8zM262 380h4v4h-4zM130 384h4v4h-4zM162 384h4v4h-4zM170 384h8v4h-8zM222 384h4v4h-4zM254 384h4v4h-4zM190 388h4v4h-4zM238 388h8v4h-8zM190 392h4v4h-4zM230 392h4v4h-4zM242 392h4v4h-4zM250 392h4v4h-4zM258 392h4v4h-4zM266 392h8v4h-8zM186 396h4v4h-4zM234 396h4v4h-4zM134 400h4v4h-4zM146 400h4v4h-4zM202 400h4v4h-4zM258 400h4v4h-4zM274 400h4v4h-4zM146 404h4v4h-4zM202 404h8v4h-8zM262 404h4v4h-4zM302 404h4v4h-4zM218 408h4v4h-4zM274 408h4v4h-4zM310 408h4v4h-4zM178 412h4v4h-4zM282 412h4v4h-4zM310 412h4v4h-4zM178 416h4v4h-4zM214 416h4v4h-4zM202 420h4v4h-4zM210 420h4v4h-4zM178 424h4v4h-4zM210 424h4v4h-4zM294 424h12v4h-12zM310 424h4v4h-4zM182 428h4v4h-4zM206 428h4v4h-4zM242 428h4v4h-4zM194 432h4v4h-4zM202 432h4v4h-4zM198 436h4v4h-4zM210 436h4v4h-4zM218 436h4v4h-4zM198 440h4v4h-4zM222 440h4v4h-4zM322 440h8v4h-8zM334 440h4v4h-4zM206 444h12v4h-12zM326 444h8v4h-8zM338 444h4v4h-4zM346 444h4v4h-4zM362 444h4v4h-4zM386 444h8v4h-8zM206 448h12v4h-12zM222 448h4v4h-4zM382 448h4v4h-4zM398 448h4v4h-4zM330 452h4v4h-4zM378 452h8v4h-8zM394 452h4v4h-4zM422 452h4v4h-4zM222 456h4v4h-4zM346 456h8v4h-8zM358 456h4v4h-4zM406 456h4v4h-4zM422 456h4v4h-4zM226 460h4v4h-4zM346 460h8v4h-8zM406 460h4v4h-4zM230 464h4v4h-4zM342 464h4v4h-4zM354 464h16v4h-16zM386 464h4v4h-4zM402 464h4v4h-4zM422 464h8v4h-8zM406 468h4v4h-4zM294 476h4v4h-4z"/>
<path fill="#252525" d="M362 40h4v4h-4zM302 44h4v4h-4zM318 56h4v4h-4zM242 68h4v4h-4zM302 80h4v4h-4zM210 84h4v4h-4zM306 84h4v4h-4zM198 88h4v4h-4zM466 88h4v4h-4zM466 92h4v4h-4zM190 96h4v4h-4zM198 96h4v4h-4zM342 96h4v4h-4zM190 100h8v4h-8zM210 100h4v4h-4zM254 100h4v4h-4zM346 100h4v4h-4zM186 104h4v4h-4zM190 108h4v4h-4zM206 108h4v4h-4zM170 116h8v4h-8zM498 116h4v4h-4zM254 120h4v4h-4zM494 120h16v4h-16zM234 124h4v4h-4zM258 124h4v4h-4zM510 124h4v4h-4zM222 132h4v4h-4zM114 140h4v4h-4zM142 140h4v4h-4zM170 140h4v4h-4zM182 144h4v4h-4zM206 144h8v4h-8zM230 144h4v4h-4zM142 148h8v4h-8zM178 148h8v4h-8zM130 152h4v4h-4zM162 152h4v4h-4zM154 156h4v4h-4zM170 156h4v4h-4zM146 160h4v4h-4zM154 160h4v4h-4zM174 160h8v4h-8zM190 160h4v4h-4zM442 160h4v4h-4zM190 164h4v4h-4zM218 168h4v4h-4zM258 168h4v4h-4zM430 168h4v4h-4zM258 172h4v4h-4zM98 180h4v4h-4zM442 180h4v4h-4zM122 188h4v4h-4zM506 188h4v4h-4zM102 208h12v4h-12zM110 212h8v4h-8zM446 220h4v4h-4zM458 224h4v4h-4zM490 224h4v4h-4zM514 224h4v4h-4zM106 228h4v4h-4zM106 232h4v4h-4zM354 236h4v4h-4zM426 236h4v4h-4zM534 236h4v4h-4zM82 244h4v4h-4zM98 244h4v4h-4zM382 244h4v4h-4zM398 244h4v4h-4zM106 260h4v4h-4zM526 260h4v4h-4zM526 276h12v4h-12zM550 276h4v4h-4zM558 276h4v4h-4zM566 276h4v4h-4zM82 284h12v4h-12zM90 288h4v4h-4zM90 296h4v4h-4zM110 308h4v4h-4zM386 308h8v4h-8zM122 312h4v4h-4zM94 316h4v4h-4zM102 316h4v4h-4zM110 316h4v4h-4zM102 324h4v4h-4zM446 324h4v4h-4zM94 332h4v4h-4zM106 332h4v4h-4zM450 332h4v4h-4zM110 336h4v4h-4zM134 336h4v4h-4zM126 340h4v4h-4zM134 340h4v4h-4zM474 344h4v4h-4zM130 348h4v4h-4zM150 348h4v4h-4zM190 348h4v4h-4zM202 348h4v4h-4zM126 352h8v4h-8zM178 352h8v4h-8zM190 352h4v4h-4zM490 352h4v4h-4zM102 356h4v4h-4zM110 356h4v4h-4zM186 356h4v4h-4zM106 360h4v4h-4zM114 360h8v4h-8zM126 360h4v4h-4zM182 360h8v4h-8zM534 360h4v4h-4zM126 364h4v4h-4zM166 364h8v4h-8zM510 364h4v4h-4zM170 368h8v4h-8zM218 368h4v4h-4zM174 372h4v4h-4zM190 372h4v4h-4zM202 376h4v4h-4zM146 380h8v4h-8zM166 380h4v4h-4zM210 384h4v4h-4zM218 384h4v4h-4zM166 388h4v4h-4zM178 388h4v4h-4zM202 388h8v4h-8zM214 388h4v4h-4zM222 388h4v4h-4zM246 388h4v4h-4zM178 392h4v4h-4zM246 392h4v4h-4zM262 392h4v4h-4zM130 396h4v4h-4zM194 396h4v4h-4zM238 396h4v4h-4zM258 396h16v4h-16zM178 400h4v4h-4zM186 400h4v4h-4zM206 400h12v4h-12zM254 400h4v4h-4zM266 400h4v4h-4zM186 404h8v4h-8zM210 404h8v4h-8zM190 408h20v4h-20zM302 408h4v4h-4zM198 412h8v4h-8zM222 412h4v4h-4zM298 412h4v4h-4zM210 416h4v4h-4zM218 416h4v4h-4zM310 416h4v4h-4zM298 420h4v4h-4zM310 420h4v4h-4zM194 424h8v4h-8zM206 424h4v4h-4zM290 424h4v4h-4zM190 428h4v4h-4zM202 428h4v4h-4zM310 428h4v4h-4zM374 428h4v4h-4zM314 432h4v4h-4zM214 436h4v4h-4zM226 440h4v4h-4zM330 440h4v4h-4zM246 444h8v4h-8zM318 444h8v4h-8zM334 444h4v4h-4zM374 444h4v4h-4zM230 448h4v4h-4zM322 448h4v4h-4zM362 448h4v4h-4zM370 448h8v4h-8zM394 448h4v4h-4zM418 448h4v4h-4zM222 452h4v4h-4zM238 452h4v4h-4zM346 452h8v4h-8zM362 452h12v4h-12zM386 452h8v4h-8zM398 452h4v4h-4zM242 456h4v4h-4zM410 456h4v4h-4zM242 460h4v4h-4zM342 460h4v4h-4zM354 460h4v4h-4zM370 460h4v4h-4zM410 460h12v4h-12zM258 464h4v4h-4zM346 464h8v4h-8zM382 464h4v4h-4zM338 468h8v4h-8zM362 468h8v4h-8zM378 468h12v4h-12zM366 472h8v4h-8zM358 476h8v4h-8z"/>
<path fill="#262626" d="M294 40h4v4h-4zM346 44h4v4h-4zM366 44h4v4h-4zM282 64h4v4h-4zM294 72h4v4h-4zM238 80h4v4h-4zM210 88h4v4h-4zM222 88h8v4h-8zM198 92h4v4h-4zM194 96h4v4h-4zM218 96h4v4h-4zM462 96h8v4h-8zM210 104h4v4h-4zM186 108h4v4h-4zM194 108h8v4h-8zM326 108h4v4h-4zM334 108h4v4h-4zM490 108h4v4h-4zM486 116h4v4h-4zM150 124h4v4h-4zM246 124h4v4h-4zM146 128h4v4h-4zM186 128h4v4h-4zM250 132h4v4h-4zM218 136h4v4h-4zM254 136h4v4h-4zM526 136h4v4h-4zM146 140h4v4h-4zM182 140h4v4h-4zM118 144h4v4h-4zM186 144h4v4h-4zM234 144h4v4h-4zM166 148h8v4h-8zM198 148h8v4h-8zM126 152h4v4h-4zM154 152h4v4h-4zM166 152h4v4h-4zM186 152h4v4h-4zM174 156h8v4h-8zM182 160h4v4h-4zM110 172h4v4h-4zM434 180h4v4h-4zM150 184h4v4h-4zM486 208h4v4h-4zM454 224h4v4h-4zM462 224h4v4h-4zM534 228h4v4h-4zM374 236h4v4h-4zM402 244h4v4h-4zM510 248h4v4h-4zM530 248h4v4h-4zM514 252h4v4h-4zM526 252h4v4h-4zM510 256h20v4h-20zM306 260h4v4h-4zM518 260h4v4h-4zM354 268h4v4h-4zM338 272h4v4h-4zM362 272h4v4h-4zM522 276h4v4h-4zM538 276h4v4h-4zM546 276h4v4h-4zM562 276h4v4h-4zM362 280h4v4h-4zM114 312h4v4h-4zM98 316h4v4h-4zM118 316h4v4h-4zM414 316h8v4h-8zM114 320h4v4h-4zM446 320h4v4h-4zM450 324h4v4h-4zM90 328h4v4h-4zM450 328h4v4h-4zM454 336h4v4h-4zM106 340h4v4h-4zM130 340h4v4h-4zM138 340h4v4h-4zM122 344h4v4h-4zM150 344h4v4h-4zM122 348h4v4h-4zM482 348h4v4h-4zM106 356h4v4h-4zM178 356h4v4h-4zM166 368h4v4h-4zM178 372h12v4h-12zM202 380h4v4h-4zM166 384h4v4h-4zM186 384h4v4h-4zM202 384h4v4h-4zM250 384h4v4h-4zM194 388h4v4h-4zM210 388h4v4h-4zM218 388h4v4h-4zM250 388h4v4h-4zM194 392h4v4h-4zM206 392h12v4h-12zM134 396h4v4h-4zM182 396h4v4h-4zM210 396h8v4h-8zM242 396h8v4h-8zM182 400h4v4h-4zM218 400h8v4h-8zM250 400h4v4h-4zM218 404h4v4h-4zM266 404h4v4h-4zM278 404h4v4h-4zM186 408h4v4h-4zM306 408h4v4h-4zM186 412h4v4h-4zM206 412h4v4h-4zM302 412h4v4h-4zM182 416h4v4h-4zM222 416h4v4h-4zM230 416h8v4h-8zM298 416h8v4h-8zM206 420h4v4h-4zM214 420h4v4h-4zM234 420h8v4h-8zM286 420h4v4h-4zM302 420h4v4h-4zM214 424h4v4h-4zM238 424h8v4h-8zM198 428h4v4h-4zM210 428h4v4h-4zM238 428h4v4h-4zM246 428h4v4h-4zM302 428h8v4h-8zM314 428h4v4h-4zM198 432h4v4h-4zM210 432h4v4h-4zM250 432h4v4h-4zM314 436h4v4h-4zM246 440h8v4h-8zM230 444h4v4h-4zM366 444h8v4h-8zM226 448h4v4h-4zM234 448h4v4h-4zM342 448h4v4h-4zM366 448h4v4h-4zM386 448h8v4h-8zM230 452h8v4h-8zM242 452h4v4h-4zM342 452h4v4h-4zM354 452h8v4h-8zM374 452h4v4h-4zM414 452h4v4h-4zM238 456h4v4h-4zM342 456h4v4h-4zM354 456h4v4h-4zM382 456h4v4h-4zM382 460h4v4h-4zM234 464h4v4h-4zM338 464h4v4h-4zM246 468h4v4h-4zM254 468h4v4h-4zM266 468h4v4h-4zM358 468h4v4h-4zM390 468h8v4h-8zM250 472h4v4h-4zM258 472h4v4h-4zM374 472h4v4h-4zM298 476h4v4h-4zM350 476h4v4h-4z"/>
<path fill="#272727" d="M342 40h4v4h-4zM298 76h4v4h-4zM346 84h4v4h-4zM230 88h4v4h-4zM322 88h4v4h-4zM346 88h4v4h-4zM462 88h4v4h-4zM346 92h4v4h-4zM346 96h4v4h-4zM214 100h4v4h-4zM182 104h4v4h-4zM178 108h4v4h-4zM210 108h4v4h-4zM186 112h4v4h-4zM486 112h8v4h-8zM154 116h4v4h-4zM166 116h4v4h-4zM494 116h4v4h-4zM234 120h4v4h-4zM190 128h4v4h-4zM226 128h4v4h-4zM258 128h4v4h-4zM138 132h4v4h-4zM186 132h4v4h-4zM122 136h4v4h-4zM146 136h4v4h-4zM170 136h4v4h-4zM182 136h4v4h-4zM214 140h4v4h-4zM146 144h4v4h-4zM166 144h4v4h-4zM194 144h4v4h-4zM138 148h4v4h-4zM158 148h4v4h-4zM174 148h4v4h-4zM170 152h4v4h-4zM178 152h8v4h-8zM182 156h4v4h-4zM150 160h4v4h-4zM186 160h4v4h-4zM218 172h4v4h-4zM430 172h4v4h-4zM430 176h4v4h-4zM438 180h4v4h-4zM466 220h4v4h-4zM450 224h4v4h-4zM518 224h4v4h-4zM502 232h4v4h-4zM506 244h4v4h-4zM334 248h4v4h-4zM386 248h4v4h-4zM506 248h4v4h-4zM518 264h4v4h-4zM306 272h4v4h-4zM362 276h4v4h-4zM542 276h4v4h-4zM374 304h4v4h-4zM110 312h4v4h-4zM118 312h4v4h-4zM114 316h4v4h-4zM430 316h4v4h-4zM102 320h4v4h-4zM442 320h4v4h-4zM450 320h4v4h-4zM94 324h8v4h-8zM158 324h4v4h-4zM106 336h4v4h-4zM130 344h4v4h-4zM478 344h4v4h-4zM486 348h4v4h-4zM182 356h4v4h-4zM110 360h4v4h-4zM514 364h8v4h-8zM526 364h4v4h-4zM146 376h8v4h-8zM198 376h4v4h-4zM206 384h4v4h-4zM218 392h12v4h-12zM178 396h4v4h-4zM198 396h4v4h-4zM270 400h4v4h-4zM258 404h4v4h-4zM274 404h4v4h-4zM222 408h4v4h-4zM270 408h4v4h-4zM182 412h4v4h-4zM226 412h8v4h-8zM306 412h4v4h-4zM206 416h4v4h-4zM226 416h4v4h-4zM238 416h4v4h-4zM282 416h4v4h-4zM306 416h4v4h-4zM202 424h4v4h-4zM306 424h4v4h-4zM194 428h4v4h-4zM226 428h4v4h-4zM250 428h4v4h-4zM298 428h4v4h-4zM242 432h4v4h-4zM310 432h4v4h-4zM222 436h4v4h-4zM250 436h4v4h-4zM242 444h4v4h-4zM258 444h4v4h-4zM350 444h4v4h-4zM358 444h4v4h-4zM238 448h8v4h-8zM250 448h4v4h-4zM334 448h4v4h-4zM346 448h4v4h-4zM226 452h4v4h-4zM322 452h4v4h-4zM370 456h4v4h-4zM378 456h4v4h-4zM230 460h4v4h-4zM238 460h4v4h-4zM246 460h4v4h-4zM374 460h4v4h-4zM246 464h4v4h-4zM262 464h4v4h-4zM370 464h4v4h-4zM346 468h4v4h-4zM354 468h4v4h-4zM370 468h4v4h-4zM254 472h4v4h-4zM262 472h4v4h-4zM326 472h4v4h-4zM354 472h4v4h-4zM362 472h4v4h-4zM378 472h4v4h-4zM326 476h4v4h-4zM370 476h4v4h-4z"/>
<path fill="#282828" d="M290 40h4v4h-4zM262 48h4v4h-4zM306 48h4v4h-4zM266 52h4v4h-4zM322 60h4v4h-4zM338 76h4v4h-4zM242 80h4v4h-4zM342 80h4v4h-4zM310 84h4v4h-4zM462 84h4v4h-4zM222 92h4v4h-4zM250 92h4v4h-4zM330 92h4v4h-4zM218 100h4v4h-4zM214 104h4v4h-4zM182 108h4v4h-4zM226 108h8v4h-8zM182 112h4v4h-4zM190 112h4v4h-4zM206 112h8v4h-8zM162 116h4v4h-4zM490 116h4v4h-4zM154 120h4v4h-4zM246 120h4v4h-4zM230 124h4v4h-4zM150 128h4v4h-4zM182 128h4v4h-4zM142 132h4v4h-4zM182 132h4v4h-4zM190 132h4v4h-4zM118 136h4v4h-4zM126 136h8v4h-8zM142 136h4v4h-4zM166 136h4v4h-4zM178 136h4v4h-4zM118 140h4v4h-4zM166 140h4v4h-4zM142 144h4v4h-4zM150 148h8v4h-8zM162 148h4v4h-4zM150 152h4v4h-4zM174 152h4v4h-4zM186 156h4v4h-4zM438 160h4v4h-4zM442 164h4v4h-4zM470 212h4v4h-4zM446 224h4v4h-4zM522 224h4v4h-4zM442 228h4v4h-4zM462 228h4v4h-4zM530 228h4v4h-4zM506 232h4v4h-4zM534 232h4v4h-4zM498 236h4v4h-4zM390 248h8v4h-8zM402 248h4v4h-4zM514 260h4v4h-4zM306 264h4v4h-4zM518 268h4v4h-4zM522 280h4v4h-4zM570 280h4v4h-4zM422 312h4v4h-4zM454 312h4v4h-4zM90 320h8v4h-8zM562 320h4v4h-4zM562 324h4v4h-4zM562 328h4v4h-4zM454 332h4v4h-4zM462 340h4v4h-4zM126 344h4v4h-4zM98 348h8v4h-8zM126 348h4v4h-4zM494 352h4v4h-4zM530 360h4v4h-4zM522 364h4v4h-4zM194 376h4v4h-4zM174 380h4v4h-4zM182 384h4v4h-4zM198 388h4v4h-4zM198 392h8v4h-8zM202 396h8v4h-8zM218 396h4v4h-4zM226 400h4v4h-4zM222 404h8v4h-8zM270 404h4v4h-4zM266 408h4v4h-4zM234 412h4v4h-4zM270 412h4v4h-4zM278 416h4v4h-4zM226 420h8v4h-8zM226 424h4v4h-4zM234 424h4v4h-4zM214 428h4v4h-4zM294 428h4v4h-4zM214 432h8v4h-8zM226 432h4v4h-4zM234 432h8v4h-8zM246 432h4v4h-4zM254 444h4v4h-4zM354 444h4v4h-4zM254 448h4v4h-4zM338 448h4v4h-4zM350 448h12v4h-12zM334 452h4v4h-4zM418 452h4v4h-4zM226 456h4v4h-4zM234 456h4v4h-4zM246 456h4v4h-4zM254 456h4v4h-4zM330 456h4v4h-4zM374 456h4v4h-4zM414 456h4v4h-4zM338 460h4v4h-4zM378 460h4v4h-4zM334 464h4v4h-4zM378 464h4v4h-4zM326 468h12v4h-12zM374 468h4v4h-4zM266 472h4v4h-4zM338 472h8v4h-8zM358 472h4v4h-4zM386 472h12v4h-12zM290 476h4v4h-4zM346 476h4v4h-4z"/>
<path fill="#292929" d="M290 68h4v4h-4zM238 84h4v4h-4zM314 84h4v4h-4zM234 88h4v4h-4zM226 92h4v4h-4zM222 96h4v4h-4zM218 104h16v4h-16zM214 108h4v4h-4zM330 108h4v4h-4zM178 112h4v4h-4zM202 112h4v4h-4zM158 116h4v4h-4zM234 116h16v4h-16zM154 124h4v4h-4zM178 128h4v4h-4zM146 132h4v4h-4zM178 132h4v4h-4zM218 132h4v4h-4zM134 136h4v4h-4zM174 136h4v4h-4zM186 136h4v4h-4zM186 140h4v4h-4zM150 144h4v4h-4zM202 144h4v4h-4zM122 148h4v4h-4zM150 156h4v4h-4zM442 176h4v4h-4zM466 224h4v4h-4zM454 228h8v4h-8zM490 228h4v4h-4zM434 232h4v4h-4zM490 232h4v4h-4zM510 232h4v4h-4zM358 236h4v4h-4zM494 236h4v4h-4zM502 236h4v4h-4zM498 240h8v4h-8zM350 244h4v4h-4zM502 244h4v4h-4zM398 248h4v4h-4zM406 248h8v4h-8zM506 252h4v4h-4zM518 252h8v4h-8zM510 260h4v4h-4zM306 268h4v4h-4zM350 268h4v4h-4zM334 272h4v4h-4zM322 276h4v4h-4zM526 280h4v4h-4zM366 296h4v4h-4zM370 300h4v4h-4zM398 312h4v4h-4zM418 312h4v4h-4zM426 312h4v4h-4zM450 312h4v4h-4zM446 316h12v4h-12zM98 320h4v4h-4zM90 324h4v4h-4zM102 352h4v4h-4zM506 356h4v4h-4zM174 376h4v4h-4zM182 376h4v4h-4zM198 380h4v4h-4zM178 384h4v4h-4zM190 384h4v4h-4zM198 384h4v4h-4zM222 396h4v4h-4zM230 396h4v4h-4zM246 400h4v4h-4zM226 408h4v4h-4zM274 416h4v4h-4zM218 420h8v4h-8zM306 420h4v4h-4zM218 424h4v4h-4zM246 424h4v4h-4zM222 428h4v4h-4zM234 428h4v4h-4zM222 432h4v4h-4zM254 432h4v4h-4zM226 436h4v4h-4zM246 436h4v4h-4zM310 436h4v4h-4zM242 440h4v4h-4zM254 440h4v4h-4zM314 440h4v4h-4zM234 444h8v4h-8zM246 448h4v4h-4zM258 448h4v4h-4zM246 452h4v4h-4zM254 452h4v4h-4zM230 456h4v4h-4zM250 456h4v4h-4zM322 456h8v4h-8zM334 456h4v4h-4zM418 456h4v4h-4zM234 460h4v4h-4zM334 460h4v4h-4zM254 464h4v4h-4zM330 464h4v4h-4zM250 468h4v4h-4zM350 468h4v4h-4zM270 472h4v4h-4zM330 472h4v4h-4zM382 472h4v4h-4zM330 476h4v4h-4zM378 476h4v4h-4zM386 476h4v4h-4z"/>
<path fill="#2a2a2a" d="M358 40h4v4h-4zM262 44h4v4h-4zM350 44h4v4h-4zM334 72h4v4h-4zM246 80h4v4h-4zM306 80h4v4h-4zM246 88h4v4h-4zM222 100h4v4h-4zM234 104h4v4h-4zM214 112h4v4h-4zM178 116h4v4h-4zM158 120h4v4h-4zM158 124h4v4h-4zM190 124h8v4h-8zM154 128h4v4h-4zM222 128h4v4h-4zM250 128h4v4h-4zM150 132h4v4h-4zM138 136h4v4h-4zM214 136h4v4h-4zM150 140h4v4h-4zM190 140h4v4h-4zM154 144h4v4h-4zM162 144h4v4h-4zM434 164h4v4h-4zM442 172h4v4h-4zM474 208h4v4h-4zM450 228h4v4h-4zM514 228h4v4h-4zM422 244h4v4h-4zM530 244h4v4h-4zM342 248h4v4h-4zM382 248h4v4h-4zM414 248h4v4h-4zM506 256h4v4h-4zM358 268h4v4h-4zM330 272h4v4h-4zM530 280h4v4h-4zM566 280h4v4h-4zM366 288h4v4h-4zM378 304h4v4h-4zM442 312h4v4h-4zM442 316h4v4h-4zM566 316h4v4h-4zM454 320h4v4h-4zM454 324h4v4h-4zM454 328h4v4h-4zM466 340h4v4h-4zM490 348h4v4h-4zM498 352h4v4h-4zM186 376h8v4h-8zM186 380h4v4h-4zM194 384h4v4h-4zM226 396h4v4h-4zM230 400h4v4h-4zM230 408h4v4h-4zM222 424h4v4h-4zM230 424h4v4h-4zM286 424h4v4h-4zM218 428h4v4h-4zM230 428h4v4h-4zM290 428h4v4h-4zM230 432h4v4h-4zM306 432h4v4h-4zM234 436h4v4h-4zM254 436h4v4h-4zM230 440h4v4h-4zM262 444h4v4h-4zM250 452h4v4h-4zM338 452h4v4h-4zM338 456h4v4h-4zM250 460h12v4h-12zM322 460h4v4h-4zM330 460h4v4h-4zM250 464h4v4h-4zM266 464h4v4h-4zM374 464h4v4h-4zM274 472h8v4h-8zM334 472h4v4h-4zM346 472h8v4h-8zM274 476h4v4h-4zM334 476h4v4h-4zM342 476h4v4h-4zM374 476h4v4h-4zM382 476h4v4h-4z"/>
<path fill="#2b2b2b" d="M286 40h4v4h-4zM362 44h4v4h-4zM302 76h4v4h-4zM318 84h4v4h-4zM230 92h4v4h-4zM246 92h4v4h-4zM230 100h4v4h-4zM218 108h8v4h-8zM234 108h4v4h-4zM194 112h4v4h-4zM234 112h4v4h-4zM182 116h12v4h-12zM210 116h4v4h-4zM162 120h4v4h-4zM186 124h4v4h-4zM226 124h4v4h-4zM194 128h4v4h-4zM154 132h4v4h-4zM174 132h4v4h-4zM254 132h4v4h-4zM150 136h4v4h-4zM162 136h4v4h-4zM190 136h4v4h-4zM122 140h4v4h-4zM158 140h8v4h-8zM210 140h4v4h-4zM158 144h4v4h-4zM198 144h4v4h-4zM442 168h4v4h-4zM486 212h4v4h-4zM438 232h4v4h-4zM430 236h4v4h-4zM506 236h4v4h-4zM354 240h4v4h-4zM378 240h4v4h-4zM426 240h4v4h-4zM506 240h4v4h-4zM510 244h4v4h-4zM338 248h4v4h-4zM346 248h4v4h-4zM514 248h4v4h-4zM526 248h4v4h-4zM506 260h4v4h-4zM514 264h4v4h-4zM366 272h4v4h-4zM518 272h4v4h-4zM394 308h4v4h-4zM446 308h4v4h-4zM414 312h4v4h-4zM430 312h4v4h-4zM438 312h4v4h-4zM446 312h4v4h-4zM458 312h4v4h-4zM434 316h8v4h-8zM558 324h4v4h-4zM558 328h4v4h-4zM558 332h4v4h-4zM470 340h4v4h-4zM558 340h4v4h-4zM502 352h4v4h-4zM538 356h4v4h-4zM518 360h4v4h-4zM178 376h4v4h-4zM182 380h4v4h-4zM194 380h4v4h-4zM234 400h4v4h-4zM230 404h4v4h-4zM262 408h4v4h-4zM242 420h4v4h-4zM230 436h4v4h-4zM238 436h8v4h-8zM234 440h8v4h-8zM258 440h4v4h-4zM310 440h4v4h-4zM262 448h4v4h-4zM258 456h4v4h-4zM326 460h4v4h-4zM322 464h8v4h-8zM270 468h4v4h-4zM282 472h4v4h-4zM290 472h12v4h-12zM270 476h4v4h-4zM338 476h4v4h-4z"/>
<path fill="#2c2c2c" d="M298 44h4v4h-4zM310 52h4v4h-4zM326 64h4v4h-4zM242 84h8v4h-8zM238 88h4v4h-4zM234 100h4v4h-4zM198 112h4v4h-4zM218 112h4v4h-4zM230 112h4v4h-4zM194 116h4v4h-4zM206 116h4v4h-4zM250 116h4v4h-4zM174 120h4v4h-4zM190 120h8v4h-8zM230 120h4v4h-4zM178 124h8v4h-8zM198 124h4v4h-4zM158 132h16v4h-16zM158 136h4v4h-4zM154 140h4v4h-4zM122 144h4v4h-4zM134 148h4v4h-4zM438 164h4v4h-4zM434 176h8v4h-8zM446 228h4v4h-4zM466 228h4v4h-4zM490 236h4v4h-4zM394 252h12v4h-12zM310 276h4v4h-4zM518 276h4v4h-4zM534 280h4v4h-4zM562 280h4v4h-4zM366 284h4v4h-4zM366 292h4v4h-4zM442 308h4v4h-4zM450 308h4v4h-4zM434 312h4v4h-4zM458 316h4v4h-4zM458 336h4v4h-4zM482 344h4v4h-4zM510 360h4v4h-4zM190 380h4v4h-4zM242 400h4v4h-4zM254 404h4v4h-4zM254 428h4v4h-4zM302 432h4v4h-4zM262 440h4v4h-4zM258 452h4v4h-4zM262 460h4v4h-4zM274 468h8v4h-8zM286 472h4v4h-4zM266 476h4v4h-4zM278 476h4v4h-4zM302 476h4v4h-4zM318 476h8v4h-8z"/>
<path fill="#2d2d2d" d="M354 40h4v4h-4zM342 84h4v4h-4zM242 88h4v4h-4zM334 92h4v4h-4zM226 96h8v4h-8zM226 100h4v4h-4zM250 112h4v4h-4zM198 116h8v4h-8zM166 120h4v4h-4zM178 120h4v4h-4zM186 120h4v4h-4zM198 120h4v4h-4zM162 124h4v4h-4zM250 124h4v4h-4zM158 128h4v4h-4zM198 128h4v4h-4zM154 136h4v4h-4zM138 140h4v4h-4zM434 168h4v4h-4zM482 208h4v4h-4zM526 228h4v4h-4zM350 248h4v4h-4zM510 264h4v4h-4zM362 268h4v4h-4zM382 304h4v4h-4zM390 304h4v4h-4zM438 308h4v4h-4zM458 320h4v4h-4zM558 320h4v4h-4zM558 336h4v4h-4zM494 348h4v4h-4zM514 360h4v4h-4zM526 360h4v4h-4zM238 400h4v4h-4zM234 408h4v4h-4zM238 412h4v4h-4zM282 420h4v4h-4zM250 424h4v4h-4zM298 432h4v4h-4zM274 460h4v4h-4zM270 464h12v4h-12zM322 472h4v4h-4zM282 476h8v4h-8z"/>
<path fill="#2e2e2e" d="M346 40h4v4h-4zM278 60h4v4h-4zM286 64h4v4h-4zM326 88h4v4h-4zM234 92h4v4h-4zM342 92h4v4h-4zM234 96h4v4h-4zM246 112h4v4h-4zM214 116h4v4h-4zM230 116h4v4h-4zM170 120h4v4h-4zM182 120h4v4h-4zM250 120h4v4h-4zM174 124h4v4h-4zM162 128h4v4h-4zM174 128h4v4h-4zM206 140h4v4h-4zM138 144h4v4h-4zM434 172h4v4h-4zM470 216h4v4h-4zM462 232h8v4h-8zM530 232h4v4h-4zM510 236h4v4h-4zM530 236h4v4h-4zM494 240h4v4h-4zM530 240h4v4h-4zM418 248h4v4h-4zM502 248h4v4h-4zM518 248h8v4h-8zM406 252h4v4h-4zM346 268h4v4h-4zM366 276h4v4h-4zM550 280h12v4h-12zM522 284h8v4h-8zM566 284h8v4h-8zM386 304h4v4h-4zM454 308h4v4h-4zM462 316h4v4h-4zM554 344h4v4h-4zM554 348h4v4h-4zM522 360h4v4h-4zM178 380h4v4h-4zM250 404h4v4h-4zM258 436h4v4h-4zM306 436h4v4h-4zM314 444h4v4h-4zM274 448h4v4h-4zM278 460h4v4h-4zM282 468h12v4h-12zM302 472h4v4h-4zM318 472h4v4h-4z"/>
<path fill="#2f2f2f" d="M354 44h4v4h-4zM330 68h4v4h-4zM238 92h8v4h-8zM250 96h4v4h-4zM238 100h4v4h-4zM226 112h4v4h-4zM202 120h4v4h-4zM226 120h4v4h-4zM202 124h4v4h-4zM166 128h4v4h-4zM218 128h4v4h-4zM194 132h4v4h-4zM194 140h4v4h-4zM438 172h4v4h-4zM478 208h4v4h-4zM486 216h4v4h-4zM518 228h4v4h-4zM370 236h4v4h-4zM510 240h4v4h-4zM514 244h4v4h-4zM410 252h4v4h-4zM502 260h4v4h-4zM514 268h4v4h-4zM370 272h4v4h-4zM374 300h4v4h-4zM434 308h4v4h-4zM402 312h4v4h-4zM410 312h4v4h-4zM562 316h4v4h-4zM462 320h4v4h-4zM554 324h4v4h-4zM554 328h4v4h-4zM458 332h4v4h-4zM462 336h4v4h-4zM474 340h4v4h-4zM486 344h4v4h-4zM506 352h4v4h-4zM546 352h8v4h-8zM534 356h4v4h-4zM242 416h4v4h-4zM262 436h4v4h-4zM270 448h4v4h-4zM262 452h4v4h-4zM266 460h8v4h-8zM306 472h8v4h-8zM306 476h12v4h-12z"/>
<path fill="#303030" d="M270 40h4v4h-4zM350 40h4v4h-4zM358 44h4v4h-4zM274 56h4v4h-4zM298 72h4v4h-4zM310 80h4v4h-4zM338 80h4v4h-4zM238 104h4v4h-4zM250 108h4v4h-4zM222 112h4v4h-4zM238 112h4v4h-4zM166 124h4v4h-4zM254 128h4v4h-4zM194 136h4v4h-4zM438 168h4v4h-4zM486 232h4v4h-4zM514 232h4v4h-4zM434 236h4v4h-4zM486 236h4v4h-4zM498 244h4v4h-4zM526 244h4v4h-4zM314 252h4v4h-4zM382 252h12v4h-12zM506 264h4v4h-4zM366 268h4v4h-4zM326 272h4v4h-4zM366 280h4v4h-4zM518 280h4v4h-4zM538 280h4v4h-4zM546 280h4v4h-4zM530 284h4v4h-4zM370 296h4v4h-4zM378 300h4v4h-4zM406 312h4v4h-4zM462 312h4v4h-4zM542 352h4v4h-4zM510 356h4v4h-4zM530 356h4v4h-4zM258 408h4v4h-4zM286 428h4v4h-4zM258 432h4v4h-4zM310 444h4v4h-4zM266 448h4v4h-4zM278 448h4v4h-4zM314 448h4v4h-4zM266 452h12v4h-12zM262 456h16v4h-16zM290 464h4v4h-4zM306 468h4v4h-4zM314 472h4v4h-4z"/>
<path fill="#313131" d="M314 56h4v4h-4zM342 88h4v4h-4zM338 92h4v4h-4zM238 96h4v4h-4zM206 120h4v4h-4zM222 124h4v4h-4zM254 124h4v4h-4zM170 128h4v4h-4zM214 132h4v4h-4zM522 228h4v4h-4zM442 232h4v4h-4zM430 240h4v4h-4zM514 272h4v4h-4zM542 280h4v4h-4zM426 308h8v4h-8zM466 316h4v4h-4zM458 324h4v4h-4zM466 336h4v4h-4zM514 356h8v4h-8zM234 404h4v4h-4zM246 404h4v4h-4zM266 412h4v4h-4zM246 420h4v4h-4zM294 432h4v4h-4zM266 436h4v4h-4zM266 440h4v4h-4zM306 440h4v4h-4zM318 448h4v4h-4zM278 452h8v4h-8zM314 452h8v4h-8zM282 464h8v4h-8zM298 468h8v4h-8zM310 468h4v4h-4zM322 468h4v4h-4z"/>
<path fill="#323232" d="M266 44h4v4h-4zM266 48h4v4h-4zM302 48h4v4h-4zM306 76h4v4h-4zM322 84h4v4h-4zM242 112h4v4h-4zM218 116h4v4h-4zM170 124h4v4h-4zM202 128h4v4h-4zM126 148h4v4h-4zM450 232h12v4h-12zM354 244h4v4h-4zM414 252h4v4h-4zM394 256h4v4h-4zM502 256h4v4h-4zM370 268h4v4h-4zM510 268h4v4h-4zM370 276h4v4h-4zM562 284h4v4h-4zM570 288h4v4h-4zM458 308h4v4h-4zM478 308h4v4h-4zM478 312h4v4h-4zM566 312h4v4h-4zM558 316h4v4h-4zM466 320h4v4h-4zM458 328h4v4h-4zM554 332h4v4h-4zM554 340h4v4h-4zM490 344h4v4h-4zM498 348h4v4h-4zM270 416h4v4h-4zM278 420h4v4h-4zM282 424h4v4h-4zM298 436h8v4h-8zM266 444h4v4h-4zM274 444h4v4h-4zM278 456h4v4h-4zM318 456h4v4h-4zM306 464h4v4h-4zM294 468h4v4h-4z"/>
<path fill="#333333" d="M274 40h4v4h-4zM294 44h4v4h-4zM294 68h4v4h-4zM246 96h4v4h-4zM238 108h4v4h-4zM210 136h4v4h-4zM202 140h4v4h-4zM130 148h4v4h-4zM486 220h4v4h-4zM486 224h4v4h-4zM486 228h4v4h-4zM446 232h4v4h-4zM362 236h4v4h-4zM438 236h4v4h-4zM514 236h4v4h-4zM518 244h8v4h-8zM502 252h4v4h-4zM386 256h4v4h-4zM398 256h4v4h-4zM502 264h4v4h-4zM342 268h4v4h-4zM318 276h4v4h-4zM514 276h4v4h-4zM482 284h4v4h-4zM518 284h4v4h-4zM382 300h4v4h-4zM422 308h4v4h-4zM482 312h4v4h-4zM474 316h4v4h-4zM462 332h4v4h-4zM554 336h4v4h-4zM478 340h4v4h-4zM550 348h4v4h-4zM522 356h8v4h-8zM254 424h4v4h-4zM258 428h4v4h-4zM270 444h4v4h-4zM310 448h4v4h-4zM314 456h4v4h-4zM282 460h4v4h-4zM290 460h4v4h-4zM306 460h4v4h-4zM294 464h4v4h-4zM314 468h8v4h-8z"/>
<path fill="#343434" d="M282 40h4v4h-4zM270 52h4v4h-4zM334 76h4v4h-4zM314 80h4v4h-4zM338 84h4v4h-4zM242 96h4v4h-4zM226 116h4v4h-4zM210 120h4v4h-4zM206 124h4v4h-4zM126 140h4v4h-4zM198 140h4v4h-4zM470 220h4v4h-4zM518 232h4v4h-4zM526 232h4v4h-4zM482 236h4v4h-4zM490 240h4v4h-4zM514 240h4v4h-4zM526 240h4v4h-4zM426 244h4v4h-4zM422 248h4v4h-4zM310 256h4v4h-4zM382 256h4v4h-4zM390 256h4v4h-4zM478 280h8v4h-8zM370 284h4v4h-4zM534 284h4v4h-4zM370 288h4v4h-4zM526 288h4v4h-4zM446 304h4v4h-4zM418 308h4v4h-4zM482 308h4v4h-4zM466 312h4v4h-4zM474 312h4v4h-4zM478 316h4v4h-4zM554 320h4v4h-4zM470 336h4v4h-4zM494 344h4v4h-4zM538 352h4v4h-4zM238 408h4v4h-4zM262 432h4v4h-4zM290 432h4v4h-4zM282 448h4v4h-4zM286 460h4v4h-4zM318 460h4v4h-4zM302 464h4v4h-4zM310 464h4v4h-4z"/>
<path fill="#353535" d="M290 44h4v4h-4zM242 100h4v4h-4zM198 132h4v4h-4zM474 212h4v4h-4zM402 256h4v4h-4zM478 276h4v4h-4zM370 280h4v4h-4zM486 284h4v4h-4zM482 288h8v4h-8zM522 288h4v4h-4zM370 292h4v4h-4zM386 300h4v4h-4zM394 304h4v4h-4zM442 304h4v4h-4zM470 316h4v4h-4zM550 344h4v4h-4zM510 352h4v4h-4zM242 404h4v4h-4zM294 436h4v4h-4zM298 440h4v4h-4zM278 444h4v4h-4zM306 444h4v4h-4zM286 452h4v4h-4zM282 456h8v4h-8zM302 460h4v4h-4zM310 460h4v4h-4zM298 464h4v4h-4z"/>
<path fill="#363636" d="M282 60h4v4h-4zM330 88h4v4h-4zM250 104h4v4h-4zM246 108h4v4h-4zM222 116h4v4h-4zM134 140h4v4h-4zM482 212h4v4h-4zM470 224h4v4h-4zM470 228h4v4h-4zM470 232h4v4h-4zM522 232h4v4h-4zM366 236h4v4h-4zM466 236h4v4h-4zM526 236h4v4h-4zM434 240h4v4h-4zM354 248h4v4h-4zM506 268h4v4h-4zM478 284h4v4h-4zM538 284h4v4h-4zM518 288h4v4h-4zM566 288h4v4h-4zM374 296h4v4h-4zM494 296h4v4h-4zM482 304h4v4h-4zM462 308h4v4h-4zM470 312h4v4h-4zM482 316h4v4h-4zM470 320h4v4h-4zM462 324h4v4h-4zM502 348h4v4h-4zM546 348h4v4h-4zM534 352h4v4h-4zM238 404h4v4h-4zM266 432h4v4h-4zM294 440h4v4h-4zM302 440h4v4h-4zM290 456h4v4h-4zM302 456h12v4h-12zM294 460h4v4h-4zM314 460h4v4h-4zM318 464h4v4h-4z"/>
<path fill="#373737" d="M270 44h4v4h-4zM306 52h4v4h-4zM250 100h4v4h-4zM222 120h4v4h-4zM214 128h4v4h-4zM478 236h4v4h-4zM518 236h4v4h-4zM522 240h4v4h-4zM378 244h4v4h-4zM494 244h4v4h-4zM418 252h4v4h-4zM378 256h4v4h-4zM406 256h8v4h-8zM394 260h4v4h-4zM370 264h4v4h-4zM322 272h4v4h-4zM374 272h4v4h-4zM510 272h4v4h-4zM514 280h4v4h-4zM542 284h4v4h-4zM514 288h4v4h-4zM530 288h4v4h-4zM478 292h8v4h-8zM494 292h4v4h-4zM378 296h4v4h-4zM390 300h4v4h-4zM438 304h4v4h-4zM450 304h4v4h-4zM466 308h4v4h-4zM474 308h4v4h-4zM466 332h4v4h-4zM482 340h4v4h-4zM514 352h12v4h-12zM242 412h4v4h-4zM274 420h4v4h-4zM282 428h4v4h-4zM286 432h4v4h-4zM270 436h4v4h-4zM270 440h4v4h-4zM298 452h4v4h-4zM310 452h4v4h-4zM314 464h4v4h-4z"/>
<path fill="#383838" d="M278 40h4v4h-4zM286 44h4v4h-4zM302 72h4v4h-4zM338 88h4v4h-4zM198 136h4v4h-4zM482 232h4v4h-4zM486 240h4v4h-4zM518 240h4v4h-4zM350 252h4v4h-4zM498 260h4v4h-4zM366 264h4v4h-4zM498 264h4v4h-4zM390 272h4v4h-4zM314 276h4v4h-4zM474 276h4v4h-4zM482 276h4v4h-4zM474 280h4v4h-4zM478 288h4v4h-4zM486 292h8v4h-8zM514 292h4v4h-4zM486 296h8v4h-8zM486 300h12v4h-12zM478 304h4v4h-4zM486 304h4v4h-4zM570 304h4v4h-4zM398 308h4v4h-4zM470 308h4v4h-4zM486 308h4v4h-4zM486 312h4v4h-4zM462 328h4v4h-4zM550 328h4v4h-4zM506 348h4v4h-4zM526 352h8v4h-8zM254 408h4v4h-4zM262 412h4v4h-4zM250 420h4v4h-4zM302 444h4v4h-4zM302 448h8v4h-8zM290 452h4v4h-4zM302 452h4v4h-4zM294 456h8v4h-8zM298 460h4v4h-4z"/>
<path fill="#393939" d="M318 60h4v4h-4zM290 64h4v4h-4zM318 80h4v4h-4zM242 104h4v4h-4zM218 124h4v4h-4zM462 236h4v4h-4zM522 236h4v4h-4zM498 248h4v4h-4zM414 256h4v4h-4zM386 260h4v4h-4zM398 260h4v4h-4zM394 264h4v4h-4zM374 268h4v4h-4zM390 268h8v4h-8zM386 272h4v4h-4zM474 272h4v4h-4zM374 276h4v4h-4zM474 284h4v4h-4zM514 284h4v4h-4zM546 284h4v4h-4zM558 284h4v4h-4zM374 292h4v4h-4zM518 292h12v4h-12zM482 296h4v4h-4zM498 296h4v4h-4zM482 300h4v4h-4zM434 304h4v4h-4zM490 304h4v4h-4zM414 308h4v4h-4zM474 320h4v4h-4zM466 324h4v4h-4zM498 344h4v4h-4zM246 416h4v4h-4zM290 436h4v4h-4zM274 440h4v4h-4zM298 444h4v4h-4zM286 448h4v4h-4zM294 452h4v4h-4z"/>
<path fill="#3a3a3a" d="M310 76h4v4h-4zM334 88h4v4h-4zM242 108h4v4h-4zM214 120h4v4h-4zM210 124h4v4h-4zM206 128h4v4h-4zM130 140h4v4h-4zM126 144h4v4h-4zM134 144h4v4h-4zM442 236h4v4h-4zM470 236h8v4h-8zM478 240h8v4h-8zM426 248h4v4h-4zM378 252h4v4h-4zM382 260h4v4h-4zM390 260h4v4h-4zM338 268h4v4h-4zM378 272h4v4h-4zM394 272h4v4h-4zM550 284h4v4h-4zM498 292h4v4h-4zM510 292h4v4h-4zM566 308h4v4h-4zM562 312h4v4h-4zM554 316h4v4h-4zM478 320h4v4h-4zM550 324h4v4h-4zM474 336h4v4h-4zM550 340h4v4h-4zM242 408h4v4h-4zM258 424h4v4h-4zM278 424h4v4h-4zM262 428h4v4h-4zM282 432h4v4h-4zM290 440h4v4h-4zM282 444h4v4h-4zM294 444h4v4h-4zM298 448h4v4h-4z"/>
<path fill="#3b3b3b" d="M278 56h4v4h-4zM246 100h4v4h-4zM206 136h4v4h-4zM478 232h4v4h-4zM474 240h4v4h-4zM430 244h4v4h-4zM378 248h4v4h-4zM346 252h4v4h-4zM422 252h4v4h-4zM378 260h4v4h-4zM354 264h4v4h-4zM374 264h4v4h-4zM398 264h4v4h-4zM502 268h4v4h-4zM382 272h4v4h-4zM478 272h4v4h-4zM374 280h4v4h-4zM486 280h4v4h-4zM374 288h4v4h-4zM474 288h4v4h-4zM490 288h4v4h-4zM570 292h4v4h-4zM382 296h4v4h-4zM430 304h4v4h-4zM454 304h4v4h-4zM470 332h4v4h-4zM550 332h4v4h-4zM486 340h4v4h-4zM270 432h4v4h-4zM286 436h4v4h-4zM278 440h4v4h-4zM290 444h4v4h-4zM290 448h8v4h-8zM306 452h4v4h-4z"/>
<path fill="#3c3c3c" d="M274 44h4v4h-4zM270 48h4v4h-4zM298 48h4v4h-4zM334 80h4v4h-4zM326 84h4v4h-4zM246 104h4v4h-4zM218 120h4v4h-4zM202 132h4v4h-4zM210 132h4v4h-4zM446 236h4v4h-4zM358 240h4v4h-4zM354 252h4v4h-4zM426 252h4v4h-4zM498 256h4v4h-4zM370 260h8v4h-8zM402 260h4v4h-4zM362 264h4v4h-4zM390 264h4v4h-4zM386 268h4v4h-4zM310 272h4v4h-4zM470 272h4v4h-4zM390 276h4v4h-4zM374 284h4v4h-4zM554 284h4v4h-4zM510 288h4v4h-4zM534 288h4v4h-4zM530 292h4v4h-4zM478 296h4v4h-4zM510 296h4v4h-4zM490 308h4v4h-4zM550 336h4v4h-4zM546 344h4v4h-4zM510 348h4v4h-4zM522 348h4v4h-4zM542 348h4v4h-4zM278 432h4v4h-4zM274 436h8v4h-8zM286 444h4v4h-4z"/>
<path fill="#3d3d3d" d="M330 72h4v4h-4zM214 124h4v4h-4zM210 128h4v4h-4zM202 136h4v4h-4zM478 212h4v4h-4zM482 228h4v4h-4zM474 232h4v4h-4zM458 236h4v4h-4zM350 264h4v4h-4zM358 264h4v4h-4zM386 264h4v4h-4zM378 268h8v4h-8zM498 268h4v4h-4zM482 272h4v4h-4zM378 276h4v4h-4zM386 276h4v4h-4zM510 276h4v4h-4zM470 284h4v4h-4zM538 288h4v4h-4zM562 288h4v4h-4zM378 292h4v4h-4zM474 292h4v4h-4zM502 296h8v4h-8zM514 296h4v4h-4zM478 300h4v4h-4zM498 300h4v4h-4zM474 304h4v4h-4zM486 316h4v4h-4zM466 328h4v4h-4zM502 344h4v4h-4zM518 348h4v4h-4zM246 408h8v4h-8zM266 428h4v4h-4zM274 432h4v4h-4zM282 436h4v4h-4zM286 440h4v4h-4z"/>
<path fill="#3e3e3e" d="M282 44h4v4h-4zM274 52h4v4h-4zM310 56h4v4h-4zM286 60h4v4h-4zM298 68h4v4h-4zM438 240h4v4h-4zM466 240h8v4h-8zM430 248h4v4h-4zM498 252h4v4h-4zM374 256h4v4h-4zM418 256h4v4h-4zM378 264h4v4h-4zM402 264h4v4h-4zM334 268h4v4h-4zM398 268h4v4h-4zM486 272h4v4h-4zM470 276h4v4h-4zM486 276h4v4h-4zM470 280h4v4h-4zM470 288h4v4h-4zM386 296h4v4h-4zM570 300h4v4h-4zM426 304h4v4h-4zM466 304h8v4h-8zM494 304h4v4h-4zM558 312h4v4h-4zM482 320h4v4h-4zM550 320h4v4h-4zM470 324h4v4h-4zM490 340h4v4h-4zM534 348h4v4h-4zM258 412h4v4h-4zM278 428h4v4h-4zM282 440h4v4h-4z"/>
<path fill="#3f3f3f" d="M278 44h4v4h-4zM334 84h4v4h-4zM490 244h4v4h-4zM430 252h4v4h-4zM426 256h4v4h-4zM310 260h4v4h-4zM406 260h4v4h-4zM382 264h4v4h-4zM474 268h4v4h-4zM506 272h4v4h-4zM382 276h4v4h-4zM394 276h4v4h-4zM466 284h4v4h-4zM510 284h4v4h-4zM506 292h4v4h-4zM570 296h4v4h-4zM446 300h4v4h-4zM474 332h4v4h-4zM478 336h4v4h-4zM506 344h4v4h-4zM514 348h4v4h-4zM526 348h8v4h-8zM538 348h4v4h-4zM254 420h4v4h-4z"/>
<path fill="#404040" d="M450 236h4v4h-4zM434 244h4v4h-4zM318 252h4v4h-4zM366 260h4v4h-4zM410 260h8v4h-8zM310 264h4v4h-4zM310 268h4v4h-4zM470 268h4v4h-4zM494 268h4v4h-4zM398 272h4v4h-4zM378 288h4v4h-4zM466 288h4v4h-4zM542 288h4v4h-4zM502 292h4v4h-4zM518 296h4v4h-4zM394 300h4v4h-4zM458 304h4v4h-4zM550 316h4v4h-4zM494 340h4v4h-4zM510 344h4v4h-4zM266 416h4v4h-4zM270 420h4v4h-4zM274 424h4v4h-4z"/>
<path fill="#414141" d="M302 52h4v4h-4zM322 80h4v4h-4zM474 228h4v4h-4zM454 236h4v4h-4zM466 244h4v4h-4zM330 252h4v4h-4zM494 264h4v4h-4zM330 268h4v4h-4zM490 268h4v4h-4zM378 280h4v4h-4zM510 280h4v4h-4zM390 296h4v4h-4zM522 296h4v4h-4zM442 300h4v4h-4zM510 300h4v4h-4zM490 312h4v4h-4zM470 328h4v4h-4zM522 344h4v4h-4zM246 412h4v4h-4zM262 424h4v4h-4zM270 428h8v4h-8z"/>
<path fill="#424242" d="M294 48h4v4h-4zM330 84h4v4h-4zM206 132h4v4h-4zM130 144h4v4h-4zM474 216h4v4h-4zM478 228h4v4h-4zM374 240h4v4h-4zM342 252h4v4h-4zM422 256h4v4h-4zM430 256h4v4h-4zM406 264h4v4h-4zM478 268h4v4h-4zM490 272h4v4h-4zM378 284h4v4h-4zM490 284h4v4h-4zM494 288h4v4h-4zM382 292h4v4h-4zM534 292h4v4h-4zM474 296h4v4h-4zM502 300h8v4h-8zM514 300h4v4h-4zM422 304h4v4h-4zM462 304h4v4h-4zM566 304h4v4h-4zM410 308h4v4h-4zM486 320h4v4h-4zM474 324h8v4h-8zM546 340h4v4h-4zM518 344h4v4h-4z"/>
<path fill="#434343" d="M274 48h4v4h-4zM290 48h4v4h-4zM282 56h4v4h-4zM306 72h4v4h-4zM482 216h4v4h-4zM462 240h4v4h-4zM470 244h8v4h-8zM494 248h4v4h-4zM334 252h4v4h-4zM466 256h4v4h-4zM402 268h4v4h-4zM482 268h8v4h-8zM386 280h4v4h-4zM466 280h4v4h-4zM382 288h4v4h-4zM566 292h4v4h-4zM526 296h4v4h-4zM450 300h4v4h-4zM474 300h4v4h-4zM562 308h4v4h-4zM554 312h4v4h-4zM474 328h4v4h-4zM478 332h4v4h-4zM498 340h4v4h-4zM514 344h4v4h-4z"/>
<path fill="#444444" d="M482 224h4v4h-4zM442 240h4v4h-4zM434 248h4v4h-4zM470 260h4v4h-4zM494 260h4v4h-4zM346 264h4v4h-4zM410 264h4v4h-4zM318 272h4v4h-4zM466 272h4v4h-4zM398 276h4v4h-4zM466 276h4v4h-4zM382 280h4v4h-4zM390 280h4v4h-4zM382 284h4v4h-4zM506 288h4v4h-4zM546 288h4v4h-4zM558 288h4v4h-4zM386 292h4v4h-4zM418 304h4v4h-4zM494 308h4v4h-4zM482 324h4v4h-4zM478 328h4v4h-4zM546 332h4v4h-4zM546 336h4v4h-4zM526 344h4v4h-4zM542 344h4v4h-4zM258 420h4v4h-4z"/>
<path fill="#454545" d="M478 244h4v4h-4zM338 252h4v4h-4zM434 252h4v4h-4zM354 256h4v4h-4zM470 256h4v4h-4zM418 260h4v4h-4zM466 260h4v4h-4zM470 264h4v4h-4zM502 272h4v4h-4zM386 284h4v4h-4zM386 288h4v4h-4zM462 288h4v4h-4zM498 288h4v4h-4zM390 292h4v4h-4zM470 292h4v4h-4zM530 296h4v4h-4zM398 304h4v4h-4zM498 304h4v4h-4zM402 308h4v4h-4zM546 328h4v4h-4zM482 336h4v4h-4zM510 340h4v4h-4zM530 344h4v4h-4zM250 416h4v4h-4zM266 424h8v4h-8z"/>
<path fill="#464646" d="M286 48h4v4h-4zM278 52h4v4h-4zM294 64h4v4h-4zM322 64h4v4h-4zM314 76h4v4h-4zM474 224h4v4h-4zM486 244h4v4h-4zM466 248h4v4h-4zM350 256h4v4h-4zM474 264h4v4h-4zM406 268h4v4h-4zM402 272h4v4h-4zM462 284h4v4h-4zM438 300h4v4h-4zM470 300h4v4h-4zM518 300h4v4h-4zM514 340h4v4h-4zM534 344h4v4h-4zM254 412h4v4h-4z"/>
<path fill="#474747" d="M278 48h4v4h-4zM330 76h4v4h-4zM474 220h4v4h-4zM438 244h4v4h-4zM470 248h4v4h-4zM326 252h4v4h-4zM466 252h8v4h-8zM434 256h4v4h-4zM362 260h4v4h-4zM414 264h4v4h-4zM466 264h4v4h-4zM478 264h4v4h-4zM490 264h4v4h-4zM326 268h4v4h-4zM466 268h4v4h-4zM494 272h4v4h-4zM394 280h4v4h-4zM550 288h4v4h-4zM538 292h4v4h-4zM394 296h4v4h-4zM566 300h4v4h-4zM406 308h4v4h-4zM490 316h4v4h-4zM486 324h4v4h-4zM486 336h4v4h-4zM502 340h8v4h-8zM518 340h8v4h-8zM262 416h4v4h-4z"/>
<path fill="#484848" d="M282 48h4v4h-4zM290 60h4v4h-4zM302 68h4v4h-4zM326 68h4v4h-4zM446 240h4v4h-4zM462 244h4v4h-4zM482 244h4v4h-4zM370 256h4v4h-4zM462 256h4v4h-4zM422 260h4v4h-4zM482 264h4v4h-4zM498 272h4v4h-4zM462 276h4v4h-4zM490 276h4v4h-4zM462 280h4v4h-4zM490 280h4v4h-4zM502 288h4v4h-4zM554 288h4v4h-4zM566 296h4v4h-4zM510 304h4v4h-4zM558 308h4v4h-4zM482 328h4v4h-4zM542 340h4v4h-4zM538 344h4v4h-4zM258 416h4v4h-4z"/>
<path fill="#494949" d="M286 56h4v4h-4zM330 80h4v4h-4zM322 252h4v4h-4zM358 256h4v4h-4zM494 256h4v4h-4zM354 260h8v4h-8zM426 260h4v4h-4zM462 260h4v4h-4zM474 260h4v4h-4zM506 276h4v4h-4zM390 284h4v4h-4zM390 288h4v4h-4zM470 296h4v4h-4zM534 296h4v4h-4zM502 304h4v4h-4zM514 304h4v4h-4zM550 312h4v4h-4zM546 324h4v4h-4zM538 336h8v4h-8zM534 340h8v4h-8zM250 412h4v4h-4zM254 416h4v4h-4zM262 420h8v4h-8z"/>
<path fill="#4a4a4a" d="M282 52h4v4h-4zM298 52h4v4h-4zM306 56h4v4h-4zM326 80h4v4h-4zM482 220h4v4h-4zM458 240h4v4h-4zM494 252h4v4h-4zM462 264h4v4h-4zM486 264h4v4h-4zM410 268h4v4h-4zM462 272h4v4h-4zM506 284h4v4h-4zM394 292h4v4h-4zM466 292h4v4h-4zM562 292h4v4h-4zM434 300h4v4h-4zM454 300h4v4h-4zM522 300h4v4h-4zM506 304h4v4h-4zM542 332h4v4h-4zM534 336h4v4h-4zM526 340h8v4h-8z"/>
<path fill="#4b4b4b" d="M438 248h4v4h-4zM474 248h4v4h-4zM350 260h4v4h-4zM430 260h4v4h-4zM314 272h4v4h-4zM466 300h4v4h-4zM414 304h4v4h-4zM546 316h4v4h-4zM546 320h4v4h-4zM482 332h4v4h-4zM490 336h4v4h-4z"/>
<path fill="#4c4c4c" d="M478 224h4v4h-4zM358 252h4v4h-4zM438 252h4v4h-4zM346 256h4v4h-4zM458 256h4v4h-4zM454 260h4v4h-4zM462 268h4v4h-4zM526 300h4v4h-4zM518 304h4v4h-4zM494 312h4v4h-4zM490 320h4v4h-4zM538 332h4v4h-4zM514 336h4v4h-4z"/>
<path fill="#4d4d4d" d="M286 52h12v4h-12zM314 60h4v4h-4zM298 64h4v4h-4zM462 248h4v4h-4zM490 248h4v4h-4zM462 252h4v4h-4zM438 256h4v4h-4zM454 256h4v4h-4zM434 260h4v4h-4zM458 260h4v4h-4zM418 264h4v4h-4zM402 276h4v4h-4zM462 292h4v4h-4zM446 296h4v4h-4zM398 300h4v4h-4zM530 300h4v4h-4zM562 304h4v4h-4zM554 308h4v4h-4zM486 328h4v4h-4zM510 336h4v4h-4zM518 336h8v4h-8zM530 336h4v4h-4z"/>
<path fill="#4e4e4e" d="M290 56h4v4h-4zM478 216h4v4h-4zM442 244h4v4h-4zM374 252h4v4h-4zM474 256h4v4h-4zM458 264h4v4h-4zM322 268h4v4h-4zM406 272h4v4h-4zM398 280h4v4h-4zM506 280h4v4h-4zM394 284h4v4h-4zM394 288h4v4h-4zM458 288h4v4h-4zM542 292h4v4h-4zM430 300h4v4h-4zM498 308h4v4h-4zM486 332h4v4h-4zM534 332h4v4h-4zM526 336h4v4h-4z"/>
<path fill="#4f4f4f" d="M302 56h4v4h-4zM474 252h4v4h-4zM442 256h8v4h-8zM450 260h4v4h-4zM478 260h4v4h-4zM490 260h4v4h-4zM342 264h4v4h-4zM414 268h4v4h-4zM494 284h4v4h-4zM558 292h4v4h-4zM450 296h4v4h-4zM458 300h4v4h-4zM530 304h4v4h-4zM510 308h4v4h-4zM546 312h4v4h-4zM526 332h4v4h-4zM494 336h4v4h-4z"/>
<path fill="#505050" d="M450 240h8v4h-8zM478 248h4v4h-4zM362 256h8v4h-8zM450 256h4v4h-4zM454 264h4v4h-4zM494 276h4v4h-4zM458 284h4v4h-4zM462 300h4v4h-4zM522 304h4v4h-4zM514 308h4v4h-4zM522 332h4v4h-4zM498 336h4v4h-4z"/>
<path fill="#515151" d="M310 72h4v4h-4zM458 252h4v4h-4zM438 260h4v4h-4zM422 264h4v4h-4zM458 268h4v4h-4zM546 292h4v4h-4zM466 296h4v4h-4zM538 296h4v4h-4zM534 300h4v4h-4zM526 304h4v4h-4zM542 328h4v4h-4zM530 332h4v4h-4z"/>
<path fill="#525252" d="M294 60h4v4h-4zM442 252h4v4h-4zM454 252h4v4h-4zM346 260h4v4h-4zM482 260h4v4h-4zM458 272h4v4h-4zM458 276h4v4h-4zM502 276h4v4h-4zM458 280h4v4h-4zM502 284h4v4h-4zM458 292h4v4h-4zM550 292h4v4h-4zM562 296h4v4h-4zM426 300h4v4h-4zM550 308h4v4h-4zM506 336h4v4h-4z"/>
<path fill="#535353" d="M294 56h4v4h-4zM302 64h4v4h-4zM478 220h4v4h-4zM446 244h4v4h-4zM458 244h4v4h-4zM442 248h4v4h-4zM446 260h4v4h-4zM498 276h4v4h-4zM562 300h4v4h-4zM534 304h4v4h-4zM506 308h4v4h-4zM518 308h4v4h-4zM494 316h4v4h-4zM490 324h4v4h-4zM490 332h4v4h-4zM518 332h4v4h-4zM502 336h4v4h-4z"/>
<path fill="#545454" d="M298 56h4v4h-4zM458 248h4v4h-4zM442 260h4v4h-4zM494 280h4v4h-4zM498 284h4v4h-4zM554 292h4v4h-4zM398 296h4v4h-4zM442 296h4v4h-4zM454 296h4v4h-4zM558 304h4v4h-4zM502 308h4v4h-4zM546 308h4v4h-4zM510 312h8v4h-8zM542 312h4v4h-4zM514 332h4v4h-4z"/>
<path fill="#555555" d="M306 68h4v4h-4zM318 76h4v4h-4zM358 244h4v4h-4zM482 248h4v4h-4zM446 252h4v4h-4zM478 252h4v4h-4zM490 256h4v4h-4zM486 260h4v4h-4zM450 264h4v4h-4zM314 268h4v4h-4zM410 272h4v4h-4zM458 296h8v4h-8zM522 308h4v4h-4zM530 308h8v4h-8zM542 308h4v4h-4zM518 312h4v4h-4zM494 320h4v4h-4zM522 328h8v4h-8z"/>
<path fill="#565656" d="M298 60h4v4h-4zM486 248h4v4h-4zM490 252h4v4h-4zM478 256h4v4h-4zM426 264h4v4h-4zM422 300h4v4h-4zM402 304h4v4h-4zM526 308h4v4h-4zM538 308h4v4h-4zM514 316h4v4h-4zM542 316h4v4h-4zM510 332h4v4h-4z"/>
<path fill="#575757" d="M302 60h4v4h-4zM450 252h4v4h-4zM342 256h4v4h-4zM338 264h4v4h-4zM318 268h4v4h-4zM454 268h4v4h-4zM398 284h4v4h-4zM454 292h4v4h-4zM538 300h4v4h-4zM410 304h4v4h-4zM538 304h4v4h-4zM554 304h4v4h-4zM498 312h4v4h-4zM522 312h4v4h-4zM518 316h4v4h-4zM490 328h4v4h-4zM538 328h4v4h-4z"/>
<path fill="#585858" d="M358 248h4v4h-4zM454 248h4v4h-4zM482 252h4v4h-4zM454 288h4v4h-4zM450 292h4v4h-4zM542 296h4v4h-4zM550 296h4v4h-4zM558 296h4v4h-4zM542 304h4v4h-4zM550 304h4v4h-4zM538 312h4v4h-4zM514 328h8v4h-8zM506 332h4v4h-4z"/>
<path fill="#595959" d="M326 76h4v4h-4zM450 244h8v4h-8zM446 248h4v4h-4zM482 256h4v4h-4zM418 268h4v4h-4zM502 280h4v4h-4zM398 292h4v4h-4zM546 296h4v4h-4zM418 300h4v4h-4zM546 304h4v4h-4zM510 316h4v4h-4zM514 320h8v4h-8zM514 324h8v4h-8zM542 324h4v4h-4zM506 328h8v4h-8z"/>
<path fill="#5a5a5a" d="M310 60h4v4h-4zM314 256h4v4h-4zM430 264h4v4h-4zM406 276h4v4h-4zM402 280h4v4h-4zM498 280h4v4h-4zM398 288h4v4h-4zM554 296h4v4h-4zM506 312h4v4h-4zM510 324h4v4h-4zM494 332h12v4h-12z"/>
<path fill="#5b5b5b" d="M306 60h4v4h-4zM450 248h4v4h-4zM446 264h4v4h-4zM558 300h4v4h-4zM534 312h4v4h-4zM542 320h4v4h-4zM494 324h4v4h-4zM506 324h4v4h-4zM522 324h4v4h-4zM502 328h4v4h-4z"/>
<path fill="#5c5c5c" d="M486 252h4v4h-4zM486 256h4v4h-4zM334 264h4v4h-4zM454 284h4v4h-4zM402 300h4v4h-4zM542 300h16v4h-16zM526 312h4v4h-4zM510 320h4v4h-4zM498 324h8v4h-8z"/>
<path fill="#5d5d5d" d="M434 264h4v4h-4zM414 272h4v4h-4zM446 292h4v4h-4zM414 300h4v4h-4zM502 312h4v4h-4zM498 316h4v4h-4zM522 316h4v4h-4zM498 320h4v4h-4zM530 328h8v4h-8z"/>
<path fill="#5e5e5e" d="M326 72h4v4h-4zM362 240h4v4h-4zM338 256h4v4h-4zM450 268h4v4h-4zM454 272h4v4h-4zM406 304h4v4h-4zM530 312h4v4h-4zM498 328h4v4h-4z"/>
<path fill="#5f5f5f" d="M306 64h4v4h-4zM322 76h4v4h-4zM334 256h4v4h-4zM342 260h4v4h-4zM442 264h4v4h-4zM454 280h4v4h-4zM506 316h4v4h-4zM494 328h4v4h-4z"/>
<path fill="#606060" d="M314 264h4v4h-4zM438 264h4v4h-4zM422 268h4v4h-4zM454 276h4v4h-4zM506 320h4v4h-4zM522 320h4v4h-4z"/>
<path fill="#616161" d="M450 288h4v4h-4zM402 296h4v4h-4zM502 316h4v4h-4zM538 316h4v4h-4zM502 320h4v4h-4z"/>
<path fill="#626262" d="M438 296h4v4h-4z"/>
<path fill="#636363" d="M370 240h4v4h-4zM374 244h4v4h-4zM410 300h4v4h-4z"/>
<path fill="#646464" d="M330 264h4v4h-4zM410 276h4v4h-4z"/>
<path fill="#656565" d="M406 300h4v4h-4zM526 324h4v4h-4z"/>
<path fill="#666666" d="M374 248h4v4h-4zM426 268h4v4h-4zM402 284h4v4h-4zM526 316h4v4h-4z"/>
<path fill="#676767" d="M338 260h4v4h-4z"/>
<path fill="#686868" d="M310 68h4v4h-4zM446 268h4v4h-4zM402 292h4v4h-4zM538 324h4v4h-4z"/>
<path fill="#696969" d="M314 72h4v4h-4zM450 272h4v4h-4z"/>
<path fill="#6a6a6a" d="M330 256h4v4h-4zM418 272h4v4h-4zM406 280h4v4h-4zM450 284h4v4h-4z"/>
<path fill="#6b6b6b" d="M402 288h4v4h-4zM406 296h4v4h-4zM434 296h4v4h-4zM534 316h4v4h-4z"/>
<path fill="#6c6c6c" d="M318 64h4v4h-4zM362 252h4v4h-4zM538 320h4v4h-4z"/>
<path fill="#6d6d6d" d="M334 260h4v4h-4zM526 320h4v4h-4z"/>
<path fill="#6e6e6e" d="M310 64h4v4h-4zM370 252h4v4h-4zM314 260h4v4h-4zM430 268h4v4h-4zM450 276h4v4h-4zM530 316h4v4h-4z"/>
<path fill="#6f6f6f" d="M442 268h4v4h-4zM450 280h4v4h-4z"/>
<path fill="#707070" d="M326 264h4v4h-4zM414 276h4v4h-4zM442 292h4v4h-4zM430 296h4v4h-4z"/>
<path fill="#717171" d="M410 296h4v4h-4zM530 324h4v4h-4z"/>
<path fill="#727272" d="M434 268h4v4h-4zM446 288h4v4h-4z"/>
<path fill="#737373" d="M366 240h4v4h-4zM438 268h4v4h-4z"/>
<path fill="#747474" d="M446 272h4v4h-4zM534 324h4v4h-4z"/>
<path fill="#757575" d="M422 296h8v4h-8z"/>
<path fill="#767676" d="M422 272h4v4h-4zM414 296h8v4h-8z"/>
<path fill="#777777" d="M406 284h4v4h-4zM406 292h4v4h-4z"/>
<path fill="#787878" d="M410 280h4v4h-4z"/>
<path fill="#797979" d="M314 64h4v4h-4zM318 264h4v4h-4z"/>
<path fill="#7a7a7a" d="M322 68h4v4h-4zM530 320h4v4h-4z"/>
<path fill="#7b7b7b" d="M322 264h4v4h-4zM534 320h4v4h-4z"/>
<path fill="#7c7c7c" d="M406 288h4v4h-4z"/>
<path fill="#7d7d7d" d="M330 260h4v4h-4z"/>
<path fill="#7e7e7e" d="M446 276h4v4h-4z"/>
<path fill="#7f7f7f" d="M366 252h4v4h-4zM418 276h4v4h-4z"/>
<path fill="#808080" d="M426 272h4v4h-4z"/>
<path fill="#818181" d="M442 272h4v4h-4z"/>
<path fill="#828282" d="M322 72h4v4h-4z"/>
<path fill="#838383" d="M326 256h4v4h-4zM446 284h4v4h-4z"/>
<path fill="#858585" d="M410 292h4v4h-4z"/>
<path fill="#868686" d="M446 280h4v4h-4z"/>
<path fill="#878787" d="M414 280h4v4h-4z"/>
<path fill="#888888" d="M318 72h4v4h-4z"/>
<path fill="#898989" d="M410 284h4v4h-4z"/>
<path fill="#8a8a8a" d="M438 292h4v4h-4z"/>
<path fill="#8b8b8b" d="M318 256h4v4h-4zM430 272h4v4h-4z"/>
<path fill="#8c8c8c" d="M438 272h4v4h-4z"/>
<path fill="#8e8e8e" d="M314 68h4v4h-4z"/>
<path fill="#8f8f8f" d="M434 272h4v4h-4z"/>
<path fill="#909090" d="M410 288h4v4h-4z"/>
<path fill="#919191" d="M422 276h4v4h-4zM414 292h4v4h-4z"/>
<path fill="#939393" d="M442 288h4v4h-4z"/>
<path fill="#969696" d="M418 292h4v4h-4z"/>
<path fill="#979797" d="M362 244h4v4h-4zM442 276h4v4h-4z"/>
<path fill="#999999" d="M326 260h4v4h-4zM418 280h4v4h-4z"/>
<path fill="#9a9a9a" d="M362 248h4v4h-4z"/>
<path fill="#9b9b9b" d="M322 256h4v4h-4zM414 284h4v4h-4zM422 292h4v4h-4z"/>
<path fill="#9c9c9c" d="M434 292h4v4h-4z"/>
<path fill="#a0a0a0" d="M414 288h4v4h-4z"/>
<path fill="#a1a1a1" d="M426 292h4v4h-4z"/>
<path fill="#a2a2a2" d="M430 292h4v4h-4z"/>
<path fill="#a3a3a3" d="M426 276h4v4h-4z"/>
<path fill="#a4a4a4" d="M370 244h4v4h-4z"/>
<path fill="#a7a7a7" d="M370 248h4v4h-4z"/>
<path fill="#a8a8a8" d="M318 260h4v4h-4z"/>
<path fill="#aaaaaa" d="M418 288h4v4h-4z"/>
<path fill="#ababab" d="M318 68h4v4h-4zM442 280h4v4h-4zM418 284h4v4h-4z"/>
<path fill="#adadad" d="M422 280h4v4h-4zM442 284h4v4h-4z"/>
<path fill="#b0b0b0" d="M438 276h4v4h-4z"/>
<path fill="#b4b4b4" d="M430 276h4v4h-4z"/>
<path fill="#b6b6b6" d="M422 288h4v4h-4z"/>
<path fill="#b8b8b8" d="M322 260h4v4h-4zM434 276h4v4h-4z"/>
<path fill="#bbbbbb" d="M438 288h4v4h-4z"/>
<path fill="#bdbdbd" d="M422 284h4v4h-4z"/>
<path fill="#c3c3c3" d="M366 244h4v4h-4z"/>
<path fill="#c6c6c6" d="M366 248h4v4h-4zM426 280h4v4h-4zM426 288h4v4h-4z"/>
<path fill="#d1d1d1" d="M438 280h4v4h-4z"/>
<path fill="#d3d3d3" d="M430 288h4v4h-4z"/>
<path fill="#d4d4d4" d="M434 288h4v4h-4z"/>
<path fill="#d6d6d6" d="M426 284h4v4h-4z"/>
<path fill="#dadada" d="M438 284h4v4h-4z"/>
<path fill="#dedede" d="M430 280h4v4h-4z"/>
<path fill="#e3e3e3" d="M434 280h4v4h-4z"/>
<path fill="#eeeeee" d="M430 284h4v4h-4z"/>
<path fill="#f3f3f3" d="M434 284h4v4h-4z"/>
</g></g></g>
<path d="M104.5 40V480M151.5 40V480M197.5 40V480M244.5 40V480M291.5 40V480M337.5 40V480M384.5 40V480M431.5 40V480M477.5 40V480M524.5 40V480M571.5 40V480M82 48.5H572M82 92.5H572M82 136.5H572M82 180.5H572M82 224.5H572M82 268.5H572M82 312.5H572M82 357.5H572M82 401.5H572M82 445.5H572" stroke="#262626" stroke-opacity="0.15" stroke-width="1" fill="none"/>
<g fill="none" stroke-linejoin="round">
<g stroke="#fff" stroke-width="3.2">
<ellipse cx="409.8" cy="173" rx="3.4" ry="3.6"/>
<path d="M478.5 201.5H488L483.5 207z"/>
<path d="M493 204C495 199 506 199 509 205C510 208 509 211 508 212L512 215L516 217L517 220L513 220L508 215C504 216 495 215 493 209z" stroke-width="4.2"/>
<ellipse cx="99.5" cy="312.5" rx="2.2" ry="1.8"/>
<path d="M116 302.5V306H118.5V302z"/>
</g>
<g stroke="#000" stroke-width="1.25">
<ellipse cx="409.8" cy="173" rx="3.4" ry="3.6"/>
<path d="M478.5 201.5H488L483.5 207z"/>
<path d="M493 204C495 199 506 199 509 205C510 208 509 211 508 212L512 215L516 217L517 220L513 220L508 215C504 216 495 215 493 209z"/>
<ellipse cx="99.5" cy="312.5" rx="1.5" ry="1.2"/>
<path d="M116.5 303V305.5H118V302.5z"/>
<path d="M106 398C106 396 108 395 109 396L111 398H106z" stroke-width="0.9"/>
</g>
</g>
<g clip-path="url(#ax)">
<circle cx="521.5" cy="457.7" r="43.3" fill="#fbf3dc" stroke="#bdb6a6" stroke-width="0.8"/>
<g stroke="#555" stroke-width="0.7" fill="none">
<path d="M546 440L543.3 463.5M549.4 440.7V463M553.7 440.7L554.3 463M557.7 439.5L559.7 465M545.5 446L557.5 457M557.5 446L545 457M544.5 455L558.5 463"/>
</g>
<ellipse cx="551.3" cy="432.3" rx="8.3" ry="9" fill="#000"/>
<path d="M549 440L554 440L551.5 442z" fill="#000"/>
<path d="M470.3 462.5L498.6 457.7V451.4L503 451L506 449.5L511 449L512 447L521 447L522.9 454.6L528 455.6L532.3 455.3L538.3 458.7L569.7 470V480.5H470.3z" fill="#000"/>
<ellipse cx="495.2" cy="444" rx="9.6" ry="4.9" transform="rotate(-35 495.2 444)" fill="#000"/>
<path d="M498 447L502 452H497z" fill="#000"/>
<ellipse cx="515.5" cy="441" rx="9.8" ry="5.6" transform="rotate(-12 515.5 441)" fill="#000"/>
<path d="M512.5 436L514.5 433.5L517 436z" fill="#000"/>
<path d="M490.5 437L494 440" stroke="#999" stroke-width="0.6"/>
<g font-family="Liberation Sans, sans-serif" font-size="11.5" font-weight="normal" fill="#e8e8e8" stroke="#e8e8e8" stroke-width="0.35" text-anchor="middle">
<text x="489.4" y="477.3">C</text><text x="502.6" y="477.3">I</text><text x="516.6" y="477.3">M</text><text x="532.7" y="477.3">S</text><text x="547.7" y="477.3">S</text>
</g>
</g>
<path d="M104.5 480.5v-4M104.5 40v4M151.5 480.5v-4M151.5 40v4M197.5 480.5v-4M197.5 40v4M244.5 480.5v-4M244.5 40v4M291.5 480.5v-4M291.5 40v4M337.5 480.5v-4M337.5 40v4M384.5 480.5v-4M384.5 40v4M431.5 480.5v-4M431.5 40v4M477.5 480.5v-4M477.5 40v4M524.5 480.5v-4M524.5 40v4M571.5 480.5v-4M571.5 40v4M82 48.5h4M573 48.5h-4M82 92.5h4M573 92.5h-4M82 136.5h4M573 136.5h-4M82 180.5h4M573 180.5h-4M82 224.5h4M573 224.5h-4M82 268.5h4M573 268.5h-4M82 312.5h4M573 312.5h-4M82 357.5h4M573 357.5h-4M82 401.5h4M573 401.5h-4M82 445.5h4M573 445.5h-4" stroke="#262626" stroke-width="1" fill="none"/>
<rect x="82.5" y="40.5" width="490" height="440" fill="none" stroke="#262626" stroke-width="1"/>
<text x="104.5" y="504" font-family="Liberation Sans, sans-serif" font-size="16.4" fill="#262626" stroke="#262626" stroke-width="0.3" text-anchor="middle" letter-spacing="0.5">-158</text>
<text x="151.5" y="504" font-family="Liberation Sans, sans-serif" font-size="16.4" fill="#262626" stroke="#262626" stroke-width="0.3" text-anchor="middle" letter-spacing="0.5">-157</text>
<text x="197.5" y="504" font-family="Liberation Sans, sans-serif" font-size="16.4" fill="#262626" stroke="#262626" stroke-width="0.3" text-anchor="middle" letter-spacing="0.5">-156</text>
<text x="244.5" y="504" font-family="Liberation Sans, sans-serif" font-size="16.4" fill="#262626" stroke="#262626" stroke-width="0.3" text-anchor="middle" letter-spacing="0.5">-155</text>
<text x="291.5" y="504" font-family="Liberation Sans, sans-serif" font-size="16.4" fill="#262626" stroke="#262626" stroke-width="0.3" text-anchor="middle" letter-spacing="0.5">-154</text>
<text x="337.5" y="504" font-family="Liberation Sans, sans-serif" font-size="16.4" fill="#262626" stroke="#262626" stroke-width="0.3" text-anchor="middle" letter-spacing="0.5">-153</text>
<text x="384.5" y="504" font-family="Liberation Sans, sans-serif" font-size="16.4" fill="#262626" stroke="#262626" stroke-width="0.3" text-anchor="middle" letter-spacing="0.5">-152</text>
<text x="431.5" y="504" font-family="Liberation Sans, sans-serif" font-size="16.4" fill="#262626" stroke="#262626" stroke-width="0.3" text-anchor="middle" letter-spacing="0.5">-151</text>
<text x="477.5" y="504" font-family="Liberation Sans, sans-serif" font-size="16.4" fill="#262626" stroke="#262626" stroke-width="0.3" text-anchor="middle" letter-spacing="0.5">-150</text>
<text x="524.5" y="504" font-family="Liberation Sans, sans-serif" font-size="16.4" fill="#262626" stroke="#262626" stroke-width="0.3" text-anchor="middle" letter-spacing="0.5">-149</text>
<text x="571.5" y="504" font-family="Liberation Sans, sans-serif" font-size="16.4" fill="#262626" stroke="#262626" stroke-width="0.3" text-anchor="middle" letter-spacing="0.5">-148</text>
<text x="74.2" y="54.3" font-family="Liberation Sans, sans-serif" font-size="16.4" fill="#262626" stroke="#262626" stroke-width="0.3" text-anchor="end" letter-spacing="0.5">-14</text>
<text x="74.2" y="98.4" font-family="Liberation Sans, sans-serif" font-size="16.4" fill="#262626" stroke="#262626" stroke-width="0.3" text-anchor="end" letter-spacing="0.5">-15</text>
<text x="74.2" y="142.5" font-family="Liberation Sans, sans-serif" font-size="16.4" fill="#262626" stroke="#262626" stroke-width="0.3" text-anchor="end" letter-spacing="0.5">-16</text>
<text x="74.2" y="186.6" font-family="Liberation Sans, sans-serif" font-size="16.4" fill="#262626" stroke="#262626" stroke-width="0.3" text-anchor="end" letter-spacing="0.5">-17</text>
<text x="74.2" y="230.7" font-family="Liberation Sans, sans-serif" font-size="16.4" fill="#262626" stroke="#262626" stroke-width="0.3" text-anchor="end" letter-spacing="0.5">-18</text>
<text x="74.2" y="274.8" font-family="Liberation Sans, sans-serif" font-size="16.4" fill="#262626" stroke="#262626" stroke-width="0.3" text-anchor="end" letter-spacing="0.5">-19</text>
<text x="74.2" y="318.9" font-family="Liberation Sans, sans-serif" font-size="16.4" fill="#262626" stroke="#262626" stroke-width="0.3" text-anchor="end" letter-spacing="0.5">-20</text>
<text x="74.2" y="363.0" font-family="Liberation Sans, sans-serif" font-size="16.4" fill="#262626" stroke="#262626" stroke-width="0.3" text-anchor="end" letter-spacing="0.5">-21</text>
<text x="74.2" y="407.1" font-family="Liberation Sans, sans-serif" font-size="16.4" fill="#262626" stroke="#262626" stroke-width="0.3" text-anchor="end" letter-spacing="0.5">-22</text>
<text x="74.2" y="451.2" font-family="Liberation Sans, sans-serif" font-size="16.4" fill="#262626" stroke="#262626" stroke-width="0.3" text-anchor="end" letter-spacing="0.5">-23</text>
<text x="328.4" y="527.0" font-family="Liberation Sans, sans-serif" font-size="18.6" fill="#262626" stroke="#262626" stroke-width="0.3" text-anchor="middle" letter-spacing="0.65">longitude</text>
<text x="0" y="0" transform="translate(40.2 259.6) rotate(-90)" font-family="Liberation Sans, sans-serif" font-size="18.6" fill="#262626" stroke="#262626" stroke-width="0.3" text-anchor="middle" letter-spacing="0.65">latitude</text>
<text x="329" y="31.7" font-family="Liberation Sans, sans-serif" font-weight="bold" font-size="18" fill="#000" text-anchor="middle" letter-spacing="0.32">Nat: 07-Feb-2024 04:00:00</text>
<text x="91.5" y="67.8" font-family="Liberation Sans, sans-serif" font-weight="bold" font-size="16.5" fill="#000" letter-spacing="0.3">Vmax: 36 kts</text>
<text x="565.5" y="67.6" font-family="Liberation Sans, sans-serif" font-weight="bold" font-size="16.5" fill="#000" text-anchor="end" letter-spacing="0.3">00:17 away</text>
<rect x="599" y="40" width="28" height="441" fill="url(#cb)"/>
<text x="633" y="487.8" font-family="Liberation Sans, sans-serif" font-size="16" fill="#262626" stroke="#262626" stroke-width="0.3">160</text>
<text x="633" y="414.5" font-family="Liberation Sans, sans-serif" font-size="16" fill="#262626" stroke="#262626" stroke-width="0.3">180</text>
<text x="633" y="341.1" font-family="Liberation Sans, sans-serif" font-size="16" fill="#262626" stroke="#262626" stroke-width="0.3">200</text>
<text x="633" y="267.8" font-family="Liberation Sans, sans-serif" font-size="16" fill="#262626" stroke="#262626" stroke-width="0.3">220</text>
<text x="633" y="194.5" font-family="Liberation Sans, sans-serif" font-size="16" fill="#262626" stroke="#262626" stroke-width="0.3">240</text>
<text x="633" y="121.1" font-family="Liberation Sans, sans-serif" font-size="16" fill="#262626" stroke="#262626" stroke-width="0.3">260</text>
<text x="633" y="47.8" font-family="Liberation Sans, sans-serif" font-size="16" fill="#262626" stroke="#262626" stroke-width="0.3">280</text>
<path d="M627 480.5h-4.5M627 407.2h-4.5M627 333.8h-4.5M627 260.5h-4.5M627 187.2h-4.5M627 113.8h-4.5M627 40.5h-4.5" stroke="#262626" stroke-width="1" fill="none"/>
<rect x="599.5" y="40.5" width="27" height="440" fill="none" stroke="#262626" stroke-width="1"/>
<text x="0" y="0" transform="translate(677.8 261.2) rotate(-90)" font-family="Liberation Sans, sans-serif" font-size="13.65" fill="#262626" stroke="#262626" stroke-width="0.15" text-anchor="middle">Brightness Temp - Horizontal Polarization</text>
</svg></body></html>
